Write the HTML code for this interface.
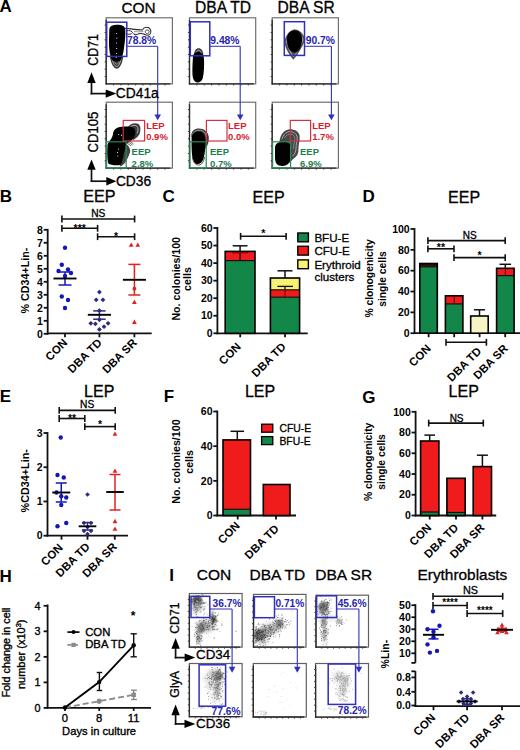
<!DOCTYPE html>
<html><head><meta charset="utf-8"><style>
html,body{margin:0;padding:0;background:#fff;width:520px;height:750px;overflow:hidden}
svg{display:block}
</style></head><body>
<svg width="520" height="750" viewBox="0 0 520 750" font-family='"Liberation Sans", sans-serif'>
<defs><filter id="b1" x="-50%" y="-50%" width="200%" height="200%"><feGaussianBlur stdDeviation="2.2"/></filter><filter id="b2" x="-50%" y="-50%" width="200%" height="200%"><feGaussianBlur stdDeviation="1.2"/></filter><clipPath id="c0"><rect x="189.4" y="593.5" width="52.69999999999999" height="53.60000000000002"/></clipPath><clipPath id="c1"><rect x="253.5" y="594.4" width="52.5" height="52.700000000000045"/></clipPath><clipPath id="c2"><rect x="316.0" y="595.2" width="52.5" height="51.89999999999998"/></clipPath><clipPath id="c3"><rect x="189.4" y="663.5" width="52.69999999999999" height="53.200000000000045"/></clipPath><clipPath id="c4"><rect x="253.3" y="663.5" width="53.0" height="53.5"/></clipPath><clipPath id="c5"><rect x="315.6" y="663.5" width="52.89999999999998" height="53.60000000000002"/></clipPath></defs>
<rect width="520" height="750" fill="#fff"/>
<text x="-0.6" y="12.4" font-size="17" font-weight="bold">A</text>
<text x="138.6" y="12.6" font-size="15.4" text-anchor="middle" stroke="#000" stroke-width="0.3">CON</text>
<text x="223.0" y="12.6" font-size="15.6" text-anchor="middle" stroke="#000" stroke-width="0.3">DBA TD</text>
<text x="306.1" y="12.6" font-size="15.6" text-anchor="middle" stroke="#000" stroke-width="0.3">DBA SR</text>
<path d="M125,28.2 C130,28.6 136,29.9 142.3,29.9 C143.6,27.6 146,26.8 148.2,27.6 C150.9,28.8 151.6,32 150.1,34 C148.6,35.6 146,35.3 144.5,34.3 C141.5,33 139,33.3 136.8,34.6 C135.5,35.2 134.2,34.3 133.6,33.4" fill="none" stroke="#2a2a2a" stroke-width="1.05"/>
<path d="M126,30.7 C129.5,30.1 132.4,31.2 132.6,32.7 C131.6,34.3 128.8,34.6 126,34" fill="none" stroke="#333" stroke-width="1.0"/>
<path d="M145.3,31 C145.9,29.7 148,29.5 149,30.8 C149.6,32.3 148.5,33.7 146.8,33.7 C145.6,33.4 145.1,32.1 145.3,31 Z" fill="none" stroke="#444" stroke-width="0.9"/>
<path d="M134,31.6 C137,31.9 140,31.9 143.3,31.6" fill="none" stroke="#666" stroke-width="0.7"/>
<path d="M109.8,56 C110.8,64 114,68.8 116.8,68.8 C119.8,68.8 122.4,63 123.4,56 Z" fill="#3a3a3a"/>
<path d="M112.2,59 C113.2,64 115.2,66.6 116.8,66.6 C118.6,66.6 120.3,62.5 121.2,58" fill="none" stroke="#ddd" stroke-width="0.7"/>
<path d="M114.2,60 C114.8,62.8 115.8,64.3 116.8,64.3 C117.8,64.3 118.8,62 119.3,59.5" fill="none" stroke="#bbb" stroke-width="0.6"/>
<path d="M109.3,29.5 C109.5,25.8 113.5,24.8 117.5,24.8 C121.5,24.8 124.8,25.6 125.3,29.5 C125.6,35 125,42 124,48 C123.2,54 122,58.5 120.2,60.8 C117.5,62.2 114.2,62 112,60 C109.8,56 108.8,48 109,40 Z" fill="#000"/>
<circle cx="116.6" cy="33.5" r="0.55" fill="#fff"/>
<circle cx="116.8" cy="38" r="0.55" fill="#fff"/>
<circle cx="116.5" cy="43" r="0.55" fill="#fff"/>
<circle cx="116.7" cy="48.5" r="0.55" fill="#fff"/>
<circle cx="116.6" cy="53.5" r="0.55" fill="#fff"/>
<circle cx="116.2" cy="57.5" r="0.55" fill="#fff"/>
<path d="M194,56 C194,50.5 196.2,48.3 198.6,48.3 C201.2,48.3 203.3,50.5 203.4,56 Z" fill="#3a3a3a"/>
<path d="M195.8,55 C196,51.5 197.3,50.3 198.6,50.3 C200.1,50.3 201.4,51.6 201.5,55" fill="none" stroke="#ddd" stroke-width="0.7"/>
<path d="M193,57 C193,53.5 195.5,52 198.3,52 C201.5,52 203.8,54.5 204,59 C204.3,66 204,73 202.8,78 C201.5,82 199,82.6 197,82.4 C194.5,82 192.8,79.5 192.5,75 C192.2,69 192.6,62 193,57 Z" fill="#000"/>
<path d="M294.5,29.3 C289,30.5 285.5,36 284.2,42 C285.5,49 289.5,55 293.3,59.8 C297,56 302,48 305.4,39.6 C303.5,34 300,30 294.5,29.3 Z" fill="#505050"/>
<path d="M294.5,31 C290.5,32 287.5,37 286.6,42 C288,48 291,53 293.5,56.8 C296.5,53 300.5,47 303,40 C301.5,35 298.5,31.5 294.5,31 Z" fill="none" stroke="#ccc" stroke-width="0.7"/>
<path d="M287,39 C287,33.5 290.5,30.3 294.5,30.3 C298.8,30.3 302,33.5 302,39.5 C302,45.5 299.5,50.5 296.5,52.3 C293.5,53.3 290,51.5 288.3,47.5 C287.3,45 287,42 287,39 Z" fill="#000"/>
<path d="M127.5,127.5 C130,123.5 135,122.2 138.5,124 C141,126 140.8,131 139.2,134.5 C137.5,137.5 135,139 133,140 Z" fill="#3a3a3a"/>
<path d="M129.5,128 C131.5,125.3 134.5,124.8 136.8,126 C138.5,127.5 138.3,131 137,133.5" fill="none" stroke="#ccc" stroke-width="0.8"/>
<path d="M113,134 C113.3,129.5 117,126.8 122,126.7 C126,126.6 130,126.2 133,127.6 C135.8,129.3 136,133.5 134.3,137 C132.5,140.3 129.2,142 126.3,143.5 C125.8,147 126.3,153 126,157 C125.6,161.5 123.5,164.5 120,165 C116,165.6 110.5,165.2 108.3,163.5 C107,159 107,149.5 107.6,144.5 C108.8,141 112.5,138.5 113,134 Z" fill="#000"/>
<path d="M126.3,144 C129,146 131,149.5 130,152.5 C128.8,156 127,160 124.5,163.5 C122.5,165.5 121,166.2 119.5,166.5 L122,162 Z" fill="#444"/>
<path d="M127,143 L131,146 M128,142 L132.5,145 M129.5,141 L133.5,144" fill="none" stroke="#444" stroke-width="0.8"/>
<circle cx="118.7" cy="134.5" r="0.55" fill="#fff"/>
<circle cx="121.5" cy="135.2" r="0.55" fill="#fff"/>
<circle cx="118.5" cy="149" r="0.55" fill="#fff"/>
<circle cx="117.5" cy="152.5" r="0.55" fill="#fff"/>
<circle cx="117.8" cy="156" r="0.55" fill="#fff"/>
<path d="M191.3,137 C191,131 194.5,128.6 199,128.6 C204,128.6 208,131.5 208.8,137 C209.2,142 207.5,146 205.5,149 L204,141 Z" fill="#3a3a3a"/>
<path d="M192.8,136 C192.8,132 195.5,130.3 199,130.3 C203,130.3 205.8,132.5 206.2,137" fill="none" stroke="#ccc" stroke-width="0.7"/>
<path d="M191.6,139 C191.6,133.5 195,131.6 198.6,131.6 C202.4,131.6 205.2,134 205.4,140 C205.6,147 205,154 203.4,159 C201.8,163.5 198.5,164.6 196,163.8 C193.5,162.6 192.1,158 191.8,152 C191.5,146 191.5,143 191.6,139 Z" fill="#000"/>
<path d="M192.5,157 C193,162 195.5,165 198.5,165 C201.5,165 203.8,162 204.5,157" fill="none" stroke="#333" stroke-width="0.9"/>
<path d="M279.5,142 C280,135 283.5,130 288.5,129.4 C294,129 298.5,131 299.6,135.5 C300.3,140 298.5,144 298.5,148 C298.5,152 298.2,155 295.5,157 C293,159 291,161 289.5,163 L285,145 Z" fill="#484848"/>
<path d="M282,139 C283,135 286,131.8 289.5,131.6 C293.5,131.5 296.5,133.5 297.2,137 C297.5,141 296,144 296,148 C296,151.5 294.8,154 292.8,156" fill="none" stroke="#ccc" stroke-width="0.7"/>
<path d="M284.5,138 C286,135 288.5,134 291,134.2 C293.5,134.5 295,136.5 294.8,139.5 C294.5,142.5 293.5,145 293.2,149" fill="none" stroke="#aaa" stroke-width="0.6"/>
<path d="M275,148 C275,143.5 278.5,141.8 283,141.8 C287.5,141.8 290.8,143.5 291,148 C291.3,154 291,159.5 289,163 C287,166 282.5,166.6 279,165.6 C276,164.5 275,161 275,157 Z" fill="#000"/>
<rect x="106.2" y="17.8" width="66.2" height="66.10000000000001" fill="none" stroke="#707070" stroke-width="1.2"/>
<line x1="106.2" y1="19.8" x2="106.2" y2="84.5" stroke="#2a2a2a" stroke-width="1.3"/>
<line x1="105.60000000000001" y1="83.9" x2="170.4" y2="83.9" stroke="#2a2a2a" stroke-width="1.3"/>
<path d="M104.6,25.1h1.6M113.6,83.9v1.6M104.6,32.5h1.6M120.9,83.9v1.6M104.6,39.8h1.6M128.3,83.9v1.6M104.6,47.2h1.6M135.6,83.9v1.6M104.6,54.5h1.6M143.0,83.9v1.6M104.6,61.9h1.6M150.3,83.9v1.6M104.6,69.2h1.6M157.7,83.9v1.6M104.6,76.6h1.6M165.0,83.9v1.6" stroke="#333" stroke-width="0.9" fill="none"/>
<rect x="189.5" y="17.8" width="66.19999999999999" height="66.10000000000001" fill="none" stroke="#707070" stroke-width="1.2"/>
<line x1="189.5" y1="19.8" x2="189.5" y2="84.5" stroke="#2a2a2a" stroke-width="1.3"/>
<line x1="188.9" y1="83.9" x2="253.7" y2="83.9" stroke="#2a2a2a" stroke-width="1.3"/>
<path d="M187.9,25.1h1.6M196.9,83.9v1.6M187.9,32.5h1.6M204.2,83.9v1.6M187.9,39.8h1.6M211.6,83.9v1.6M187.9,47.2h1.6M218.9,83.9v1.6M187.9,54.5h1.6M226.3,83.9v1.6M187.9,61.9h1.6M233.6,83.9v1.6M187.9,69.2h1.6M241.0,83.9v1.6M187.9,76.6h1.6M248.3,83.9v1.6" stroke="#333" stroke-width="0.9" fill="none"/>
<rect x="272.2" y="17.8" width="66.19999999999999" height="66.10000000000001" fill="none" stroke="#707070" stroke-width="1.2"/>
<line x1="272.2" y1="19.8" x2="272.2" y2="84.5" stroke="#2a2a2a" stroke-width="1.3"/>
<line x1="271.59999999999997" y1="83.9" x2="336.4" y2="83.9" stroke="#2a2a2a" stroke-width="1.3"/>
<path d="M270.6,25.1h1.6M279.6,83.9v1.6M270.6,32.5h1.6M286.9,83.9v1.6M270.6,39.8h1.6M294.3,83.9v1.6M270.6,47.2h1.6M301.6,83.9v1.6M270.6,54.5h1.6M309.0,83.9v1.6M270.6,61.9h1.6M316.3,83.9v1.6M270.6,69.2h1.6M323.7,83.9v1.6M270.6,76.6h1.6M331.0,83.9v1.6" stroke="#333" stroke-width="0.9" fill="none"/>
<rect x="106.2" y="102.2" width="66.2" height="65.89999999999999" fill="none" stroke="#707070" stroke-width="1.2"/>
<line x1="106.2" y1="104.2" x2="106.2" y2="168.7" stroke="#2a2a2a" stroke-width="1.3"/>
<line x1="105.60000000000001" y1="168.1" x2="170.4" y2="168.1" stroke="#2a2a2a" stroke-width="1.3"/>
<path d="M104.6,109.5h1.6M113.6,168.1v1.6M104.6,116.8h1.6M120.9,168.1v1.6M104.6,124.2h1.6M128.3,168.1v1.6M104.6,131.5h1.6M135.6,168.1v1.6M104.6,138.8h1.6M143.0,168.1v1.6M104.6,146.1h1.6M150.3,168.1v1.6M104.6,153.5h1.6M157.7,168.1v1.6M104.6,160.8h1.6M165.0,168.1v1.6" stroke="#333" stroke-width="0.9" fill="none"/>
<rect x="189.5" y="102.2" width="66.19999999999999" height="65.89999999999999" fill="none" stroke="#707070" stroke-width="1.2"/>
<line x1="189.5" y1="104.2" x2="189.5" y2="168.7" stroke="#2a2a2a" stroke-width="1.3"/>
<line x1="188.9" y1="168.1" x2="253.7" y2="168.1" stroke="#2a2a2a" stroke-width="1.3"/>
<path d="M187.9,109.5h1.6M196.9,168.1v1.6M187.9,116.8h1.6M204.2,168.1v1.6M187.9,124.2h1.6M211.6,168.1v1.6M187.9,131.5h1.6M218.9,168.1v1.6M187.9,138.8h1.6M226.3,168.1v1.6M187.9,146.1h1.6M233.6,168.1v1.6M187.9,153.5h1.6M241.0,168.1v1.6M187.9,160.8h1.6M248.3,168.1v1.6" stroke="#333" stroke-width="0.9" fill="none"/>
<rect x="272.2" y="102.2" width="66.19999999999999" height="65.89999999999999" fill="none" stroke="#707070" stroke-width="1.2"/>
<line x1="272.2" y1="104.2" x2="272.2" y2="168.7" stroke="#2a2a2a" stroke-width="1.3"/>
<line x1="271.59999999999997" y1="168.1" x2="336.4" y2="168.1" stroke="#2a2a2a" stroke-width="1.3"/>
<path d="M270.6,109.5h1.6M279.6,168.1v1.6M270.6,116.8h1.6M286.9,168.1v1.6M270.6,124.2h1.6M294.3,168.1v1.6M270.6,131.5h1.6M301.6,168.1v1.6M270.6,138.8h1.6M309.0,168.1v1.6M270.6,146.1h1.6M316.3,168.1v1.6M270.6,153.5h1.6M323.7,168.1v1.6M270.6,160.8h1.6M331.0,168.1v1.6" stroke="#333" stroke-width="0.9" fill="none"/>
<rect x="106.7" y="22.2" width="20.099999999999994" height="34.2" fill="none" stroke="#3030bc" stroke-width="1.5"/>
<text x="127.0" y="44.3" font-size="10.3" font-weight="bold" fill="#2626aa">78.8%</text>
<line x1="126.8" y1="46.3" x2="157.7" y2="46.3" stroke="#3030bc" stroke-width="1.0"/>
<line x1="157.7" y1="46.3" x2="157.7" y2="115" stroke="#3030bc" stroke-width="1.1"/>
<polygon points="154.40,114.60 161.00,114.60 157.70,120.30" fill="#3030bc"/>
<rect x="190.3" y="21.8" width="19.5" height="34.0" fill="none" stroke="#3030bc" stroke-width="1.5"/>
<text x="210.3" y="44.3" font-size="10.3" font-weight="bold" fill="#2626aa">9.48%</text>
<line x1="209.8" y1="46.3" x2="240.2" y2="46.3" stroke="#3030bc" stroke-width="1.0"/>
<line x1="240.2" y1="46.3" x2="240.2" y2="115" stroke="#3030bc" stroke-width="1.1"/>
<polygon points="236.90,114.60 243.50,114.60 240.20,120.30" fill="#3030bc"/>
<rect x="284.3" y="21.7" width="20.19999999999999" height="33.7" fill="none" stroke="#3030bc" stroke-width="1.5"/>
<text x="305.8" y="44.3" font-size="10.3" font-weight="bold" fill="#2626aa">90.7%</text>
<line x1="304.5" y1="46.3" x2="331.4" y2="46.3" stroke="#3030bc" stroke-width="1.0"/>
<line x1="331.4" y1="46.3" x2="331.4" y2="115" stroke="#3030bc" stroke-width="1.1"/>
<polygon points="328.10,114.60 334.70,114.60 331.40,120.30" fill="#3030bc"/>
<rect x="123.2" y="120.4" width="21.39999999999999" height="20.599999999999994" fill="none" stroke="#d83040" stroke-width="1.2"/>
<rect x="106.60000000000001" y="141.8" width="19.6" height="26.299999999999983" fill="none" stroke="#238a58" stroke-width="1.2"/>
<text x="146.2" y="128.7" font-size="9.5" font-weight="bold" fill="#d6202e">LEP</text>
<text x="146.2" y="139.8" font-size="9.5" font-weight="bold" fill="#d6202e">0.9%</text>
<text x="131.6" y="155.4" font-size="9.5" font-weight="bold" fill="#1c7e4e">EEP</text>
<text x="131.6" y="166.5" font-size="9.5" font-weight="bold" fill="#1c7e4e">2.8%</text>
<rect x="206.4" y="120.4" width="20.599999999999994" height="20.599999999999994" fill="none" stroke="#d83040" stroke-width="1.2"/>
<rect x="189.9" y="141.8" width="16.29999999999999" height="26.299999999999983" fill="none" stroke="#238a58" stroke-width="1.2"/>
<text x="228.0" y="128.7" font-size="9.5" font-weight="bold" fill="#d6202e">LEP</text>
<text x="228.0" y="139.8" font-size="9.5" font-weight="bold" fill="#d6202e">0.0%</text>
<text x="210.0" y="155.4" font-size="9.5" font-weight="bold" fill="#1c7e4e">EEP</text>
<text x="210.0" y="166.5" font-size="9.5" font-weight="bold" fill="#1c7e4e">0.7%</text>
<rect x="290.3" y="120.4" width="20.30000000000001" height="20.599999999999994" fill="none" stroke="#d83040" stroke-width="1.2"/>
<rect x="272.59999999999997" y="141.8" width="18.000000000000036" height="26.299999999999983" fill="none" stroke="#238a58" stroke-width="1.2"/>
<text x="312.2" y="128.7" font-size="9.5" font-weight="bold" fill="#d6202e">LEP</text>
<text x="312.2" y="139.8" font-size="9.5" font-weight="bold" fill="#d6202e">1.7%</text>
<text x="300.0" y="155.4" font-size="9.5" font-weight="bold" fill="#1c7e4e">EEP</text>
<text x="300.0" y="166.5" font-size="9.5" font-weight="bold" fill="#1c7e4e">6.9%</text>
<text x="97.7" y="49.9" font-size="13.8" text-anchor="middle" transform="rotate(-90 97.7 49.9)" textLength="31.6" lengthAdjust="spacingAndGlyphs" stroke="#000" stroke-width="0.3">CD71</text>
<text x="98.0" y="132.1" font-size="14.0" text-anchor="middle" transform="rotate(-90 98.0 132.1)" textLength="40.8" lengthAdjust="spacingAndGlyphs" stroke="#000" stroke-width="0.3">CD105</text>
<polygon points="87.30,82.90 95.70,82.90 91.50,72.20" fill="#000"/>
<line x1="91.5" y1="81.9" x2="91.5" y2="94.44999999999999" stroke="#111" stroke-width="1.7"/>
<line x1="90.65" y1="93.6" x2="107.4" y2="93.6" stroke="#111" stroke-width="1.7"/>
<polygon points="105.70,89.40 105.70,97.80 116.40,93.60" fill="#000"/>
<polygon points="87.30,169.70 95.70,169.70 91.50,159.60" fill="#000"/>
<line x1="91.5" y1="168.7" x2="91.5" y2="182.04999999999998" stroke="#111" stroke-width="1.7"/>
<line x1="90.65" y1="181.2" x2="107.4" y2="181.2" stroke="#111" stroke-width="1.7"/>
<polygon points="106.30,177.00 106.30,185.40 116.40,181.20" fill="#000"/>
<text x="115.8" y="98.3" font-size="13.8" stroke="#000" stroke-width="0.3">CD41a</text>
<text x="115.9" y="185.7" font-size="13.8" stroke="#000" stroke-width="0.3">CD36</text>
<text x="-0.2" y="201.5" font-size="17" font-weight="bold">B</text>
<text x="99.4" y="202.3" font-size="16.2" text-anchor="middle" stroke="#000" stroke-width="0.3">EEP</text>
<line x1="47.7" y1="228.9" x2="47.7" y2="334.7" stroke="#111" stroke-width="1.8"/>
<line x1="43.7" y1="333.8" x2="47.7" y2="333.8" stroke="#111" stroke-width="1.8"/>
<text x="42.900000000000006" y="337.5" font-size="10.5" text-anchor="end" font-weight="bold">0</text>
<line x1="43.7" y1="320.8" x2="47.7" y2="320.8" stroke="#111" stroke-width="1.8"/>
<text x="42.900000000000006" y="324.5" font-size="10.5" text-anchor="end" font-weight="bold">1</text>
<line x1="43.7" y1="307.8" x2="47.7" y2="307.8" stroke="#111" stroke-width="1.8"/>
<text x="42.900000000000006" y="311.5" font-size="10.5" text-anchor="end" font-weight="bold">2</text>
<line x1="43.7" y1="294.8" x2="47.7" y2="294.8" stroke="#111" stroke-width="1.8"/>
<text x="42.900000000000006" y="298.5" font-size="10.5" text-anchor="end" font-weight="bold">3</text>
<line x1="43.7" y1="281.8" x2="47.7" y2="281.8" stroke="#111" stroke-width="1.8"/>
<text x="42.900000000000006" y="285.5" font-size="10.5" text-anchor="end" font-weight="bold">4</text>
<line x1="43.7" y1="268.8" x2="47.7" y2="268.8" stroke="#111" stroke-width="1.8"/>
<text x="42.900000000000006" y="272.5" font-size="10.5" text-anchor="end" font-weight="bold">5</text>
<line x1="43.7" y1="255.8" x2="47.7" y2="255.8" stroke="#111" stroke-width="1.8"/>
<text x="42.900000000000006" y="259.5" font-size="10.5" text-anchor="end" font-weight="bold">6</text>
<line x1="43.7" y1="242.8" x2="47.7" y2="242.8" stroke="#111" stroke-width="1.8"/>
<text x="42.900000000000006" y="246.5" font-size="10.5" text-anchor="end" font-weight="bold">7</text>
<line x1="43.7" y1="229.8" x2="47.7" y2="229.8" stroke="#111" stroke-width="1.8"/>
<text x="42.900000000000006" y="233.5" font-size="10.5" text-anchor="end" font-weight="bold">8</text>
<line x1="46.8" y1="333.3" x2="151.7" y2="333.3" stroke="#111" stroke-width="1.8"/>
<line x1="65" y1="333.3" x2="65" y2="337.3" stroke="#111" stroke-width="1.8"/>
<line x1="99.4" y1="333.3" x2="99.4" y2="337.3" stroke="#111" stroke-width="1.8"/>
<line x1="134.4" y1="333.3" x2="134.4" y2="337.3" stroke="#111" stroke-width="1.8"/>
<circle cx="65" cy="247.8" r="2.2" fill="#1616b8"/>
<circle cx="61.8" cy="264.8" r="2.2" fill="#1616b8"/>
<circle cx="58.5" cy="271" r="2.2" fill="#1616b8"/>
<circle cx="68" cy="269.5" r="2.2" fill="#1616b8"/>
<circle cx="71" cy="273" r="2.2" fill="#1616b8"/>
<circle cx="65" cy="276" r="2.2" fill="#1616b8"/>
<circle cx="61.8" cy="296.5" r="2.2" fill="#1616b8"/>
<circle cx="68" cy="300" r="2.2" fill="#1616b8"/>
<circle cx="65" cy="308" r="2.2" fill="#1616b8"/>
<line x1="65" y1="272" x2="65" y2="285" stroke="#1616b8" stroke-width="1.5"/>
<line x1="58.5" y1="272" x2="71.5" y2="272" stroke="#1616b8" stroke-width="1.5"/>
<line x1="58.5" y1="285" x2="71.5" y2="285" stroke="#1616b8" stroke-width="1.5"/>
<line x1="53.5" y1="278.5" x2="76.5" y2="278.5" stroke="#000" stroke-width="1.9"/>
<polygon points="99.40,289.70 101.80,292.10 99.40,294.50 97.00,292.10" fill="#2c2a7c"/>
<polygon points="96.20,297.40 98.60,299.80 96.20,302.20 93.80,299.80" fill="#2c2a7c"/>
<polygon points="102.90,297.40 105.30,299.80 102.90,302.20 100.50,299.80" fill="#2c2a7c"/>
<polygon points="99.40,308.20 101.80,310.60 99.40,313.00 97.00,310.60" fill="#2c2a7c"/>
<polygon points="99.40,317.40 101.80,319.80 99.40,322.20 97.00,319.80" fill="#2c2a7c"/>
<polygon points="90.80,320.90 93.20,323.30 90.80,325.70 88.40,323.30" fill="#2c2a7c"/>
<polygon points="95.40,321.40 97.80,323.80 95.40,326.20 93.00,323.80" fill="#2c2a7c"/>
<polygon points="108.10,320.90 110.50,323.30 108.10,325.70 105.70,323.30" fill="#2c2a7c"/>
<polygon points="104.00,324.30 106.40,326.70 104.00,329.10 101.60,326.70" fill="#2c2a7c"/>
<polygon points="99.40,327.00 101.80,329.40 99.40,331.80 97.00,329.40" fill="#2c2a7c"/>
<line x1="99.4" y1="310.9" x2="99.4" y2="319.2" stroke="#2c2a7c" stroke-width="1.5"/>
<line x1="93.2" y1="310.9" x2="105.60000000000001" y2="310.9" stroke="#2c2a7c" stroke-width="1.5"/>
<line x1="93.2" y1="319.2" x2="105.60000000000001" y2="319.2" stroke="#2c2a7c" stroke-width="1.5"/>
<line x1="87.80000000000001" y1="314.8" x2="111.0" y2="314.8" stroke="#000" stroke-width="1.9"/>
<polygon points="128.80,246.84 133.60,246.84 131.20,242.40" fill="#e42020"/>
<polygon points="135.40,246.84 140.20,246.84 137.80,242.40" fill="#e42020"/>
<polygon points="132.00,304.04 136.80,304.04 134.40,299.60" fill="#e42020"/>
<polygon points="132.00,324.04 136.80,324.04 134.40,319.60" fill="#e42020"/>
<circle cx="134.4" cy="288.7" r="1.9" fill="#e42020"/>
<line x1="134.4" y1="264.4" x2="134.4" y2="295" stroke="#e42020" stroke-width="1.5"/>
<line x1="128.4" y1="264.4" x2="140.4" y2="264.4" stroke="#e42020" stroke-width="1.5"/>
<line x1="128.4" y1="295" x2="140.4" y2="295" stroke="#e42020" stroke-width="1.5"/>
<line x1="122.9" y1="279.8" x2="145.9" y2="279.8" stroke="#000" stroke-width="1.9"/>
<line x1="61.9" y1="219.0" x2="134.6" y2="219.0" stroke="#111" stroke-width="1.6"/>
<line x1="61.9" y1="215.6" x2="61.9" y2="222.4" stroke="#111" stroke-width="1.6"/>
<line x1="134.6" y1="215.6" x2="134.6" y2="222.4" stroke="#111" stroke-width="1.6"/>
<text x="98.25" y="216.6" font-size="10.2" text-anchor="middle" stroke="#000" stroke-width="0.3">NS</text>
<line x1="61.9" y1="228.3" x2="97.6" y2="228.3" stroke="#111" stroke-width="1.6"/>
<line x1="61.9" y1="224.9" x2="61.9" y2="231.70000000000002" stroke="#111" stroke-width="1.6"/>
<line x1="97.6" y1="224.9" x2="97.6" y2="231.70000000000002" stroke="#111" stroke-width="1.6"/>
<text x="79.75" y="231.6" font-size="10.5" text-anchor="middle" font-weight="bold">***</text>
<line x1="97.6" y1="236.7" x2="134.6" y2="236.7" stroke="#111" stroke-width="1.6"/>
<line x1="97.6" y1="233.29999999999998" x2="97.6" y2="240.1" stroke="#111" stroke-width="1.6"/>
<line x1="134.6" y1="233.29999999999998" x2="134.6" y2="240.1" stroke="#111" stroke-width="1.6"/>
<text x="116.1" y="240.0" font-size="10.5" text-anchor="middle" font-weight="bold">*</text>
<text x="29.2" y="280.6" font-size="10.7" text-anchor="middle" font-weight="bold" transform="rotate(-90 29.2 280.6)">% CD34+Lin-</text>
<text x="68" y="343.5" font-size="11.4" text-anchor="end" font-weight="bold" transform="rotate(-45 68 343.5)">CON</text>
<text x="102.5" y="343.5" font-size="11.4" text-anchor="end" font-weight="bold" transform="rotate(-45 102.5 343.5)">DBA TD</text>
<text x="137.5" y="343.5" font-size="11.4" text-anchor="end" font-weight="bold" transform="rotate(-45 137.5 343.5)">DBA SR</text>
<text x="162.6" y="201.7" font-size="17" font-weight="bold">C</text>
<text x="268.6" y="202.8" font-size="16" text-anchor="middle" stroke="#000" stroke-width="0.3">EEP</text>
<line x1="217.4" y1="227.1" x2="217.4" y2="334.2" stroke="#111" stroke-width="1.8"/>
<line x1="213.4" y1="333.3" x2="217.4" y2="333.3" stroke="#111" stroke-width="1.8"/>
<text x="212.6" y="337.0" font-size="10.5" text-anchor="end" font-weight="bold">0</text>
<line x1="213.4" y1="315.75" x2="217.4" y2="315.75" stroke="#111" stroke-width="1.8"/>
<text x="212.6" y="319.45" font-size="10.5" text-anchor="end" font-weight="bold">10</text>
<line x1="213.4" y1="298.2" x2="217.4" y2="298.2" stroke="#111" stroke-width="1.8"/>
<text x="212.6" y="301.9" font-size="10.5" text-anchor="end" font-weight="bold">20</text>
<line x1="213.4" y1="280.65" x2="217.4" y2="280.65" stroke="#111" stroke-width="1.8"/>
<text x="212.6" y="284.34999999999997" font-size="10.5" text-anchor="end" font-weight="bold">30</text>
<line x1="213.4" y1="263.1" x2="217.4" y2="263.1" stroke="#111" stroke-width="1.8"/>
<text x="212.6" y="266.8" font-size="10.5" text-anchor="end" font-weight="bold">40</text>
<line x1="213.4" y1="245.55" x2="217.4" y2="245.55" stroke="#111" stroke-width="1.8"/>
<text x="212.6" y="249.25" font-size="10.5" text-anchor="end" font-weight="bold">50</text>
<line x1="213.4" y1="228.0" x2="217.4" y2="228.0" stroke="#111" stroke-width="1.8"/>
<text x="212.6" y="231.7" font-size="10.5" text-anchor="end" font-weight="bold">60</text>
<line x1="216.5" y1="333.3" x2="307.7" y2="333.3" stroke="#111" stroke-width="1.8"/>
<line x1="240.2" y1="333.3" x2="240.2" y2="337.3" stroke="#111" stroke-width="1.8"/>
<line x1="285.0" y1="333.3" x2="285.0" y2="337.3" stroke="#111" stroke-width="1.8"/>
<rect x="225.2" y="260.6" width="29.80000000000001" height="72.69999999999999" fill="#138649" stroke="none" stroke-width="1"/>
<rect x="225.2" y="251.4" width="29.80000000000001" height="9.200000000000017" fill="#f01c1c" stroke="none" stroke-width="1"/>
<line x1="225.2" y1="260.6" x2="255.0" y2="260.6" stroke="#111" stroke-width="1.2"/>
<rect x="225.2" y="251.4" width="29.80000000000001" height="81.9" fill="none" stroke="#000" stroke-width="1.6"/>
<line x1="240.1" y1="251.4" x2="240.1" y2="245.8" stroke="#111" stroke-width="1.5"/>
<line x1="232.7" y1="245.8" x2="247.5" y2="245.8" stroke="#111" stroke-width="1.5"/>
<line x1="240.1" y1="252.0" x2="240.1" y2="260.3" stroke="#300" stroke-width="1.3"/>
<line x1="232" y1="252.8" x2="248.2" y2="252.8" stroke="#700" stroke-width="1.0"/>
<rect x="270.4" y="297.2" width="29.200000000000045" height="36.10000000000002" fill="#138649" stroke="none" stroke-width="1"/>
<rect x="270.4" y="289.8" width="29.200000000000045" height="7.399999999999977" fill="#f01c1c" stroke="none" stroke-width="1"/>
<rect x="270.4" y="278.0" width="29.200000000000045" height="11.800000000000011" fill="#f8f274" stroke="none" stroke-width="1"/>
<line x1="270.4" y1="297.2" x2="299.6" y2="297.2" stroke="#111" stroke-width="1.2"/>
<line x1="270.4" y1="289.8" x2="299.6" y2="289.8" stroke="#111" stroke-width="1.2"/>
<rect x="270.4" y="278.0" width="29.200000000000045" height="55.30000000000001" fill="none" stroke="#000" stroke-width="1.6"/>
<line x1="285.0" y1="278.3" x2="285.0" y2="270.8" stroke="#111" stroke-width="1.5"/>
<line x1="277.5" y1="270.8" x2="292.5" y2="270.8" stroke="#111" stroke-width="1.5"/>
<line x1="285.0" y1="286.4" x2="285.0" y2="290.2" stroke="#111" stroke-width="1.3"/>
<line x1="277.4" y1="286.4" x2="293.0" y2="286.4" stroke="#111" stroke-width="1.3"/>
<line x1="285.0" y1="291" x2="285.0" y2="297" stroke="#600" stroke-width="1.0"/>
<line x1="240.6" y1="236.3" x2="286.1" y2="236.3" stroke="#111" stroke-width="1.6"/>
<line x1="240.6" y1="232.9" x2="240.6" y2="239.70000000000002" stroke="#111" stroke-width="1.6"/>
<line x1="286.1" y1="232.9" x2="286.1" y2="239.70000000000002" stroke="#111" stroke-width="1.6"/>
<text x="263.35" y="237.0" font-size="10.5" text-anchor="middle" font-weight="bold">*</text>
<rect x="297.8" y="233.0" width="10.6" height="8.8" fill="#138649" stroke="#000" stroke-width="1.4"/>
<text x="314.4" y="241.8" font-size="11.6" stroke="#000" stroke-width="0.3">BFU-E</text>
<rect x="297.8" y="246.3" width="10.6" height="8.8" fill="#f01c1c" stroke="#000" stroke-width="1.4"/>
<text x="314.4" y="255.10000000000002" font-size="11.6" stroke="#000" stroke-width="0.3">CFU-E</text>
<rect x="297.8" y="259.9" width="10.6" height="8.8" fill="#f8f274" stroke="#000" stroke-width="1.4"/>
<text x="314.4" y="268.7" font-size="11.6" stroke="#000" stroke-width="0.3">Erythroid</text>
<text x="314.4" y="280.6" font-size="11.6" stroke="#000" stroke-width="0.3">clusters</text>
<text x="180.4" y="278.8" font-size="10.6" text-anchor="middle" font-weight="bold" transform="rotate(-90 180.4 278.8)">No. colonies/100</text>
<text x="191.2" y="279.0" font-size="10.7" text-anchor="middle" font-weight="bold" transform="rotate(-90 191.2 279.0)">cells</text>
<text x="241.5" y="347.5" font-size="11.4" text-anchor="end" font-weight="bold" transform="rotate(-45 241.5 347.5)">CON</text>
<text x="286.5" y="347.5" font-size="11.4" text-anchor="end" font-weight="bold" transform="rotate(-45 286.5 347.5)">DBA TD</text>
<text x="362.4" y="201.5" font-size="17" font-weight="bold">D</text>
<text x="464.1" y="202.8" font-size="16" text-anchor="middle" stroke="#000" stroke-width="0.3">EEP</text>
<line x1="414.5" y1="228.1" x2="414.5" y2="334.09999999999997" stroke="#111" stroke-width="1.8"/>
<line x1="410.5" y1="333.2" x2="414.5" y2="333.2" stroke="#111" stroke-width="1.8"/>
<text x="409.7" y="336.9" font-size="10.5" text-anchor="end" font-weight="bold">0</text>
<line x1="410.5" y1="312.36" x2="414.5" y2="312.36" stroke="#111" stroke-width="1.8"/>
<text x="409.7" y="316.06" font-size="10.5" text-anchor="end" font-weight="bold">20</text>
<line x1="410.5" y1="291.52" x2="414.5" y2="291.52" stroke="#111" stroke-width="1.8"/>
<text x="409.7" y="295.21999999999997" font-size="10.5" text-anchor="end" font-weight="bold">40</text>
<line x1="410.5" y1="270.68" x2="414.5" y2="270.68" stroke="#111" stroke-width="1.8"/>
<text x="409.7" y="274.38" font-size="10.5" text-anchor="end" font-weight="bold">60</text>
<line x1="410.5" y1="249.84" x2="414.5" y2="249.84" stroke="#111" stroke-width="1.8"/>
<text x="409.7" y="253.54" font-size="10.5" text-anchor="end" font-weight="bold">80</text>
<line x1="410.5" y1="229.0" x2="414.5" y2="229.0" stroke="#111" stroke-width="1.8"/>
<text x="409.7" y="232.7" font-size="10.5" text-anchor="end" font-weight="bold">100</text>
<line x1="414" y1="333.2" x2="520" y2="333.2" stroke="#111" stroke-width="1.8"/>
<line x1="428.6" y1="333.2" x2="428.6" y2="337.2" stroke="#111" stroke-width="1.8"/>
<line x1="454.2" y1="333.2" x2="454.2" y2="337.2" stroke="#111" stroke-width="1.8"/>
<line x1="479.6" y1="333.2" x2="479.6" y2="337.2" stroke="#111" stroke-width="1.8"/>
<line x1="505.2" y1="333.2" x2="505.2" y2="337.2" stroke="#111" stroke-width="1.8"/>
<rect x="419.8" y="266.8" width="17.5" height="66.39999999999998" fill="#138649" stroke="none" stroke-width="1"/>
<rect x="419.8" y="263.5" width="17.5" height="3.3000000000000114" fill="#3a0c0c" stroke="none" stroke-width="1"/>
<line x1="419.8" y1="266.8" x2="437.3" y2="266.8" stroke="#111" stroke-width="1.2"/>
<rect x="419.8" y="263.5" width="17.5" height="69.69999999999999" fill="none" stroke="#000" stroke-width="1.6"/>
<rect x="445.4" y="303.9" width="17.5" height="29.30000000000001" fill="#138649" stroke="none" stroke-width="1"/>
<rect x="445.4" y="295.8" width="17.5" height="8.099999999999966" fill="#f01c1c" stroke="none" stroke-width="1"/>
<line x1="445.4" y1="303.9" x2="462.9" y2="303.9" stroke="#111" stroke-width="1.2"/>
<rect x="445.4" y="295.8" width="17.5" height="37.39999999999998" fill="none" stroke="#000" stroke-width="1.6"/>
<line x1="454.2" y1="297" x2="454.2" y2="303.5" stroke="#600" stroke-width="1.0"/>
<rect x="470.7" y="316" width="17.5" height="17.19999999999999" fill="#f6f4c4" stroke="none" stroke-width="1"/>
<rect x="470.7" y="316" width="17.5" height="17.19999999999999" fill="none" stroke="#000" stroke-width="1.6"/>
<line x1="479.5" y1="316" x2="479.5" y2="309.8" stroke="#111" stroke-width="1.5"/>
<line x1="473.9" y1="309.8" x2="485.1" y2="309.8" stroke="#111" stroke-width="1.5"/>
<rect x="496.6" y="275.6" width="17.5" height="57.599999999999966" fill="#138649" stroke="none" stroke-width="1"/>
<rect x="496.6" y="268.3" width="17.5" height="7.300000000000011" fill="#f01c1c" stroke="none" stroke-width="1"/>
<line x1="496.6" y1="275.6" x2="514.1" y2="275.6" stroke="#111" stroke-width="1.2"/>
<rect x="496.6" y="268.3" width="17.5" height="64.89999999999998" fill="none" stroke="#000" stroke-width="1.6"/>
<line x1="505.3" y1="268.3" x2="505.3" y2="264.3" stroke="#111" stroke-width="1.5"/>
<line x1="499.5" y1="264.3" x2="511.1" y2="264.3" stroke="#111" stroke-width="1.5"/>
<line x1="505.3" y1="269" x2="505.3" y2="275.5" stroke="#600" stroke-width="1.0"/>
<line x1="427.9" y1="240.6" x2="505.2" y2="240.6" stroke="#111" stroke-width="1.6"/>
<line x1="427.9" y1="237.2" x2="427.9" y2="244.0" stroke="#111" stroke-width="1.6"/>
<line x1="505.2" y1="237.2" x2="505.2" y2="244.0" stroke="#111" stroke-width="1.6"/>
<text x="469.8" y="238.5" font-size="10" text-anchor="middle" stroke="#000" stroke-width="0.3">NS</text>
<line x1="427.9" y1="248.8" x2="454.0" y2="248.8" stroke="#111" stroke-width="1.6"/>
<line x1="427.9" y1="245.4" x2="427.9" y2="252.20000000000002" stroke="#111" stroke-width="1.6"/>
<line x1="454.0" y1="245.4" x2="454.0" y2="252.20000000000002" stroke="#111" stroke-width="1.6"/>
<text x="440.95" y="251.2" font-size="10.5" text-anchor="middle" font-weight="bold">**</text>
<line x1="454.0" y1="257.6" x2="505.2" y2="257.6" stroke="#111" stroke-width="1.6"/>
<line x1="454.0" y1="254.20000000000002" x2="454.0" y2="261.0" stroke="#111" stroke-width="1.6"/>
<line x1="505.2" y1="254.20000000000002" x2="505.2" y2="261.0" stroke="#111" stroke-width="1.6"/>
<text x="479.6" y="258.8" font-size="10.5" text-anchor="middle" font-weight="bold">*</text>
<line x1="446" y1="342.3" x2="486.4" y2="342.3" stroke="#111" stroke-width="1.6"/>
<line x1="446" y1="338.90000000000003" x2="446" y2="345.7" stroke="#111" stroke-width="1.6"/>
<line x1="486.4" y1="338.90000000000003" x2="486.4" y2="345.7" stroke="#111" stroke-width="1.6"/>
<text x="373.5" y="278.4" font-size="10.3" text-anchor="middle" font-weight="bold" transform="rotate(-90 373.5 278.4)">% clonogenicity</text>
<text x="386.2" y="279.0" font-size="10.3" text-anchor="middle" font-weight="bold" transform="rotate(-90 386.2 279.0)">single cells</text>
<text x="431.5" y="349.3" font-size="11.4" text-anchor="end" font-weight="bold" transform="rotate(-45 431.5 349.3)">CON</text>
<text x="482" y="352" font-size="11.4" text-anchor="end" font-weight="bold" transform="rotate(-45 482 352)">DBA TD</text>
<text x="508.5" y="349.3" font-size="11.4" text-anchor="end" font-weight="bold" transform="rotate(-45 508.5 349.3)">DBA SR</text>
<text x="-0.2" y="402.4" font-size="17" font-weight="bold">E</text>
<text x="99.2" y="397.2" font-size="16" text-anchor="middle" stroke="#000" stroke-width="0.3">LEP</text>
<line x1="47.5" y1="432.1" x2="47.5" y2="536.6" stroke="#111" stroke-width="1.8"/>
<line x1="43.5" y1="535.7" x2="47.5" y2="535.7" stroke="#111" stroke-width="1.8"/>
<text x="42.7" y="539.4000000000001" font-size="10.5" text-anchor="end" font-weight="bold">0</text>
<line x1="43.5" y1="501.4666666666667" x2="47.5" y2="501.4666666666667" stroke="#111" stroke-width="1.8"/>
<text x="42.7" y="505.1666666666667" font-size="10.5" text-anchor="end" font-weight="bold">1</text>
<line x1="43.5" y1="467.23333333333335" x2="47.5" y2="467.23333333333335" stroke="#111" stroke-width="1.8"/>
<text x="42.7" y="470.93333333333334" font-size="10.5" text-anchor="end" font-weight="bold">2</text>
<line x1="43.5" y1="433.0" x2="47.5" y2="433.0" stroke="#111" stroke-width="1.8"/>
<text x="42.7" y="436.7" font-size="10.5" text-anchor="end" font-weight="bold">3</text>
<line x1="46.5" y1="535.7" x2="128" y2="535.7" stroke="#111" stroke-width="1.8"/>
<line x1="61.5" y1="535.7" x2="61.5" y2="539.7" stroke="#111" stroke-width="1.8"/>
<line x1="87.5" y1="535.7" x2="87.5" y2="539.7" stroke="#111" stroke-width="1.8"/>
<line x1="114.8" y1="535.7" x2="114.8" y2="539.7" stroke="#111" stroke-width="1.8"/>
<circle cx="60.75" cy="437.5" r="2.2" fill="#1616b8"/>
<circle cx="57.5" cy="475" r="2.2" fill="#1616b8"/>
<circle cx="63.75" cy="477.5" r="2.2" fill="#1616b8"/>
<circle cx="56.5" cy="492.5" r="2.2" fill="#1616b8"/>
<circle cx="61.25" cy="496.25" r="2.2" fill="#1616b8"/>
<circle cx="66.25" cy="497.5" r="2.2" fill="#1616b8"/>
<circle cx="61.25" cy="505" r="2.2" fill="#1616b8"/>
<circle cx="66.25" cy="523" r="2.2" fill="#1616b8"/>
<circle cx="57.5" cy="526.25" r="2.2" fill="#1616b8"/>
<line x1="61.25" y1="483" x2="61.25" y2="502" stroke="#1616b8" stroke-width="1.5"/>
<line x1="55.75" y1="483" x2="66.75" y2="483" stroke="#1616b8" stroke-width="1.5"/>
<line x1="55.75" y1="502" x2="66.75" y2="502" stroke="#1616b8" stroke-width="1.5"/>
<line x1="52.25" y1="492.5" x2="70.25" y2="492.5" stroke="#000" stroke-width="1.9"/>
<polygon points="87.50,492.20 89.80,494.50 87.50,496.80 85.20,494.50" fill="#2c2a7c"/>
<polygon points="84.00,520.70 86.30,523.00 84.00,525.30 81.70,523.00" fill="#2c2a7c"/>
<polygon points="91.00,520.70 93.30,523.00 91.00,525.30 88.70,523.00" fill="#2c2a7c"/>
<polygon points="87.50,524.70 89.80,527.00 87.50,529.30 85.20,527.00" fill="#2c2a7c"/>
<polygon points="84.00,528.70 86.30,531.00 84.00,533.30 81.70,531.00" fill="#2c2a7c"/>
<polygon points="91.00,528.70 93.30,531.00 91.00,533.30 88.70,531.00" fill="#2c2a7c"/>
<polygon points="87.50,531.70 89.80,534.00 87.50,536.30 85.20,534.00" fill="#2c2a7c"/>
<line x1="87.5" y1="522.5" x2="87.5" y2="530" stroke="#2c2a7c" stroke-width="1.5"/>
<line x1="82.0" y1="522.5" x2="93.0" y2="522.5" stroke="#2c2a7c" stroke-width="1.5"/>
<line x1="82.0" y1="530" x2="93.0" y2="530" stroke="#2c2a7c" stroke-width="1.5"/>
<line x1="78.7" y1="526.3" x2="96.3" y2="526.3" stroke="#000" stroke-width="1.9"/>
<polygon points="112.60,435.84 117.40,435.84 115.00,431.40" fill="#e42020"/>
<polygon points="112.60,472.84 117.40,472.84 115.00,468.40" fill="#e42020"/>
<polygon points="112.60,523.24 117.40,523.24 115.00,518.80" fill="#e42020"/>
<polygon points="112.60,530.84 117.40,530.84 115.00,526.40" fill="#e42020"/>
<line x1="115" y1="474.5" x2="115" y2="510" stroke="#e42020" stroke-width="1.5"/>
<line x1="109.5" y1="474.5" x2="120.5" y2="474.5" stroke="#e42020" stroke-width="1.5"/>
<line x1="109.5" y1="510" x2="120.5" y2="510" stroke="#e42020" stroke-width="1.5"/>
<line x1="106.2" y1="492" x2="123.8" y2="492" stroke="#000" stroke-width="1.9"/>
<line x1="59.2" y1="410.4" x2="115.2" y2="410.4" stroke="#111" stroke-width="1.6"/>
<line x1="59.2" y1="407.0" x2="59.2" y2="413.79999999999995" stroke="#111" stroke-width="1.6"/>
<line x1="115.2" y1="407.0" x2="115.2" y2="413.79999999999995" stroke="#111" stroke-width="1.6"/>
<text x="87.2" y="407.8" font-size="10.2" text-anchor="middle" stroke="#000" stroke-width="0.3">NS</text>
<line x1="59.2" y1="418.5" x2="84.8" y2="418.5" stroke="#111" stroke-width="1.6"/>
<line x1="59.2" y1="415.1" x2="59.2" y2="421.9" stroke="#111" stroke-width="1.6"/>
<line x1="84.8" y1="415.1" x2="84.8" y2="421.9" stroke="#111" stroke-width="1.6"/>
<text x="72.0" y="421.6" font-size="10.5" text-anchor="middle" font-weight="bold">**</text>
<line x1="84.8" y1="426.6" x2="115.2" y2="426.6" stroke="#111" stroke-width="1.6"/>
<line x1="84.8" y1="423.20000000000005" x2="84.8" y2="430.0" stroke="#111" stroke-width="1.6"/>
<line x1="115.2" y1="423.20000000000005" x2="115.2" y2="430.0" stroke="#111" stroke-width="1.6"/>
<text x="100.0" y="428.2" font-size="10.5" text-anchor="middle" font-weight="bold">*</text>
<text x="28.6" y="480.8" font-size="10.8" text-anchor="middle" font-weight="bold" transform="rotate(-90 28.6 480.8)">%CD34+Lin-</text>
<text x="63.5" y="548.5" font-size="11.4" text-anchor="end" font-weight="bold" transform="rotate(-45 63.5 548.5)">CON</text>
<text x="90.5" y="547.5" font-size="11.4" text-anchor="end" font-weight="bold" transform="rotate(-45 90.5 547.5)">DBA TD</text>
<text x="117.5" y="547.5" font-size="11.4" text-anchor="end" font-weight="bold" transform="rotate(-45 117.5 547.5)">DBA SR</text>
<text x="163.8" y="402.4" font-size="17" font-weight="bold">F</text>
<text x="260.0" y="397.4" font-size="16" text-anchor="middle" stroke="#000" stroke-width="0.3">LEP</text>
<line x1="217.3" y1="410.6" x2="217.3" y2="516.4" stroke="#111" stroke-width="1.8"/>
<line x1="213.3" y1="515.5" x2="217.3" y2="515.5" stroke="#111" stroke-width="1.8"/>
<text x="212.5" y="519.2" font-size="10.5" text-anchor="end" font-weight="bold">0</text>
<line x1="213.3" y1="480.8333333333333" x2="217.3" y2="480.8333333333333" stroke="#111" stroke-width="1.8"/>
<text x="212.5" y="484.5333333333333" font-size="10.5" text-anchor="end" font-weight="bold">20</text>
<line x1="213.3" y1="446.16666666666663" x2="217.3" y2="446.16666666666663" stroke="#111" stroke-width="1.8"/>
<text x="212.5" y="449.8666666666666" font-size="10.5" text-anchor="end" font-weight="bold">40</text>
<line x1="213.3" y1="411.5" x2="217.3" y2="411.5" stroke="#111" stroke-width="1.8"/>
<text x="212.5" y="415.2" font-size="10.5" text-anchor="end" font-weight="bold">60</text>
<line x1="216.5" y1="515.5" x2="296" y2="515.5" stroke="#111" stroke-width="1.8"/>
<line x1="237.7" y1="515.5" x2="237.7" y2="519.5" stroke="#111" stroke-width="1.8"/>
<line x1="276" y1="515.5" x2="276" y2="519.5" stroke="#111" stroke-width="1.8"/>
<rect x="223" y="509.3" width="27.5" height="6.199999999999989" fill="#138649" stroke="none" stroke-width="1"/>
<rect x="223" y="439.9" width="27.5" height="69.40000000000003" fill="#f01c1c" stroke="none" stroke-width="1"/>
<line x1="223" y1="509.3" x2="250.5" y2="509.3" stroke="#111" stroke-width="1.2"/>
<rect x="223" y="439.9" width="27.5" height="75.60000000000002" fill="none" stroke="#000" stroke-width="1.6"/>
<line x1="237.3" y1="439.9" x2="237.3" y2="431.3" stroke="#111" stroke-width="1.5"/>
<line x1="230.5" y1="431.3" x2="244.10000000000002" y2="431.3" stroke="#111" stroke-width="1.5"/>
<rect x="263.3" y="484.5" width="26.69999999999999" height="31.0" fill="#f01c1c" stroke="none" stroke-width="1"/>
<rect x="263.3" y="484.5" width="26.69999999999999" height="31.0" fill="none" stroke="#000" stroke-width="1.6"/>
<rect x="261.6" y="424.2" width="11.2" height="8" fill="#f01c1c" stroke="#000" stroke-width="1.3"/>
<rect x="261.6" y="436.6" width="11.2" height="8" fill="#138649" stroke="#000" stroke-width="1.3"/>
<text x="279.4" y="432.2" font-size="10.4" stroke="#000" stroke-width="0.3">CFU-E</text>
<text x="279.4" y="444.6" font-size="10.4" stroke="#000" stroke-width="0.3">BFU-E</text>
<text x="180.2" y="461.5" font-size="10.7" text-anchor="middle" font-weight="bold" transform="rotate(-90 180.2 461.5)">No. colonies/100</text>
<text x="192.8" y="461.9" font-size="10.7" text-anchor="middle" font-weight="bold" transform="rotate(-90 192.8 461.9)">cells</text>
<text x="240.5" y="526.5" font-size="11.4" text-anchor="end" font-weight="bold" transform="rotate(-45 240.5 526.5)">CON</text>
<text x="279.5" y="529.5" font-size="11.4" text-anchor="end" font-weight="bold" transform="rotate(-45 279.5 529.5)">DBA TD</text>
<text x="362.3" y="402.6" font-size="17" font-weight="bold">G</text>
<text x="463.7" y="397.4" font-size="16" text-anchor="middle" stroke="#000" stroke-width="0.3">LEP</text>
<line x1="415.6" y1="410.90000000000003" x2="415.6" y2="516.4" stroke="#111" stroke-width="1.8"/>
<line x1="411.6" y1="515.5" x2="415.6" y2="515.5" stroke="#111" stroke-width="1.8"/>
<text x="410.8" y="519.2" font-size="10.5" text-anchor="end" font-weight="bold">0</text>
<line x1="411.6" y1="494.76" x2="415.6" y2="494.76" stroke="#111" stroke-width="1.8"/>
<text x="410.8" y="498.46" font-size="10.5" text-anchor="end" font-weight="bold">20</text>
<line x1="411.6" y1="474.02" x2="415.6" y2="474.02" stroke="#111" stroke-width="1.8"/>
<text x="410.8" y="477.71999999999997" font-size="10.5" text-anchor="end" font-weight="bold">40</text>
<line x1="411.6" y1="453.28" x2="415.6" y2="453.28" stroke="#111" stroke-width="1.8"/>
<text x="410.8" y="456.97999999999996" font-size="10.5" text-anchor="end" font-weight="bold">60</text>
<line x1="411.6" y1="432.54" x2="415.6" y2="432.54" stroke="#111" stroke-width="1.8"/>
<text x="410.8" y="436.24" font-size="10.5" text-anchor="end" font-weight="bold">80</text>
<line x1="411.6" y1="411.8" x2="415.6" y2="411.8" stroke="#111" stroke-width="1.8"/>
<text x="410.8" y="415.5" font-size="10.5" text-anchor="end" font-weight="bold">100</text>
<line x1="415" y1="515.5" x2="496.2" y2="515.5" stroke="#111" stroke-width="1.8"/>
<line x1="429.7" y1="515.5" x2="429.7" y2="519.5" stroke="#111" stroke-width="1.8"/>
<line x1="456" y1="515.5" x2="456" y2="519.5" stroke="#111" stroke-width="1.8"/>
<line x1="482.4" y1="515.5" x2="482.4" y2="519.5" stroke="#111" stroke-width="1.8"/>
<rect x="420.6" y="512" width="18.299999999999955" height="3.5" fill="#138649" stroke="none" stroke-width="1"/>
<rect x="420.6" y="441" width="18.299999999999955" height="71" fill="#f01c1c" stroke="none" stroke-width="1"/>
<line x1="420.6" y1="512" x2="438.9" y2="512" stroke="#111" stroke-width="1.2"/>
<rect x="420.6" y="441" width="18.299999999999955" height="74.5" fill="none" stroke="#000" stroke-width="1.6"/>
<line x1="429.7" y1="441" x2="429.7" y2="435.1" stroke="#111" stroke-width="1.5"/>
<line x1="424.4" y1="435.1" x2="435.0" y2="435.1" stroke="#111" stroke-width="1.5"/>
<rect x="446.9" y="512.5" width="18.30000000000001" height="3.0" fill="#138649" stroke="none" stroke-width="1"/>
<rect x="446.9" y="478.3" width="18.30000000000001" height="34.19999999999999" fill="#f01c1c" stroke="none" stroke-width="1"/>
<line x1="446.9" y1="512.5" x2="465.2" y2="512.5" stroke="#111" stroke-width="1.2"/>
<rect x="446.9" y="478.3" width="18.30000000000001" height="37.19999999999999" fill="none" stroke="#000" stroke-width="1.6"/>
<rect x="473.2" y="466.6" width="18.30000000000001" height="48.89999999999998" fill="#f01c1c" stroke="none" stroke-width="1"/>
<rect x="473.2" y="466.6" width="18.30000000000001" height="48.89999999999998" fill="none" stroke="#000" stroke-width="1.6"/>
<line x1="482.4" y1="466.6" x2="482.4" y2="455.2" stroke="#111" stroke-width="1.5"/>
<line x1="476.9" y1="455.2" x2="487.9" y2="455.2" stroke="#111" stroke-width="1.5"/>
<line x1="428.7" y1="423.1" x2="483.3" y2="423.1" stroke="#111" stroke-width="1.6"/>
<line x1="428.7" y1="419.70000000000005" x2="428.7" y2="426.5" stroke="#111" stroke-width="1.6"/>
<line x1="483.3" y1="419.70000000000005" x2="483.3" y2="426.5" stroke="#111" stroke-width="1.6"/>
<text x="456.6" y="422.0" font-size="10" text-anchor="middle" stroke="#000" stroke-width="0.3">NS</text>
<text x="372.2" y="461.9" font-size="10.3" text-anchor="middle" font-weight="bold" transform="rotate(-90 372.2 461.9)">% clonogenicity</text>
<text x="384.8" y="461.9" font-size="10.3" text-anchor="middle" font-weight="bold" transform="rotate(-90 384.8 461.9)">single cells</text>
<text x="432" y="528.5" font-size="11.4" text-anchor="end" font-weight="bold" transform="rotate(-45 432 528.5)">CON</text>
<text x="459" y="528.5" font-size="11.4" text-anchor="end" font-weight="bold" transform="rotate(-45 459 528.5)">DBA TD</text>
<text x="485" y="528.5" font-size="11.4" text-anchor="end" font-weight="bold" transform="rotate(-45 485 528.5)">DBA SR</text>
<text x="-0.4" y="581.5" font-size="17" font-weight="bold">H</text>
<line x1="47.6" y1="604.5" x2="47.6" y2="708.8" stroke="#111" stroke-width="1.8"/>
<line x1="43.6" y1="707.9" x2="47.6" y2="707.9" stroke="#111" stroke-width="1.8"/>
<text x="40.6" y="711.6" font-size="10.8" text-anchor="end" stroke="#000" stroke-width="0.35">0</text>
<line x1="43.6" y1="682.375" x2="47.6" y2="682.375" stroke="#111" stroke-width="1.8"/>
<text x="40.6" y="686.075" font-size="10.8" text-anchor="end" stroke="#000" stroke-width="0.35">1</text>
<line x1="43.6" y1="656.8499999999999" x2="47.6" y2="656.8499999999999" stroke="#111" stroke-width="1.8"/>
<text x="40.6" y="660.55" font-size="10.8" text-anchor="end" stroke="#000" stroke-width="0.35">2</text>
<line x1="43.6" y1="631.3249999999999" x2="47.6" y2="631.3249999999999" stroke="#111" stroke-width="1.8"/>
<text x="40.6" y="635.025" font-size="10.8" text-anchor="end" stroke="#000" stroke-width="0.35">3</text>
<line x1="43.6" y1="605.8" x2="47.6" y2="605.8" stroke="#111" stroke-width="1.8"/>
<text x="40.6" y="609.5" font-size="10.8" text-anchor="end" stroke="#000" stroke-width="0.35">4</text>
<line x1="47" y1="707.9" x2="151" y2="707.9" stroke="#111" stroke-width="1.8"/>
<line x1="65" y1="707.9" x2="65" y2="710.9" stroke="#111" stroke-width="1.8"/>
<line x1="99.2" y1="707.9" x2="99.2" y2="710.9" stroke="#111" stroke-width="1.8"/>
<line x1="133.7" y1="707.9" x2="133.7" y2="710.9" stroke="#111" stroke-width="1.8"/>
<text x="64.9" y="722.3" font-size="11.2" text-anchor="middle" stroke="#000" stroke-width="0.35">0</text>
<text x="99.2" y="722.3" font-size="11.2" text-anchor="middle" stroke="#000" stroke-width="0.35">8</text>
<text x="133.6" y="722.3" font-size="11.2" text-anchor="middle" stroke="#000" stroke-width="0.35">11</text>
<text x="99.1" y="734.6" font-size="11.2" text-anchor="middle" stroke="#000" stroke-width="0.35">Days in culture</text>
<polyline points="65,707.5 99.2,701.2 133.7,694.8" fill="none" stroke="#8a8a8a" stroke-width="1.8" stroke-dasharray="6,3"/>
<rect x="97.0" y="699.0" width="4.4" height="4.4" fill="#8a8a8a" stroke="none" stroke-width="1"/>
<rect x="131.5" y="692.5999999999999" width="4.4" height="4.4" fill="#8a8a8a" stroke="none" stroke-width="1"/>
<line x1="133.7" y1="690.2" x2="133.7" y2="699.5" stroke="#8a8a8a" stroke-width="1.4"/>
<line x1="131" y1="690.2" x2="136.9" y2="690.2" stroke="#8a8a8a" stroke-width="1.4"/>
<line x1="131" y1="699.5" x2="136.9" y2="699.5" stroke="#8a8a8a" stroke-width="1.4"/>
<line x1="99.2" y1="698.5" x2="99.2" y2="704" stroke="#8a8a8a" stroke-width="1.4"/>
<polyline points="65,707.5 99.2,682.1 133.7,645.3" fill="none" stroke="#000" stroke-width="1.9"/>
<circle cx="65" cy="707.5" r="2.2" fill="#000"/>
<circle cx="99.2" cy="682.1" r="2.2" fill="#000"/>
<circle cx="133.7" cy="645.3" r="2.2" fill="#000"/>
<line x1="99.4" y1="672.5" x2="99.4" y2="690.5" stroke="#111" stroke-width="1.4"/>
<line x1="96.7" y1="672.5" x2="102.2" y2="672.5" stroke="#111" stroke-width="1.4"/>
<line x1="96.7" y1="690.5" x2="102.2" y2="690.5" stroke="#111" stroke-width="1.4"/>
<line x1="133.7" y1="633.8" x2="133.7" y2="656.8" stroke="#111" stroke-width="1.4"/>
<line x1="130.6" y1="633.8" x2="136.8" y2="633.8" stroke="#111" stroke-width="1.4"/>
<line x1="130.6" y1="656.8" x2="136.8" y2="656.8" stroke="#111" stroke-width="1.4"/>
<text x="133" y="620.2" font-size="12" text-anchor="middle" font-weight="bold">*</text>
<line x1="67.4" y1="632.1" x2="79.5" y2="632.1" stroke="#111" stroke-width="1.8"/>
<circle cx="73.5" cy="632.1" r="2.0" fill="#000"/>
<text x="85.2" y="635.6" font-size="11.3" stroke="#000" stroke-width="0.35">CON</text>
<line x1="67.4" y1="644.9" x2="79.5" y2="644.9" stroke="#8a8a8a" stroke-width="1.8" stroke-dasharray="4,2.5"/>
<rect x="71.4" y="642.8" width="4.2" height="4.2" fill="#8a8a8a" stroke="none" stroke-width="1"/>
<text x="85.2" y="648.3" font-size="11.3" stroke="#000" stroke-width="0.35">DBA TD</text>
<text x="10.2" y="652.5" font-size="10.8" text-anchor="middle" transform="rotate(-90 10.2 652.5)" stroke="#000" stroke-width="0.35">Fold change in cell</text>
<text x="25.4" y="654.3" font-size="11.0" text-anchor="middle" transform="rotate(-90 25.4 654.3)" stroke="#000" stroke-width="0.35">number (x10<tspan font-size="7.5" dy="-4">3</tspan><tspan dy="4">)</tspan></text>
<text x="169.3" y="580.9" font-size="17" font-weight="bold">I</text>
<text x="214" y="579.6" font-size="15.5" text-anchor="middle" stroke="#000" stroke-width="0.3">CON</text>
<text x="277.3" y="579.6" font-size="15.5" text-anchor="middle" stroke="#000" stroke-width="0.3">DBA TD</text>
<text x="343.7" y="579.6" font-size="15.5" text-anchor="middle" stroke="#000" stroke-width="0.3">DBA SR</text>
<g clip-path="url(#c0)">
<ellipse cx="197" cy="600" rx="5" ry="4" fill="#333" opacity="0.9" transform="rotate(0 197 600)" filter="url(#b2)"/>
<ellipse cx="197" cy="606" rx="5" ry="6" fill="#888" opacity="0.7" transform="rotate(0 197 606)" filter="url(#b1)"/>
<ellipse cx="213.3" cy="619.5" rx="2.8" ry="3.2" fill="#222" opacity="0.9" transform="rotate(0 213.3 619.5)" filter="url(#b2)"/>
<ellipse cx="212.5" cy="614" rx="1.5" ry="3.5" fill="#777" opacity="0.7" transform="rotate(0 212.5 614)" filter="url(#b2)"/>
<ellipse cx="206" cy="626" rx="9" ry="5.5" fill="#999" opacity="0.75" transform="rotate(0 206 626)" filter="url(#b1)"/>
<ellipse cx="201.5" cy="628" rx="3.5" ry="5" fill="#555" opacity="0.8" transform="rotate(0 201.5 628)" filter="url(#b2)"/>
<ellipse cx="198.5" cy="637" rx="2.2" ry="6.5" fill="#888" opacity="0.8" transform="rotate(0 198.5 637)" filter="url(#b2)"/>
<rect x="196.1" y="602.8" width="0.8" height="0.8" fill="rgb(113,113,113)"/>
<rect x="203.2" y="602.9" width="0.8" height="0.8" fill="rgb(42,42,42)"/>
<rect x="196.2" y="601.9" width="0.8" height="0.8" fill="rgb(94,94,94)"/>
<rect x="197.3" y="602.4" width="0.8" height="0.8" fill="rgb(83,83,83)"/>
<rect x="198.4" y="601.6" width="0.8" height="0.8" fill="rgb(84,84,84)"/>
<rect x="201.2" y="602.6" width="0.8" height="0.8" fill="rgb(58,58,58)"/>
<rect x="193.8" y="597.6" width="0.8" height="0.8" fill="rgb(37,37,37)"/>
<rect x="193.9" y="599.4" width="0.8" height="0.8" fill="rgb(58,58,58)"/>
<rect x="203.6" y="603.0" width="0.8" height="0.8" fill="rgb(67,67,67)"/>
<rect x="193.2" y="603.1" width="0.8" height="0.8" fill="rgb(103,103,103)"/>
<rect x="194.7" y="607.0" width="0.8" height="0.8" fill="rgb(53,53,53)"/>
<rect x="200.6" y="603.7" width="0.8" height="0.8" fill="rgb(54,54,54)"/>
<rect x="193.9" y="604.2" width="0.8" height="0.8" fill="rgb(38,38,38)"/>
<rect x="192.5" y="599.1" width="0.8" height="0.8" fill="rgb(93,93,93)"/>
<rect x="195.4" y="597.7" width="0.8" height="0.8" fill="rgb(70,70,70)"/>
<rect x="189.3" y="602.7" width="0.8" height="0.8" fill="rgb(76,76,76)"/>
<rect x="195.1" y="606.9" width="0.8" height="0.8" fill="rgb(119,119,119)"/>
<rect x="197.3" y="599.6" width="0.8" height="0.8" fill="rgb(68,68,68)"/>
<rect x="189.9" y="599.9" width="0.8" height="0.8" fill="rgb(123,123,123)"/>
<rect x="192.4" y="602.5" width="0.8" height="0.8" fill="rgb(39,39,39)"/>
<rect x="199.7" y="603.5" width="0.8" height="0.8" fill="rgb(126,126,126)"/>
<rect x="192.5" y="607.8" width="0.8" height="0.8" fill="rgb(83,83,83)"/>
<rect x="202.0" y="602.3" width="0.8" height="0.8" fill="rgb(127,127,127)"/>
<rect x="191.2" y="598.8" width="0.8" height="0.8" fill="rgb(134,134,134)"/>
<rect x="194.9" y="606.0" width="0.8" height="0.8" fill="rgb(106,106,106)"/>
<rect x="190.8" y="601.1" width="0.8" height="0.8" fill="rgb(38,38,38)"/>
<rect x="201.5" y="593.9" width="0.8" height="0.8" fill="rgb(90,90,90)"/>
<rect x="196.6" y="599.8" width="0.8" height="0.8" fill="rgb(123,123,123)"/>
<rect x="195.5" y="596.2" width="0.8" height="0.8" fill="rgb(117,117,117)"/>
<rect x="198.3" y="598.4" width="0.8" height="0.8" fill="rgb(79,79,79)"/>
<rect x="199.5" y="598.9" width="0.8" height="0.8" fill="rgb(150,150,150)"/>
<rect x="194.9" y="601.5" width="0.8" height="0.8" fill="rgb(44,44,44)"/>
<rect x="194.5" y="601.1" width="0.8" height="0.8" fill="rgb(66,66,66)"/>
<rect x="198.8" y="602.9" width="0.8" height="0.8" fill="rgb(80,80,80)"/>
<rect x="200.6" y="599.0" width="0.8" height="0.8" fill="rgb(51,51,51)"/>
<rect x="192.8" y="602.4" width="0.8" height="0.8" fill="rgb(143,143,143)"/>
<rect x="199.4" y="603.8" width="0.8" height="0.8" fill="rgb(100,100,100)"/>
<rect x="196.4" y="604.6" width="0.8" height="0.8" fill="rgb(75,75,75)"/>
<rect x="195.6" y="597.9" width="0.8" height="0.8" fill="rgb(59,59,59)"/>
<rect x="198.3" y="602.8" width="0.8" height="0.8" fill="rgb(59,59,59)"/>
<rect x="196.7" y="600.5" width="0.8" height="0.8" fill="rgb(136,136,136)"/>
<rect x="194.7" y="599.5" width="0.8" height="0.8" fill="rgb(30,30,30)"/>
<rect x="199.6" y="604.4" width="0.8" height="0.8" fill="rgb(108,108,108)"/>
<rect x="189.1" y="597.5" width="0.8" height="0.8" fill="rgb(118,118,118)"/>
<rect x="202.4" y="594.4" width="0.8" height="0.8" fill="rgb(113,113,113)"/>
<rect x="196.5" y="600.0" width="0.8" height="0.8" fill="rgb(145,145,145)"/>
<rect x="202.9" y="594.8" width="0.8" height="0.8" fill="rgb(117,117,117)"/>
<rect x="198.0" y="597.7" width="0.8" height="0.8" fill="rgb(81,81,81)"/>
<rect x="193.8" y="603.5" width="0.8" height="0.8" fill="rgb(81,81,81)"/>
<rect x="198.2" y="601.5" width="0.8" height="0.8" fill="rgb(56,56,56)"/>
<rect x="195.4" y="601.6" width="0.8" height="0.8" fill="rgb(106,106,106)"/>
<rect x="197.1" y="601.0" width="0.8" height="0.8" fill="rgb(49,49,49)"/>
<rect x="188.7" y="599.1" width="0.8" height="0.8" fill="rgb(108,108,108)"/>
<rect x="204.0" y="602.1" width="0.8" height="0.8" fill="rgb(108,108,108)"/>
<rect x="193.5" y="604.5" width="0.8" height="0.8" fill="rgb(74,74,74)"/>
<rect x="193.8" y="598.6" width="0.8" height="0.8" fill="rgb(44,44,44)"/>
<rect x="203.4" y="592.0" width="0.8" height="0.8" fill="rgb(89,89,89)"/>
<rect x="194.0" y="601.4" width="0.8" height="0.8" fill="rgb(48,48,48)"/>
<rect x="199.6" y="602.9" width="0.8" height="0.8" fill="rgb(63,63,63)"/>
<rect x="191.7" y="601.7" width="0.8" height="0.8" fill="rgb(96,96,96)"/>
<rect x="205.5" y="602.2" width="0.8" height="0.8" fill="rgb(97,97,97)"/>
<rect x="193.5" y="605.1" width="0.8" height="0.8" fill="rgb(147,147,147)"/>
<rect x="201.2" y="601.7" width="0.8" height="0.8" fill="rgb(112,112,112)"/>
<rect x="200.5" y="596.9" width="0.8" height="0.8" fill="rgb(63,63,63)"/>
<rect x="189.4" y="600.1" width="0.8" height="0.8" fill="rgb(75,75,75)"/>
<rect x="197.6" y="596.7" width="0.8" height="0.8" fill="rgb(129,129,129)"/>
<rect x="192.0" y="600.9" width="0.8" height="0.8" fill="rgb(108,108,108)"/>
<rect x="200.8" y="591.6" width="0.8" height="0.8" fill="rgb(139,139,139)"/>
<rect x="197.9" y="603.4" width="0.8" height="0.8" fill="rgb(81,81,81)"/>
<rect x="196.8" y="598.5" width="0.8" height="0.8" fill="rgb(96,96,96)"/>
<rect x="191.3" y="601.3" width="0.8" height="0.8" fill="rgb(33,33,33)"/>
<rect x="198.0" y="597.2" width="0.8" height="0.8" fill="rgb(54,54,54)"/>
<rect x="193.9" y="592.8" width="0.8" height="0.8" fill="rgb(87,87,87)"/>
<rect x="199.0" y="595.8" width="0.8" height="0.8" fill="rgb(74,74,74)"/>
<rect x="200.2" y="600.1" width="0.8" height="0.8" fill="rgb(58,58,58)"/>
<rect x="200.2" y="603.4" width="0.8" height="0.8" fill="rgb(73,73,73)"/>
<rect x="198.4" y="605.7" width="0.8" height="0.8" fill="rgb(145,145,145)"/>
<rect x="196.8" y="600.9" width="0.8" height="0.8" fill="rgb(146,146,146)"/>
<rect x="193.4" y="595.9" width="0.8" height="0.8" fill="rgb(40,40,40)"/>
<rect x="197.9" y="599.5" width="0.8" height="0.8" fill="rgb(79,79,79)"/>
<rect x="198.2" y="595.3" width="0.8" height="0.8" fill="rgb(91,91,91)"/>
<rect x="199.9" y="598.6" width="0.8" height="0.8" fill="rgb(111,111,111)"/>
<rect x="193.9" y="606.5" width="0.8" height="0.8" fill="rgb(122,122,122)"/>
<rect x="194.2" y="603.2" width="0.8" height="0.8" fill="rgb(40,40,40)"/>
<rect x="196.7" y="598.9" width="0.8" height="0.8" fill="rgb(46,46,46)"/>
<rect x="201.6" y="601.8" width="0.8" height="0.8" fill="rgb(89,89,89)"/>
<rect x="197.7" y="599.2" width="0.8" height="0.8" fill="rgb(135,135,135)"/>
<rect x="193.7" y="598.8" width="0.8" height="0.8" fill="rgb(149,149,149)"/>
<rect x="194.4" y="604.6" width="0.8" height="0.8" fill="rgb(46,46,46)"/>
<rect x="203.2" y="601.8" width="0.8" height="0.8" fill="rgb(122,122,122)"/>
<rect x="194.5" y="597.5" width="0.8" height="0.8" fill="rgb(149,149,149)"/>
<rect x="203.6" y="608.9" width="0.8" height="0.8" fill="rgb(54,54,54)"/>
<rect x="198.1" y="598.9" width="0.8" height="0.8" fill="rgb(62,62,62)"/>
<rect x="198.0" y="605.0" width="0.8" height="0.8" fill="rgb(127,127,127)"/>
<rect x="194.7" y="599.6" width="0.8" height="0.8" fill="rgb(83,83,83)"/>
<rect x="197.6" y="599.9" width="0.8" height="0.8" fill="rgb(124,124,124)"/>
<rect x="194.6" y="604.1" width="0.8" height="0.8" fill="rgb(104,104,104)"/>
<rect x="198.7" y="597.1" width="0.8" height="0.8" fill="rgb(135,135,135)"/>
<rect x="200.6" y="599.0" width="0.8" height="0.8" fill="rgb(98,98,98)"/>
<rect x="199.4" y="604.4" width="0.8" height="0.8" fill="rgb(141,141,141)"/>
<rect x="194.9" y="601.8" width="0.8" height="0.8" fill="rgb(30,30,30)"/>
<rect x="197.3" y="599.0" width="0.8" height="0.8" fill="rgb(48,48,48)"/>
<rect x="191.5" y="601.9" width="0.8" height="0.8" fill="rgb(101,101,101)"/>
<rect x="201.9" y="603.0" width="0.8" height="0.8" fill="rgb(97,97,97)"/>
<rect x="191.2" y="598.9" width="0.8" height="0.8" fill="rgb(43,43,43)"/>
<rect x="197.9" y="600.2" width="0.8" height="0.8" fill="rgb(54,54,54)"/>
<rect x="196.0" y="606.9" width="0.8" height="0.8" fill="rgb(94,94,94)"/>
<rect x="196.2" y="601.2" width="0.8" height="0.8" fill="rgb(144,144,144)"/>
<rect x="200.2" y="599.0" width="0.8" height="0.8" fill="rgb(108,108,108)"/>
<rect x="201.7" y="600.2" width="0.8" height="0.8" fill="rgb(55,55,55)"/>
<rect x="195.5" y="602.9" width="0.8" height="0.8" fill="rgb(158,158,158)"/>
<rect x="198.7" y="602.5" width="0.8" height="0.8" fill="rgb(121,121,121)"/>
<rect x="194.4" y="599.2" width="0.8" height="0.8" fill="rgb(123,123,123)"/>
<rect x="204.5" y="603.1" width="0.8" height="0.8" fill="rgb(115,115,115)"/>
<rect x="198.2" y="605.2" width="0.8" height="0.8" fill="rgb(105,105,105)"/>
<rect x="194.3" y="609.2" width="0.8" height="0.8" fill="rgb(175,175,175)"/>
<rect x="197.1" y="608.6" width="0.8" height="0.8" fill="rgb(175,175,175)"/>
<rect x="196.3" y="608.9" width="0.8" height="0.8" fill="rgb(189,189,189)"/>
<rect x="200.6" y="612.2" width="0.8" height="0.8" fill="rgb(174,174,174)"/>
<rect x="195.0" y="609.3" width="0.8" height="0.8" fill="rgb(107,107,107)"/>
<rect x="199.8" y="606.4" width="0.8" height="0.8" fill="rgb(102,102,102)"/>
<rect x="193.3" y="609.8" width="0.8" height="0.8" fill="rgb(175,175,175)"/>
<rect x="198.2" y="604.9" width="0.8" height="0.8" fill="rgb(145,145,145)"/>
<rect x="201.1" y="606.8" width="0.8" height="0.8" fill="rgb(143,143,143)"/>
<rect x="198.2" y="610.3" width="0.8" height="0.8" fill="rgb(182,182,182)"/>
<rect x="194.6" y="609.7" width="0.8" height="0.8" fill="rgb(148,148,148)"/>
<rect x="196.3" y="607.3" width="0.8" height="0.8" fill="rgb(132,132,132)"/>
<rect x="193.7" y="606.6" width="0.8" height="0.8" fill="rgb(98,98,98)"/>
<rect x="203.8" y="612.8" width="0.8" height="0.8" fill="rgb(119,119,119)"/>
<rect x="198.9" y="606.7" width="0.8" height="0.8" fill="rgb(123,123,123)"/>
<rect x="195.8" y="615.6" width="0.8" height="0.8" fill="rgb(113,113,113)"/>
<rect x="196.7" y="609.1" width="0.8" height="0.8" fill="rgb(144,144,144)"/>
<rect x="200.5" y="602.1" width="0.8" height="0.8" fill="rgb(123,123,123)"/>
<rect x="192.9" y="609.8" width="0.8" height="0.8" fill="rgb(155,155,155)"/>
<rect x="191.4" y="604.3" width="0.8" height="0.8" fill="rgb(101,101,101)"/>
<rect x="195.7" y="614.1" width="0.8" height="0.8" fill="rgb(113,113,113)"/>
<rect x="195.6" y="607.7" width="0.8" height="0.8" fill="rgb(92,92,92)"/>
<rect x="192.2" y="601.6" width="0.8" height="0.8" fill="rgb(100,100,100)"/>
<rect x="194.8" y="605.2" width="0.8" height="0.8" fill="rgb(123,123,123)"/>
<rect x="199.9" y="603.7" width="0.8" height="0.8" fill="rgb(133,133,133)"/>
<rect x="201.2" y="606.9" width="0.8" height="0.8" fill="rgb(124,124,124)"/>
<rect x="196.1" y="606.2" width="0.8" height="0.8" fill="rgb(180,180,180)"/>
<rect x="197.1" y="608.9" width="0.8" height="0.8" fill="rgb(110,110,110)"/>
<rect x="196.8" y="609.5" width="0.8" height="0.8" fill="rgb(129,129,129)"/>
<rect x="193.6" y="603.4" width="0.8" height="0.8" fill="rgb(116,116,116)"/>
<rect x="195.8" y="611.6" width="0.8" height="0.8" fill="rgb(112,112,112)"/>
<rect x="196.1" y="614.2" width="0.8" height="0.8" fill="rgb(122,122,122)"/>
<rect x="197.8" y="607.2" width="0.8" height="0.8" fill="rgb(154,154,154)"/>
<rect x="194.5" y="606.2" width="0.8" height="0.8" fill="rgb(150,150,150)"/>
<rect x="197.1" y="611.4" width="0.8" height="0.8" fill="rgb(174,174,174)"/>
<rect x="198.8" y="603.1" width="0.8" height="0.8" fill="rgb(153,153,153)"/>
<rect x="189.0" y="604.6" width="0.8" height="0.8" fill="rgb(154,154,154)"/>
<rect x="196.0" y="609.6" width="0.8" height="0.8" fill="rgb(119,119,119)"/>
<rect x="192.8" y="613.3" width="0.8" height="0.8" fill="rgb(180,180,180)"/>
<rect x="196.7" y="604.8" width="0.8" height="0.8" fill="rgb(134,134,134)"/>
<rect x="204.6" y="606.1" width="0.8" height="0.8" fill="rgb(91,91,91)"/>
<rect x="202.9" y="609.8" width="0.8" height="0.8" fill="rgb(122,122,122)"/>
<rect x="195.8" y="607.6" width="0.8" height="0.8" fill="rgb(175,175,175)"/>
<rect x="201.4" y="600.2" width="0.8" height="0.8" fill="rgb(175,175,175)"/>
<rect x="202.3" y="606.0" width="0.8" height="0.8" fill="rgb(178,178,178)"/>
<rect x="195.8" y="611.3" width="0.8" height="0.8" fill="rgb(110,110,110)"/>
<rect x="197.0" y="607.3" width="0.8" height="0.8" fill="rgb(136,136,136)"/>
<rect x="207.4" y="604.4" width="0.8" height="0.8" fill="rgb(160,160,160)"/>
<rect x="196.5" y="607.9" width="0.8" height="0.8" fill="rgb(129,129,129)"/>
<rect x="197.5" y="609.5" width="0.8" height="0.8" fill="rgb(132,132,132)"/>
<rect x="193.7" y="610.1" width="0.8" height="0.8" fill="rgb(154,154,154)"/>
<rect x="195.3" y="604.5" width="0.8" height="0.8" fill="rgb(189,189,189)"/>
<rect x="200.1" y="607.1" width="0.8" height="0.8" fill="rgb(101,101,101)"/>
<rect x="200.3" y="611.2" width="0.8" height="0.8" fill="rgb(140,140,140)"/>
<rect x="200.4" y="607.5" width="0.8" height="0.8" fill="rgb(119,119,119)"/>
<rect x="205.7" y="612.1" width="0.8" height="0.8" fill="rgb(199,199,199)"/>
<rect x="197.0" y="601.1" width="0.8" height="0.8" fill="rgb(181,181,181)"/>
<rect x="198.1" y="601.7" width="0.8" height="0.8" fill="rgb(187,187,187)"/>
<rect x="191.7" y="617.3" width="0.8" height="0.8" fill="rgb(109,109,109)"/>
<rect x="195.8" y="612.4" width="0.8" height="0.8" fill="rgb(108,108,108)"/>
<rect x="204.3" y="609.1" width="0.8" height="0.8" fill="rgb(155,155,155)"/>
<rect x="192.5" y="602.3" width="0.8" height="0.8" fill="rgb(193,193,193)"/>
<rect x="188.2" y="606.7" width="0.8" height="0.8" fill="rgb(186,186,186)"/>
<rect x="189.4" y="606.8" width="0.8" height="0.8" fill="rgb(192,192,192)"/>
<rect x="203.1" y="607.6" width="0.8" height="0.8" fill="rgb(192,192,192)"/>
<rect x="215.3" y="620.3" width="0.8" height="0.8" fill="rgb(108,108,108)"/>
<rect x="208.8" y="625.7" width="0.8" height="0.8" fill="rgb(142,142,142)"/>
<rect x="213.6" y="623.8" width="0.8" height="0.8" fill="rgb(165,165,165)"/>
<rect x="197.8" y="622.5" width="0.8" height="0.8" fill="rgb(186,186,186)"/>
<rect x="203.6" y="619.7" width="0.8" height="0.8" fill="rgb(50,50,50)"/>
<rect x="204.4" y="625.5" width="0.8" height="0.8" fill="rgb(178,178,178)"/>
<rect x="209.5" y="623.7" width="0.8" height="0.8" fill="rgb(184,184,184)"/>
<rect x="217.5" y="628.3" width="0.8" height="0.8" fill="rgb(114,114,114)"/>
<rect x="211.9" y="616.0" width="0.8" height="0.8" fill="rgb(110,110,110)"/>
<rect x="206.4" y="621.6" width="0.8" height="0.8" fill="rgb(167,167,167)"/>
<rect x="200.1" y="625.2" width="0.8" height="0.8" fill="rgb(172,172,172)"/>
<rect x="211.9" y="622.8" width="0.8" height="0.8" fill="rgb(61,61,61)"/>
<rect x="199.5" y="620.2" width="0.8" height="0.8" fill="rgb(69,69,69)"/>
<rect x="201.9" y="622.4" width="0.8" height="0.8" fill="rgb(127,127,127)"/>
<rect x="204.3" y="623.2" width="0.8" height="0.8" fill="rgb(173,173,173)"/>
<rect x="212.1" y="626.5" width="0.8" height="0.8" fill="rgb(75,75,75)"/>
<rect x="203.3" y="618.0" width="0.8" height="0.8" fill="rgb(124,124,124)"/>
<rect x="205.5" y="621.0" width="0.8" height="0.8" fill="rgb(169,169,169)"/>
<rect x="203.6" y="625.5" width="0.8" height="0.8" fill="rgb(190,190,190)"/>
<rect x="213.1" y="638.1" width="0.8" height="0.8" fill="rgb(171,171,171)"/>
<rect x="214.7" y="625.6" width="0.8" height="0.8" fill="rgb(179,179,179)"/>
<rect x="214.5" y="623.9" width="0.8" height="0.8" fill="rgb(118,118,118)"/>
<rect x="195.2" y="632.3" width="0.8" height="0.8" fill="rgb(103,103,103)"/>
<rect x="209.7" y="626.0" width="0.8" height="0.8" fill="rgb(184,184,184)"/>
<rect x="206.5" y="629.7" width="0.8" height="0.8" fill="rgb(180,180,180)"/>
<rect x="206.4" y="627.4" width="0.8" height="0.8" fill="rgb(143,143,143)"/>
<rect x="208.7" y="635.6" width="0.8" height="0.8" fill="rgb(174,174,174)"/>
<rect x="203.8" y="626.8" width="0.8" height="0.8" fill="rgb(175,175,175)"/>
<rect x="204.0" y="620.4" width="0.8" height="0.8" fill="rgb(86,86,86)"/>
<rect x="201.1" y="627.4" width="0.8" height="0.8" fill="rgb(80,80,80)"/>
<rect x="207.2" y="624.8" width="0.8" height="0.8" fill="rgb(136,136,136)"/>
<rect x="208.9" y="622.9" width="0.8" height="0.8" fill="rgb(100,100,100)"/>
<rect x="203.5" y="614.5" width="0.8" height="0.8" fill="rgb(124,124,124)"/>
<rect x="206.9" y="626.8" width="0.8" height="0.8" fill="rgb(149,149,149)"/>
<rect x="216.3" y="624.9" width="0.8" height="0.8" fill="rgb(142,142,142)"/>
<rect x="217.5" y="621.2" width="0.8" height="0.8" fill="rgb(62,62,62)"/>
<rect x="206.6" y="626.6" width="0.8" height="0.8" fill="rgb(123,123,123)"/>
<rect x="204.4" y="622.9" width="0.8" height="0.8" fill="rgb(118,118,118)"/>
<rect x="201.4" y="626.7" width="0.8" height="0.8" fill="rgb(145,145,145)"/>
<rect x="208.6" y="619.8" width="0.8" height="0.8" fill="rgb(57,57,57)"/>
<rect x="210.8" y="618.5" width="0.8" height="0.8" fill="rgb(190,190,190)"/>
<rect x="207.8" y="627.0" width="0.8" height="0.8" fill="rgb(155,155,155)"/>
<rect x="195.9" y="627.5" width="0.8" height="0.8" fill="rgb(123,123,123)"/>
<rect x="191.6" y="626.0" width="0.8" height="0.8" fill="rgb(190,190,190)"/>
<rect x="212.5" y="629.1" width="0.8" height="0.8" fill="rgb(137,137,137)"/>
<rect x="205.9" y="628.8" width="0.8" height="0.8" fill="rgb(116,116,116)"/>
<rect x="202.7" y="627.1" width="0.8" height="0.8" fill="rgb(173,173,173)"/>
<rect x="200.4" y="623.2" width="0.8" height="0.8" fill="rgb(92,92,92)"/>
<rect x="205.3" y="623.5" width="0.8" height="0.8" fill="rgb(178,178,178)"/>
<rect x="213.8" y="621.7" width="0.8" height="0.8" fill="rgb(106,106,106)"/>
<rect x="201.0" y="626.3" width="0.8" height="0.8" fill="rgb(165,165,165)"/>
<rect x="199.1" y="627.8" width="0.8" height="0.8" fill="rgb(112,112,112)"/>
<rect x="212.4" y="627.5" width="0.8" height="0.8" fill="rgb(73,73,73)"/>
<rect x="204.2" y="629.3" width="0.8" height="0.8" fill="rgb(101,101,101)"/>
<rect x="215.8" y="619.6" width="0.8" height="0.8" fill="rgb(155,155,155)"/>
<rect x="198.4" y="630.6" width="0.8" height="0.8" fill="rgb(103,103,103)"/>
<rect x="202.5" y="628.2" width="0.8" height="0.8" fill="rgb(65,65,65)"/>
<rect x="197.9" y="625.1" width="0.8" height="0.8" fill="rgb(142,142,142)"/>
<rect x="212.8" y="629.2" width="0.8" height="0.8" fill="rgb(105,105,105)"/>
<rect x="219.5" y="630.9" width="0.8" height="0.8" fill="rgb(148,148,148)"/>
<rect x="200.9" y="628.2" width="0.8" height="0.8" fill="rgb(129,129,129)"/>
<rect x="215.3" y="616.7" width="0.8" height="0.8" fill="rgb(55,55,55)"/>
<rect x="212.1" y="628.8" width="0.8" height="0.8" fill="rgb(171,171,171)"/>
<rect x="215.0" y="623.9" width="0.8" height="0.8" fill="rgb(68,68,68)"/>
<rect x="194.6" y="632.2" width="0.8" height="0.8" fill="rgb(185,185,185)"/>
<rect x="218.5" y="614.4" width="0.8" height="0.8" fill="rgb(113,113,113)"/>
<rect x="208.0" y="621.5" width="0.8" height="0.8" fill="rgb(88,88,88)"/>
<rect x="196.5" y="623.9" width="0.8" height="0.8" fill="rgb(167,167,167)"/>
<rect x="217.4" y="629.4" width="0.8" height="0.8" fill="rgb(50,50,50)"/>
<rect x="208.0" y="621.4" width="0.8" height="0.8" fill="rgb(59,59,59)"/>
<rect x="203.4" y="621.6" width="0.8" height="0.8" fill="rgb(82,82,82)"/>
<rect x="201.0" y="620.6" width="0.8" height="0.8" fill="rgb(161,161,161)"/>
<rect x="205.9" y="622.7" width="0.8" height="0.8" fill="rgb(68,68,68)"/>
<rect x="201.8" y="636.4" width="0.8" height="0.8" fill="rgb(99,99,99)"/>
<rect x="203.2" y="627.3" width="0.8" height="0.8" fill="rgb(50,50,50)"/>
<rect x="212.9" y="625.3" width="0.8" height="0.8" fill="rgb(167,167,167)"/>
<rect x="205.9" y="629.3" width="0.8" height="0.8" fill="rgb(112,112,112)"/>
<rect x="201.9" y="625.6" width="0.8" height="0.8" fill="rgb(113,113,113)"/>
<rect x="214.1" y="625.9" width="0.8" height="0.8" fill="rgb(128,128,128)"/>
<rect x="211.3" y="626.1" width="0.8" height="0.8" fill="rgb(157,157,157)"/>
<rect x="211.4" y="626.8" width="0.8" height="0.8" fill="rgb(158,158,158)"/>
<rect x="211.5" y="623.4" width="0.8" height="0.8" fill="rgb(58,58,58)"/>
<rect x="203.3" y="617.5" width="0.8" height="0.8" fill="rgb(142,142,142)"/>
<rect x="205.1" y="622.0" width="0.8" height="0.8" fill="rgb(124,124,124)"/>
<rect x="206.4" y="619.1" width="0.8" height="0.8" fill="rgb(102,102,102)"/>
<rect x="202.3" y="625.1" width="0.8" height="0.8" fill="rgb(99,99,99)"/>
<rect x="207.6" y="628.5" width="0.8" height="0.8" fill="rgb(125,125,125)"/>
<rect x="214.6" y="629.4" width="0.8" height="0.8" fill="rgb(97,97,97)"/>
<rect x="213.4" y="621.5" width="0.8" height="0.8" fill="rgb(64,64,64)"/>
<rect x="210.7" y="624.1" width="0.8" height="0.8" fill="rgb(150,150,150)"/>
<rect x="208.4" y="625.4" width="0.8" height="0.8" fill="rgb(86,86,86)"/>
<rect x="197.5" y="629.0" width="0.8" height="0.8" fill="rgb(97,97,97)"/>
<rect x="195.3" y="631.6" width="0.8" height="0.8" fill="rgb(130,130,130)"/>
<rect x="204.4" y="607.8" width="0.8" height="0.8" fill="rgb(92,92,92)"/>
<rect x="204.9" y="627.8" width="0.8" height="0.8" fill="rgb(184,184,184)"/>
<rect x="207.0" y="623.7" width="0.8" height="0.8" fill="rgb(146,146,146)"/>
<rect x="217.8" y="612.7" width="0.8" height="0.8" fill="rgb(163,163,163)"/>
<rect x="207.3" y="625.3" width="0.8" height="0.8" fill="rgb(121,121,121)"/>
<rect x="213.4" y="627.5" width="0.8" height="0.8" fill="rgb(81,81,81)"/>
<rect x="196.1" y="621.8" width="0.8" height="0.8" fill="rgb(147,147,147)"/>
<rect x="198.9" y="632.3" width="0.8" height="0.8" fill="rgb(160,160,160)"/>
<rect x="216.3" y="629.1" width="0.8" height="0.8" fill="rgb(100,100,100)"/>
<rect x="196.0" y="633.0" width="0.8" height="0.8" fill="rgb(99,99,99)"/>
<rect x="201.9" y="632.3" width="0.8" height="0.8" fill="rgb(171,171,171)"/>
<rect x="214.1" y="626.0" width="0.8" height="0.8" fill="rgb(153,153,153)"/>
<rect x="208.8" y="625.3" width="0.8" height="0.8" fill="rgb(66,66,66)"/>
<rect x="207.8" y="623.3" width="0.8" height="0.8" fill="rgb(99,99,99)"/>
<rect x="206.7" y="614.3" width="0.8" height="0.8" fill="rgb(136,136,136)"/>
<rect x="202.9" y="628.4" width="0.8" height="0.8" fill="rgb(61,61,61)"/>
<rect x="206.2" y="632.9" width="0.8" height="0.8" fill="rgb(131,131,131)"/>
<rect x="212.2" y="623.1" width="0.8" height="0.8" fill="rgb(66,66,66)"/>
<rect x="212.1" y="625.6" width="0.8" height="0.8" fill="rgb(171,171,171)"/>
<rect x="205.3" y="619.5" width="0.8" height="0.8" fill="rgb(148,148,148)"/>
<rect x="210.8" y="614.3" width="0.8" height="0.8" fill="rgb(176,176,176)"/>
<rect x="212.5" y="629.3" width="0.8" height="0.8" fill="rgb(52,52,52)"/>
<rect x="210.7" y="617.3" width="0.8" height="0.8" fill="rgb(88,88,88)"/>
<rect x="202.1" y="622.2" width="0.8" height="0.8" fill="rgb(131,131,131)"/>
<rect x="195.1" y="627.1" width="0.8" height="0.8" fill="rgb(70,70,70)"/>
<rect x="200.0" y="624.6" width="0.8" height="0.8" fill="rgb(90,90,90)"/>
<rect x="207.0" y="626.8" width="0.8" height="0.8" fill="rgb(58,58,58)"/>
<rect x="198.3" y="625.7" width="0.8" height="0.8" fill="rgb(91,91,91)"/>
<rect x="221.4" y="623.7" width="0.8" height="0.8" fill="rgb(68,68,68)"/>
<rect x="206.7" y="627.1" width="0.8" height="0.8" fill="rgb(74,74,74)"/>
<rect x="188.6" y="632.1" width="0.8" height="0.8" fill="rgb(164,164,164)"/>
<rect x="208.7" y="627.4" width="0.8" height="0.8" fill="rgb(167,167,167)"/>
<rect x="199.4" y="619.9" width="0.8" height="0.8" fill="rgb(187,187,187)"/>
<rect x="212.9" y="618.9" width="0.8" height="0.8" fill="rgb(81,81,81)"/>
<rect x="208.1" y="620.9" width="0.8" height="0.8" fill="rgb(121,121,121)"/>
<rect x="200.8" y="623.0" width="0.8" height="0.8" fill="rgb(116,116,116)"/>
<rect x="208.7" y="628.6" width="0.8" height="0.8" fill="rgb(112,112,112)"/>
<rect x="207.5" y="629.0" width="0.8" height="0.8" fill="rgb(98,98,98)"/>
<rect x="203.8" y="629.5" width="0.8" height="0.8" fill="rgb(112,112,112)"/>
<rect x="201.9" y="624.8" width="0.8" height="0.8" fill="rgb(75,75,75)"/>
<rect x="194.7" y="612.4" width="0.8" height="0.8" fill="rgb(76,76,76)"/>
<rect x="221.5" y="625.3" width="0.8" height="0.8" fill="rgb(109,109,109)"/>
<rect x="215.4" y="615.7" width="0.8" height="0.8" fill="rgb(60,60,60)"/>
<rect x="210.6" y="622.5" width="0.8" height="0.8" fill="rgb(62,62,62)"/>
<rect x="214.0" y="637.5" width="0.8" height="0.8" fill="rgb(99,99,99)"/>
<rect x="213.1" y="623.0" width="0.8" height="0.8" fill="rgb(95,95,95)"/>
<rect x="201.8" y="626.2" width="0.8" height="0.8" fill="rgb(51,51,51)"/>
<rect x="214.4" y="629.2" width="0.8" height="0.8" fill="rgb(139,139,139)"/>
<rect x="208.4" y="629.7" width="0.8" height="0.8" fill="rgb(86,86,86)"/>
<rect x="235.5" y="630.8" width="0.8" height="0.8" fill="rgb(59,59,59)"/>
<rect x="198.8" y="620.8" width="0.8" height="0.8" fill="rgb(102,102,102)"/>
<rect x="212.1" y="616.5" width="0.8" height="0.8" fill="rgb(154,154,154)"/>
<rect x="205.1" y="622.1" width="0.8" height="0.8" fill="rgb(129,129,129)"/>
<rect x="208.6" y="625.6" width="0.8" height="0.8" fill="rgb(176,176,176)"/>
<rect x="204.6" y="624.5" width="0.8" height="0.8" fill="rgb(75,75,75)"/>
<rect x="209.9" y="617.9" width="0.8" height="0.8" fill="rgb(89,89,89)"/>
<rect x="205.0" y="623.3" width="0.8" height="0.8" fill="rgb(91,91,91)"/>
<rect x="202.5" y="627.4" width="0.8" height="0.8" fill="rgb(122,122,122)"/>
<rect x="203.4" y="620.5" width="0.8" height="0.8" fill="rgb(63,63,63)"/>
<rect x="203.5" y="631.0" width="0.8" height="0.8" fill="rgb(141,141,141)"/>
<rect x="205.8" y="625.5" width="0.8" height="0.8" fill="rgb(143,143,143)"/>
<rect x="202.7" y="621.1" width="0.8" height="0.8" fill="rgb(153,153,153)"/>
<rect x="207.2" y="625.5" width="0.8" height="0.8" fill="rgb(90,90,90)"/>
<rect x="195.5" y="629.3" width="0.8" height="0.8" fill="rgb(153,153,153)"/>
<rect x="201.1" y="622.8" width="0.8" height="0.8" fill="rgb(91,91,91)"/>
<rect x="208.6" y="626.2" width="0.8" height="0.8" fill="rgb(86,86,86)"/>
<rect x="197.3" y="616.5" width="0.8" height="0.8" fill="rgb(72,72,72)"/>
<rect x="194.4" y="629.9" width="0.8" height="0.8" fill="rgb(189,189,189)"/>
<rect x="199.4" y="640.9" width="0.8" height="0.8" fill="rgb(101,101,101)"/>
<rect x="194.0" y="634.2" width="0.8" height="0.8" fill="rgb(87,87,87)"/>
<rect x="196.0" y="642.7" width="0.8" height="0.8" fill="rgb(110,110,110)"/>
<rect x="197.3" y="646.8" width="0.8" height="0.8" fill="rgb(71,71,71)"/>
<rect x="200.8" y="634.9" width="0.8" height="0.8" fill="rgb(73,73,73)"/>
<rect x="196.3" y="630.7" width="0.8" height="0.8" fill="rgb(82,82,82)"/>
<rect x="200.8" y="631.3" width="0.8" height="0.8" fill="rgb(101,101,101)"/>
<rect x="196.0" y="626.9" width="0.8" height="0.8" fill="rgb(163,163,163)"/>
<rect x="197.5" y="633.4" width="0.8" height="0.8" fill="rgb(181,181,181)"/>
<rect x="199.1" y="639.8" width="0.8" height="0.8" fill="rgb(162,162,162)"/>
<rect x="199.6" y="634.7" width="0.8" height="0.8" fill="rgb(151,151,151)"/>
<rect x="199.6" y="639.2" width="0.8" height="0.8" fill="rgb(109,109,109)"/>
<rect x="201.0" y="638.0" width="0.8" height="0.8" fill="rgb(69,69,69)"/>
<rect x="197.6" y="631.4" width="0.8" height="0.8" fill="rgb(159,159,159)"/>
<rect x="196.5" y="631.6" width="0.8" height="0.8" fill="rgb(138,138,138)"/>
<rect x="197.5" y="631.9" width="0.8" height="0.8" fill="rgb(123,123,123)"/>
<rect x="195.9" y="640.0" width="0.8" height="0.8" fill="rgb(174,174,174)"/>
<rect x="197.2" y="635.9" width="0.8" height="0.8" fill="rgb(60,60,60)"/>
<rect x="196.8" y="631.3" width="0.8" height="0.8" fill="rgb(120,120,120)"/>
<rect x="195.9" y="638.7" width="0.8" height="0.8" fill="rgb(177,177,177)"/>
<rect x="200.4" y="626.6" width="0.8" height="0.8" fill="rgb(162,162,162)"/>
<rect x="199.3" y="638.0" width="0.8" height="0.8" fill="rgb(170,170,170)"/>
<rect x="196.1" y="644.1" width="0.8" height="0.8" fill="rgb(189,189,189)"/>
<rect x="197.9" y="635.9" width="0.8" height="0.8" fill="rgb(93,93,93)"/>
<rect x="201.3" y="640.8" width="0.8" height="0.8" fill="rgb(190,190,190)"/>
<rect x="201.4" y="640.8" width="0.8" height="0.8" fill="rgb(156,156,156)"/>
<rect x="196.5" y="627.4" width="0.8" height="0.8" fill="rgb(66,66,66)"/>
<rect x="202.7" y="620.4" width="0.8" height="0.8" fill="rgb(88,88,88)"/>
<rect x="200.5" y="651.9" width="0.8" height="0.8" fill="rgb(185,185,185)"/>
<rect x="197.6" y="646.6" width="0.8" height="0.8" fill="rgb(102,102,102)"/>
<rect x="197.3" y="627.2" width="0.8" height="0.8" fill="rgb(116,116,116)"/>
<rect x="200.2" y="638.2" width="0.8" height="0.8" fill="rgb(124,124,124)"/>
<rect x="200.8" y="646.7" width="0.8" height="0.8" fill="rgb(130,130,130)"/>
<rect x="200.3" y="632.3" width="0.8" height="0.8" fill="rgb(125,125,125)"/>
<rect x="194.0" y="635.8" width="0.8" height="0.8" fill="rgb(113,113,113)"/>
<rect x="196.2" y="631.5" width="0.8" height="0.8" fill="rgb(120,120,120)"/>
<rect x="198.3" y="637.5" width="0.8" height="0.8" fill="rgb(106,106,106)"/>
<rect x="196.2" y="640.9" width="0.8" height="0.8" fill="rgb(131,131,131)"/>
<rect x="196.7" y="624.5" width="0.8" height="0.8" fill="rgb(103,103,103)"/>
<rect x="198.9" y="631.5" width="0.8" height="0.8" fill="rgb(72,72,72)"/>
<rect x="197.3" y="631.7" width="0.8" height="0.8" fill="rgb(175,175,175)"/>
<rect x="196.0" y="633.3" width="0.8" height="0.8" fill="rgb(86,86,86)"/>
<rect x="198.5" y="643.4" width="0.8" height="0.8" fill="rgb(160,160,160)"/>
<rect x="198.4" y="630.2" width="0.8" height="0.8" fill="rgb(156,156,156)"/>
<rect x="201.1" y="635.5" width="0.8" height="0.8" fill="rgb(152,152,152)"/>
<rect x="198.1" y="638.2" width="0.8" height="0.8" fill="rgb(118,118,118)"/>
<rect x="200.0" y="644.9" width="0.8" height="0.8" fill="rgb(72,72,72)"/>
<rect x="197.8" y="642.9" width="0.8" height="0.8" fill="rgb(139,139,139)"/>
<rect x="194.8" y="622.8" width="0.8" height="0.8" fill="rgb(140,140,140)"/>
<rect x="198.1" y="626.1" width="0.8" height="0.8" fill="rgb(116,116,116)"/>
<rect x="200.1" y="642.7" width="0.8" height="0.8" fill="rgb(170,170,170)"/>
<rect x="196.8" y="638.8" width="0.8" height="0.8" fill="rgb(72,72,72)"/>
<rect x="199.5" y="639.2" width="0.8" height="0.8" fill="rgb(71,71,71)"/>
<rect x="198.6" y="636.1" width="0.8" height="0.8" fill="rgb(150,150,150)"/>
<rect x="197.7" y="642.9" width="0.8" height="0.8" fill="rgb(117,117,117)"/>
<rect x="197.1" y="638.6" width="0.8" height="0.8" fill="rgb(94,94,94)"/>
<rect x="199.3" y="644.0" width="0.8" height="0.8" fill="rgb(181,181,181)"/>
<rect x="198.7" y="636.8" width="0.8" height="0.8" fill="rgb(122,122,122)"/>
<rect x="197.9" y="629.7" width="0.8" height="0.8" fill="rgb(76,76,76)"/>
<rect x="195.9" y="626.7" width="0.8" height="0.8" fill="rgb(129,129,129)"/>
<rect x="197.2" y="638.7" width="0.8" height="0.8" fill="rgb(62,62,62)"/>
<rect x="202.0" y="639.8" width="0.8" height="0.8" fill="rgb(149,149,149)"/>
<rect x="196.3" y="631.6" width="0.8" height="0.8" fill="rgb(186,186,186)"/>
<rect x="198.5" y="649.0" width="0.8" height="0.8" fill="rgb(71,71,71)"/>
<rect x="198.9" y="636.5" width="0.8" height="0.8" fill="rgb(107,107,107)"/>
<rect x="198.6" y="638.1" width="0.8" height="0.8" fill="rgb(86,86,86)"/>
<rect x="201.0" y="636.6" width="0.8" height="0.8" fill="rgb(110,110,110)"/>
<rect x="199.3" y="639.1" width="0.8" height="0.8" fill="rgb(189,189,189)"/>
<rect x="197.3" y="631.0" width="0.8" height="0.8" fill="rgb(104,104,104)"/>
<rect x="197.8" y="635.9" width="0.8" height="0.8" fill="rgb(72,72,72)"/>
<rect x="201.7" y="635.6" width="0.8" height="0.8" fill="rgb(182,182,182)"/>
<rect x="198.5" y="635.3" width="0.8" height="0.8" fill="rgb(171,171,171)"/>
<rect x="198.4" y="629.3" width="0.8" height="0.8" fill="rgb(175,175,175)"/>
<rect x="201.5" y="654.1" width="0.8" height="0.8" fill="rgb(126,126,126)"/>
<rect x="198.6" y="637.7" width="0.8" height="0.8" fill="rgb(145,145,145)"/>
<rect x="202.0" y="627.4" width="0.8" height="0.8" fill="rgb(127,127,127)"/>
<rect x="198.1" y="631.4" width="0.8" height="0.8" fill="rgb(171,171,171)"/>
<rect x="196.7" y="623.7" width="0.8" height="0.8" fill="rgb(127,127,127)"/>
<rect x="197.2" y="649.2" width="0.8" height="0.8" fill="rgb(115,115,115)"/>
<rect x="200.5" y="639.7" width="0.8" height="0.8" fill="rgb(103,103,103)"/>
<rect x="198.4" y="640.4" width="0.8" height="0.8" fill="rgb(111,111,111)"/>
<rect x="201.6" y="632.6" width="0.8" height="0.8" fill="rgb(143,143,143)"/>
<rect x="199.2" y="641.6" width="0.8" height="0.8" fill="rgb(121,121,121)"/>
<rect x="195.7" y="644.1" width="0.8" height="0.8" fill="rgb(180,180,180)"/>
<rect x="196.1" y="637.3" width="0.8" height="0.8" fill="rgb(61,61,61)"/>
<rect x="199.8" y="631.0" width="0.8" height="0.8" fill="rgb(119,119,119)"/>
<rect x="196.9" y="633.8" width="0.8" height="0.8" fill="rgb(114,114,114)"/>
<rect x="196.4" y="641.0" width="0.8" height="0.8" fill="rgb(103,103,103)"/>
<rect x="198.8" y="637.1" width="0.8" height="0.8" fill="rgb(87,87,87)"/>
<rect x="212.1" y="617.8" width="0.8" height="0.8" fill="rgb(38,38,38)"/>
<rect x="212.8" y="618.3" width="0.8" height="0.8" fill="rgb(37,37,37)"/>
<rect x="212.0" y="615.0" width="0.8" height="0.8" fill="rgb(109,109,109)"/>
<rect x="213.6" y="619.4" width="0.8" height="0.8" fill="rgb(95,95,95)"/>
<rect x="213.1" y="617.0" width="0.8" height="0.8" fill="rgb(88,88,88)"/>
<rect x="213.6" y="618.3" width="0.8" height="0.8" fill="rgb(116,116,116)"/>
<rect x="217.1" y="615.3" width="0.8" height="0.8" fill="rgb(33,33,33)"/>
<rect x="213.0" y="621.0" width="0.8" height="0.8" fill="rgb(24,24,24)"/>
<rect x="216.8" y="620.2" width="0.8" height="0.8" fill="rgb(116,116,116)"/>
<rect x="210.5" y="614.8" width="0.8" height="0.8" fill="rgb(100,100,100)"/>
<rect x="211.5" y="616.5" width="0.8" height="0.8" fill="rgb(36,36,36)"/>
<rect x="215.7" y="621.9" width="0.8" height="0.8" fill="rgb(46,46,46)"/>
<rect x="212.5" y="621.6" width="0.8" height="0.8" fill="rgb(53,53,53)"/>
<rect x="214.5" y="619.3" width="0.8" height="0.8" fill="rgb(56,56,56)"/>
<rect x="216.2" y="620.5" width="0.8" height="0.8" fill="rgb(61,61,61)"/>
<rect x="213.3" y="615.0" width="0.8" height="0.8" fill="rgb(80,80,80)"/>
<rect x="214.7" y="615.7" width="0.8" height="0.8" fill="rgb(23,23,23)"/>
<rect x="213.1" y="618.3" width="0.8" height="0.8" fill="rgb(86,86,86)"/>
<rect x="213.3" y="616.3" width="0.8" height="0.8" fill="rgb(110,110,110)"/>
<rect x="215.5" y="620.2" width="0.8" height="0.8" fill="rgb(111,111,111)"/>
<rect x="213.6" y="618.0" width="0.8" height="0.8" fill="rgb(56,56,56)"/>
<rect x="213.0" y="619.1" width="0.8" height="0.8" fill="rgb(45,45,45)"/>
<rect x="212.2" y="623.9" width="0.8" height="0.8" fill="rgb(26,26,26)"/>
<rect x="215.3" y="619.1" width="0.8" height="0.8" fill="rgb(82,82,82)"/>
<rect x="211.7" y="613.7" width="0.8" height="0.8" fill="rgb(83,83,83)"/>
<rect x="208.8" y="614.9" width="0.8" height="0.8" fill="rgb(85,85,85)"/>
<rect x="212.7" y="626.2" width="0.8" height="0.8" fill="rgb(56,56,56)"/>
<rect x="214.9" y="612.5" width="0.8" height="0.8" fill="rgb(49,49,49)"/>
<rect x="212.0" y="619.0" width="0.8" height="0.8" fill="rgb(101,101,101)"/>
<rect x="213.2" y="615.5" width="0.8" height="0.8" fill="rgb(109,109,109)"/>
<rect x="212.1" y="618.5" width="0.8" height="0.8" fill="rgb(61,61,61)"/>
<rect x="211.8" y="621.4" width="0.8" height="0.8" fill="rgb(70,70,70)"/>
<rect x="215.6" y="615.9" width="0.8" height="0.8" fill="rgb(74,74,74)"/>
<rect x="213.3" y="618.6" width="0.8" height="0.8" fill="rgb(46,46,46)"/>
<rect x="212.3" y="622.0" width="0.8" height="0.8" fill="rgb(89,89,89)"/>
<rect x="211.0" y="619.0" width="0.8" height="0.8" fill="rgb(100,100,100)"/>
<rect x="213.2" y="622.3" width="0.8" height="0.8" fill="rgb(88,88,88)"/>
<rect x="210.5" y="616.4" width="0.8" height="0.8" fill="rgb(97,97,97)"/>
<rect x="211.9" y="616.8" width="0.8" height="0.8" fill="rgb(61,61,61)"/>
<rect x="209.0" y="618.2" width="0.8" height="0.8" fill="rgb(77,77,77)"/>
</g>
<g clip-path="url(#c1)">
<ellipse cx="260" cy="635" rx="5.5" ry="5.5" fill="#222" opacity="0.9" transform="rotate(0 260 635)" filter="url(#b2)"/>
<ellipse cx="265" cy="631" rx="8" ry="5" fill="#888" opacity="0.75" transform="rotate(-25 265 631)" filter="url(#b1)"/>
<ellipse cx="279.5" cy="623.5" rx="3.5" ry="4" fill="#555" opacity="0.85" transform="rotate(0 279.5 623.5)" filter="url(#b2)"/>
<ellipse cx="274" cy="628" rx="8" ry="4.5" fill="#999" opacity="0.7" transform="rotate(-30 274 628)" filter="url(#b1)"/>
<ellipse cx="262" cy="641" rx="6" ry="3" fill="#aaa" opacity="0.7" transform="rotate(0 262 641)" filter="url(#b1)"/>
<rect x="256.1" y="628.7" width="0.8" height="0.8" fill="rgb(63,63,63)"/>
<rect x="253.3" y="636.6" width="0.8" height="0.8" fill="rgb(85,85,85)"/>
<rect x="257.9" y="633.9" width="0.8" height="0.8" fill="rgb(138,138,138)"/>
<rect x="255.7" y="629.6" width="0.8" height="0.8" fill="rgb(149,149,149)"/>
<rect x="261.4" y="638.6" width="0.8" height="0.8" fill="rgb(59,59,59)"/>
<rect x="258.0" y="623.0" width="0.8" height="0.8" fill="rgb(103,103,103)"/>
<rect x="256.7" y="632.5" width="0.8" height="0.8" fill="rgb(80,80,80)"/>
<rect x="258.6" y="637.6" width="0.8" height="0.8" fill="rgb(46,46,46)"/>
<rect x="263.4" y="640.7" width="0.8" height="0.8" fill="rgb(70,70,70)"/>
<rect x="250.3" y="643.6" width="0.8" height="0.8" fill="rgb(97,97,97)"/>
<rect x="259.5" y="630.2" width="0.8" height="0.8" fill="rgb(70,70,70)"/>
<rect x="267.7" y="641.3" width="0.8" height="0.8" fill="rgb(91,91,91)"/>
<rect x="261.2" y="639.3" width="0.8" height="0.8" fill="rgb(28,28,28)"/>
<rect x="268.8" y="635.7" width="0.8" height="0.8" fill="rgb(131,131,131)"/>
<rect x="258.2" y="630.0" width="0.8" height="0.8" fill="rgb(95,95,95)"/>
<rect x="257.6" y="635.6" width="0.8" height="0.8" fill="rgb(123,123,123)"/>
<rect x="263.4" y="635.1" width="0.8" height="0.8" fill="rgb(130,130,130)"/>
<rect x="258.2" y="629.3" width="0.8" height="0.8" fill="rgb(127,127,127)"/>
<rect x="263.8" y="629.5" width="0.8" height="0.8" fill="rgb(78,78,78)"/>
<rect x="257.2" y="629.2" width="0.8" height="0.8" fill="rgb(136,136,136)"/>
<rect x="256.8" y="636.4" width="0.8" height="0.8" fill="rgb(45,45,45)"/>
<rect x="262.6" y="632.9" width="0.8" height="0.8" fill="rgb(122,122,122)"/>
<rect x="258.5" y="628.8" width="0.8" height="0.8" fill="rgb(84,84,84)"/>
<rect x="263.0" y="630.8" width="0.8" height="0.8" fill="rgb(25,25,25)"/>
<rect x="256.7" y="631.8" width="0.8" height="0.8" fill="rgb(66,66,66)"/>
<rect x="263.2" y="632.5" width="0.8" height="0.8" fill="rgb(22,22,22)"/>
<rect x="256.0" y="638.4" width="0.8" height="0.8" fill="rgb(47,47,47)"/>
<rect x="265.5" y="636.3" width="0.8" height="0.8" fill="rgb(61,61,61)"/>
<rect x="257.7" y="624.2" width="0.8" height="0.8" fill="rgb(71,71,71)"/>
<rect x="257.9" y="634.7" width="0.8" height="0.8" fill="rgb(136,136,136)"/>
<rect x="253.1" y="633.2" width="0.8" height="0.8" fill="rgb(151,151,151)"/>
<rect x="267.9" y="635.8" width="0.8" height="0.8" fill="rgb(114,114,114)"/>
<rect x="255.4" y="634.4" width="0.8" height="0.8" fill="rgb(136,136,136)"/>
<rect x="261.7" y="641.6" width="0.8" height="0.8" fill="rgb(120,120,120)"/>
<rect x="249.6" y="634.1" width="0.8" height="0.8" fill="rgb(111,111,111)"/>
<rect x="257.8" y="632.4" width="0.8" height="0.8" fill="rgb(117,117,117)"/>
<rect x="259.4" y="635.4" width="0.8" height="0.8" fill="rgb(127,127,127)"/>
<rect x="265.5" y="631.8" width="0.8" height="0.8" fill="rgb(110,110,110)"/>
<rect x="258.1" y="634.0" width="0.8" height="0.8" fill="rgb(97,97,97)"/>
<rect x="259.4" y="624.3" width="0.8" height="0.8" fill="rgb(154,154,154)"/>
<rect x="274.2" y="632.4" width="0.8" height="0.8" fill="rgb(120,120,120)"/>
<rect x="257.4" y="635.6" width="0.8" height="0.8" fill="rgb(37,37,37)"/>
<rect x="262.3" y="629.1" width="0.8" height="0.8" fill="rgb(140,140,140)"/>
<rect x="255.5" y="629.4" width="0.8" height="0.8" fill="rgb(57,57,57)"/>
<rect x="256.1" y="640.1" width="0.8" height="0.8" fill="rgb(125,125,125)"/>
<rect x="256.3" y="635.7" width="0.8" height="0.8" fill="rgb(160,160,160)"/>
<rect x="255.4" y="628.7" width="0.8" height="0.8" fill="rgb(140,140,140)"/>
<rect x="254.6" y="641.9" width="0.8" height="0.8" fill="rgb(88,88,88)"/>
<rect x="258.1" y="628.4" width="0.8" height="0.8" fill="rgb(129,129,129)"/>
<rect x="257.8" y="630.3" width="0.8" height="0.8" fill="rgb(91,91,91)"/>
<rect x="255.9" y="640.1" width="0.8" height="0.8" fill="rgb(102,102,102)"/>
<rect x="255.3" y="635.6" width="0.8" height="0.8" fill="rgb(41,41,41)"/>
<rect x="257.7" y="631.4" width="0.8" height="0.8" fill="rgb(97,97,97)"/>
<rect x="260.9" y="633.8" width="0.8" height="0.8" fill="rgb(103,103,103)"/>
<rect x="260.5" y="632.6" width="0.8" height="0.8" fill="rgb(108,108,108)"/>
<rect x="259.5" y="634.4" width="0.8" height="0.8" fill="rgb(22,22,22)"/>
<rect x="260.4" y="636.7" width="0.8" height="0.8" fill="rgb(95,95,95)"/>
<rect x="260.0" y="637.1" width="0.8" height="0.8" fill="rgb(56,56,56)"/>
<rect x="261.8" y="632.7" width="0.8" height="0.8" fill="rgb(135,135,135)"/>
<rect x="258.5" y="637.1" width="0.8" height="0.8" fill="rgb(123,123,123)"/>
<rect x="260.7" y="632.4" width="0.8" height="0.8" fill="rgb(43,43,43)"/>
<rect x="255.3" y="626.7" width="0.8" height="0.8" fill="rgb(96,96,96)"/>
<rect x="262.2" y="641.5" width="0.8" height="0.8" fill="rgb(155,155,155)"/>
<rect x="267.6" y="639.1" width="0.8" height="0.8" fill="rgb(49,49,49)"/>
<rect x="256.7" y="633.8" width="0.8" height="0.8" fill="rgb(79,79,79)"/>
<rect x="262.4" y="630.5" width="0.8" height="0.8" fill="rgb(34,34,34)"/>
<rect x="250.3" y="636.0" width="0.8" height="0.8" fill="rgb(145,145,145)"/>
<rect x="260.1" y="637.7" width="0.8" height="0.8" fill="rgb(21,21,21)"/>
<rect x="262.1" y="638.3" width="0.8" height="0.8" fill="rgb(147,147,147)"/>
<rect x="255.6" y="627.6" width="0.8" height="0.8" fill="rgb(115,115,115)"/>
<rect x="242.1" y="644.0" width="0.8" height="0.8" fill="rgb(39,39,39)"/>
<rect x="261.8" y="638.9" width="0.8" height="0.8" fill="rgb(27,27,27)"/>
<rect x="261.4" y="635.2" width="0.8" height="0.8" fill="rgb(104,104,104)"/>
<rect x="260.7" y="633.1" width="0.8" height="0.8" fill="rgb(143,143,143)"/>
<rect x="250.4" y="635.9" width="0.8" height="0.8" fill="rgb(28,28,28)"/>
<rect x="261.1" y="639.5" width="0.8" height="0.8" fill="rgb(52,52,52)"/>
<rect x="255.3" y="642.6" width="0.8" height="0.8" fill="rgb(113,113,113)"/>
<rect x="255.8" y="641.6" width="0.8" height="0.8" fill="rgb(73,73,73)"/>
<rect x="259.1" y="639.0" width="0.8" height="0.8" fill="rgb(84,84,84)"/>
<rect x="252.1" y="632.2" width="0.8" height="0.8" fill="rgb(94,94,94)"/>
<rect x="256.8" y="639.1" width="0.8" height="0.8" fill="rgb(105,105,105)"/>
<rect x="256.4" y="634.9" width="0.8" height="0.8" fill="rgb(149,149,149)"/>
<rect x="258.3" y="637.5" width="0.8" height="0.8" fill="rgb(146,146,146)"/>
<rect x="261.1" y="631.1" width="0.8" height="0.8" fill="rgb(101,101,101)"/>
<rect x="259.5" y="632.7" width="0.8" height="0.8" fill="rgb(42,42,42)"/>
<rect x="260.3" y="633.7" width="0.8" height="0.8" fill="rgb(123,123,123)"/>
<rect x="258.6" y="634.6" width="0.8" height="0.8" fill="rgb(96,96,96)"/>
<rect x="261.1" y="635.9" width="0.8" height="0.8" fill="rgb(141,141,141)"/>
<rect x="254.9" y="630.8" width="0.8" height="0.8" fill="rgb(148,148,148)"/>
<rect x="265.2" y="631.7" width="0.8" height="0.8" fill="rgb(57,57,57)"/>
<rect x="255.1" y="630.0" width="0.8" height="0.8" fill="rgb(41,41,41)"/>
<rect x="261.6" y="641.5" width="0.8" height="0.8" fill="rgb(137,137,137)"/>
<rect x="258.0" y="633.0" width="0.8" height="0.8" fill="rgb(66,66,66)"/>
<rect x="263.2" y="631.6" width="0.8" height="0.8" fill="rgb(45,45,45)"/>
<rect x="265.6" y="631.6" width="0.8" height="0.8" fill="rgb(114,114,114)"/>
<rect x="261.7" y="633.2" width="0.8" height="0.8" fill="rgb(99,99,99)"/>
<rect x="256.8" y="633.7" width="0.8" height="0.8" fill="rgb(97,97,97)"/>
<rect x="260.5" y="636.1" width="0.8" height="0.8" fill="rgb(25,25,25)"/>
<rect x="254.2" y="637.7" width="0.8" height="0.8" fill="rgb(33,33,33)"/>
<rect x="254.5" y="635.1" width="0.8" height="0.8" fill="rgb(50,50,50)"/>
<rect x="260.7" y="630.3" width="0.8" height="0.8" fill="rgb(123,123,123)"/>
<rect x="259.3" y="635.3" width="0.8" height="0.8" fill="rgb(119,119,119)"/>
<rect x="248.2" y="627.1" width="0.8" height="0.8" fill="rgb(59,59,59)"/>
<rect x="255.4" y="635.7" width="0.8" height="0.8" fill="rgb(46,46,46)"/>
<rect x="264.4" y="637.5" width="0.8" height="0.8" fill="rgb(58,58,58)"/>
<rect x="256.7" y="631.6" width="0.8" height="0.8" fill="rgb(22,22,22)"/>
<rect x="259.1" y="632.9" width="0.8" height="0.8" fill="rgb(42,42,42)"/>
<rect x="260.5" y="637.2" width="0.8" height="0.8" fill="rgb(140,140,140)"/>
<rect x="267.1" y="635.8" width="0.8" height="0.8" fill="rgb(82,82,82)"/>
<rect x="252.9" y="637.3" width="0.8" height="0.8" fill="rgb(32,32,32)"/>
<rect x="255.0" y="640.6" width="0.8" height="0.8" fill="rgb(57,57,57)"/>
<rect x="259.8" y="633.1" width="0.8" height="0.8" fill="rgb(147,147,147)"/>
<rect x="249.9" y="637.6" width="0.8" height="0.8" fill="rgb(85,85,85)"/>
<rect x="261.3" y="634.2" width="0.8" height="0.8" fill="rgb(28,28,28)"/>
<rect x="260.8" y="635.1" width="0.8" height="0.8" fill="rgb(40,40,40)"/>
<rect x="257.0" y="637.5" width="0.8" height="0.8" fill="rgb(62,62,62)"/>
<rect x="268.2" y="632.8" width="0.8" height="0.8" fill="rgb(35,35,35)"/>
<rect x="255.6" y="645.0" width="0.8" height="0.8" fill="rgb(132,132,132)"/>
<rect x="257.3" y="635.5" width="0.8" height="0.8" fill="rgb(49,49,49)"/>
<rect x="255.8" y="639.9" width="0.8" height="0.8" fill="rgb(126,126,126)"/>
<rect x="252.3" y="636.1" width="0.8" height="0.8" fill="rgb(135,135,135)"/>
<rect x="267.4" y="632.3" width="0.8" height="0.8" fill="rgb(105,105,105)"/>
<rect x="259.6" y="636.5" width="0.8" height="0.8" fill="rgb(105,105,105)"/>
<rect x="264.9" y="629.7" width="0.8" height="0.8" fill="rgb(23,23,23)"/>
<rect x="263.0" y="629.7" width="0.8" height="0.8" fill="rgb(99,99,99)"/>
<rect x="249.4" y="628.8" width="0.8" height="0.8" fill="rgb(83,83,83)"/>
<rect x="255.1" y="639.8" width="0.8" height="0.8" fill="rgb(79,79,79)"/>
<rect x="261.3" y="631.6" width="0.8" height="0.8" fill="rgb(20,20,20)"/>
<rect x="258.5" y="638.2" width="0.8" height="0.8" fill="rgb(60,60,60)"/>
<rect x="252.9" y="630.7" width="0.8" height="0.8" fill="rgb(30,30,30)"/>
<rect x="259.4" y="637.4" width="0.8" height="0.8" fill="rgb(57,57,57)"/>
<rect x="258.7" y="643.7" width="0.8" height="0.8" fill="rgb(160,160,160)"/>
<rect x="256.0" y="625.9" width="0.8" height="0.8" fill="rgb(108,108,108)"/>
<rect x="254.5" y="633.8" width="0.8" height="0.8" fill="rgb(144,144,144)"/>
<rect x="260.9" y="632.1" width="0.8" height="0.8" fill="rgb(79,79,79)"/>
<rect x="259.4" y="636.4" width="0.8" height="0.8" fill="rgb(121,121,121)"/>
<rect x="257.0" y="635.7" width="0.8" height="0.8" fill="rgb(85,85,85)"/>
<rect x="259.5" y="634.7" width="0.8" height="0.8" fill="rgb(118,118,118)"/>
<rect x="258.1" y="635.5" width="0.8" height="0.8" fill="rgb(110,110,110)"/>
<rect x="260.5" y="631.8" width="0.8" height="0.8" fill="rgb(153,153,153)"/>
<rect x="267.5" y="629.4" width="0.8" height="0.8" fill="rgb(153,153,153)"/>
<rect x="257.7" y="639.8" width="0.8" height="0.8" fill="rgb(71,71,71)"/>
<rect x="261.1" y="637.7" width="0.8" height="0.8" fill="rgb(66,66,66)"/>
<rect x="261.3" y="631.5" width="0.8" height="0.8" fill="rgb(111,111,111)"/>
<rect x="255.6" y="638.1" width="0.8" height="0.8" fill="rgb(58,58,58)"/>
<rect x="260.2" y="645.2" width="0.8" height="0.8" fill="rgb(146,146,146)"/>
<rect x="258.5" y="636.5" width="0.8" height="0.8" fill="rgb(138,138,138)"/>
<rect x="260.6" y="632.4" width="0.8" height="0.8" fill="rgb(27,27,27)"/>
<rect x="256.9" y="639.5" width="0.8" height="0.8" fill="rgb(25,25,25)"/>
<rect x="262.5" y="636.7" width="0.8" height="0.8" fill="rgb(144,144,144)"/>
<rect x="257.3" y="633.4" width="0.8" height="0.8" fill="rgb(91,91,91)"/>
<rect x="250.3" y="639.9" width="0.8" height="0.8" fill="rgb(53,53,53)"/>
<rect x="260.0" y="636.3" width="0.8" height="0.8" fill="rgb(71,71,71)"/>
<rect x="264.4" y="634.9" width="0.8" height="0.8" fill="rgb(27,27,27)"/>
<rect x="265.5" y="636.8" width="0.8" height="0.8" fill="rgb(137,137,137)"/>
<rect x="251.3" y="635.7" width="0.8" height="0.8" fill="rgb(36,36,36)"/>
<rect x="264.2" y="630.1" width="0.8" height="0.8" fill="rgb(50,50,50)"/>
<rect x="259.5" y="633.1" width="0.8" height="0.8" fill="rgb(101,101,101)"/>
<rect x="254.1" y="632.5" width="0.8" height="0.8" fill="rgb(149,149,149)"/>
<rect x="256.2" y="638.1" width="0.8" height="0.8" fill="rgb(60,60,60)"/>
<rect x="257.7" y="637.4" width="0.8" height="0.8" fill="rgb(76,76,76)"/>
<rect x="265.0" y="644.5" width="0.8" height="0.8" fill="rgb(110,110,110)"/>
<rect x="265.3" y="637.1" width="0.8" height="0.8" fill="rgb(27,27,27)"/>
<rect x="260.7" y="633.8" width="0.8" height="0.8" fill="rgb(151,151,151)"/>
<rect x="258.4" y="628.7" width="0.8" height="0.8" fill="rgb(143,143,143)"/>
<rect x="262.4" y="635.9" width="0.8" height="0.8" fill="rgb(21,21,21)"/>
<rect x="266.3" y="632.5" width="0.8" height="0.8" fill="rgb(96,96,96)"/>
<rect x="255.9" y="632.4" width="0.8" height="0.8" fill="rgb(46,46,46)"/>
<rect x="255.7" y="635.8" width="0.8" height="0.8" fill="rgb(119,119,119)"/>
<rect x="263.7" y="638.6" width="0.8" height="0.8" fill="rgb(63,63,63)"/>
<rect x="252.4" y="637.9" width="0.8" height="0.8" fill="rgb(23,23,23)"/>
<rect x="250.3" y="637.0" width="0.8" height="0.8" fill="rgb(29,29,29)"/>
<rect x="264.7" y="642.1" width="0.8" height="0.8" fill="rgb(39,39,39)"/>
<rect x="268.3" y="631.4" width="0.8" height="0.8" fill="rgb(55,55,55)"/>
<rect x="262.0" y="623.8" width="0.8" height="0.8" fill="rgb(118,118,118)"/>
<rect x="263.5" y="629.7" width="0.8" height="0.8" fill="rgb(135,135,135)"/>
<rect x="263.9" y="634.3" width="0.8" height="0.8" fill="rgb(79,79,79)"/>
<rect x="253.7" y="635.9" width="0.8" height="0.8" fill="rgb(56,56,56)"/>
<rect x="256.4" y="641.4" width="0.8" height="0.8" fill="rgb(66,66,66)"/>
<rect x="258.7" y="629.4" width="0.8" height="0.8" fill="rgb(57,57,57)"/>
<rect x="257.6" y="636.0" width="0.8" height="0.8" fill="rgb(127,127,127)"/>
<rect x="257.8" y="636.4" width="0.8" height="0.8" fill="rgb(89,89,89)"/>
<rect x="256.6" y="633.4" width="0.8" height="0.8" fill="rgb(62,62,62)"/>
<rect x="259.9" y="637.2" width="0.8" height="0.8" fill="rgb(136,136,136)"/>
<rect x="261.8" y="633.7" width="0.8" height="0.8" fill="rgb(151,151,151)"/>
<rect x="269.0" y="638.3" width="0.8" height="0.8" fill="rgb(74,74,74)"/>
<rect x="252.1" y="631.9" width="0.8" height="0.8" fill="rgb(50,50,50)"/>
<rect x="259.9" y="638.0" width="0.8" height="0.8" fill="rgb(113,113,113)"/>
<rect x="256.8" y="636.5" width="0.8" height="0.8" fill="rgb(81,81,81)"/>
<rect x="261.8" y="634.1" width="0.8" height="0.8" fill="rgb(94,94,94)"/>
<rect x="257.7" y="636.4" width="0.8" height="0.8" fill="rgb(95,95,95)"/>
<rect x="264.0" y="640.1" width="0.8" height="0.8" fill="rgb(133,133,133)"/>
<rect x="261.4" y="631.2" width="0.8" height="0.8" fill="rgb(55,55,55)"/>
<rect x="252.6" y="637.8" width="0.8" height="0.8" fill="rgb(154,154,154)"/>
<rect x="259.0" y="639.1" width="0.8" height="0.8" fill="rgb(30,30,30)"/>
<rect x="262.7" y="633.3" width="0.8" height="0.8" fill="rgb(66,66,66)"/>
<rect x="261.8" y="637.2" width="0.8" height="0.8" fill="rgb(78,78,78)"/>
<rect x="259.3" y="632.1" width="0.8" height="0.8" fill="rgb(40,40,40)"/>
<rect x="264.5" y="626.7" width="0.8" height="0.8" fill="rgb(146,146,146)"/>
<rect x="260.2" y="632.2" width="0.8" height="0.8" fill="rgb(55,55,55)"/>
<rect x="254.6" y="630.4" width="0.8" height="0.8" fill="rgb(69,69,69)"/>
<rect x="257.4" y="633.5" width="0.8" height="0.8" fill="rgb(36,36,36)"/>
<rect x="258.1" y="629.9" width="0.8" height="0.8" fill="rgb(34,34,34)"/>
<rect x="255.9" y="634.5" width="0.8" height="0.8" fill="rgb(92,92,92)"/>
<rect x="264.9" y="627.5" width="0.8" height="0.8" fill="rgb(146,146,146)"/>
<rect x="263.9" y="637.5" width="0.8" height="0.8" fill="rgb(142,142,142)"/>
<rect x="264.5" y="639.9" width="0.8" height="0.8" fill="rgb(83,83,83)"/>
<rect x="263.3" y="642.8" width="0.8" height="0.8" fill="rgb(113,113,113)"/>
<rect x="266.8" y="636.6" width="0.8" height="0.8" fill="rgb(21,21,21)"/>
<rect x="253.5" y="643.2" width="0.8" height="0.8" fill="rgb(152,152,152)"/>
<rect x="263.8" y="636.8" width="0.8" height="0.8" fill="rgb(82,82,82)"/>
<rect x="263.7" y="626.8" width="0.8" height="0.8" fill="rgb(102,102,102)"/>
<rect x="261.6" y="626.1" width="0.8" height="0.8" fill="rgb(35,35,35)"/>
<rect x="259.4" y="637.1" width="0.8" height="0.8" fill="rgb(146,146,146)"/>
<rect x="259.0" y="635.3" width="0.8" height="0.8" fill="rgb(157,157,157)"/>
<rect x="262.2" y="637.5" width="0.8" height="0.8" fill="rgb(42,42,42)"/>
<rect x="260.5" y="637.8" width="0.8" height="0.8" fill="rgb(46,46,46)"/>
<rect x="257.8" y="640.3" width="0.8" height="0.8" fill="rgb(27,27,27)"/>
<rect x="270.2" y="636.3" width="0.8" height="0.8" fill="rgb(69,69,69)"/>
<rect x="259.4" y="643.6" width="0.8" height="0.8" fill="rgb(138,138,138)"/>
<rect x="259.6" y="632.9" width="0.8" height="0.8" fill="rgb(76,76,76)"/>
<rect x="269.9" y="630.4" width="0.8" height="0.8" fill="rgb(95,95,95)"/>
<rect x="274.8" y="626.7" width="0.8" height="0.8" fill="rgb(176,176,176)"/>
<rect x="258.9" y="630.0" width="0.8" height="0.8" fill="rgb(78,78,78)"/>
<rect x="277.7" y="628.1" width="0.8" height="0.8" fill="rgb(85,85,85)"/>
<rect x="265.7" y="629.9" width="0.8" height="0.8" fill="rgb(108,108,108)"/>
<rect x="278.7" y="629.2" width="0.8" height="0.8" fill="rgb(151,151,151)"/>
<rect x="281.2" y="630.8" width="0.8" height="0.8" fill="rgb(149,149,149)"/>
<rect x="265.0" y="624.7" width="0.8" height="0.8" fill="rgb(184,184,184)"/>
<rect x="290.5" y="620.7" width="0.8" height="0.8" fill="rgb(63,63,63)"/>
<rect x="270.2" y="623.9" width="0.8" height="0.8" fill="rgb(111,111,111)"/>
<rect x="274.1" y="619.5" width="0.8" height="0.8" fill="rgb(194,194,194)"/>
<rect x="271.8" y="617.0" width="0.8" height="0.8" fill="rgb(152,152,152)"/>
<rect x="271.8" y="626.2" width="0.8" height="0.8" fill="rgb(182,182,182)"/>
<rect x="280.0" y="629.3" width="0.8" height="0.8" fill="rgb(140,140,140)"/>
<rect x="273.2" y="632.1" width="0.8" height="0.8" fill="rgb(52,52,52)"/>
<rect x="267.2" y="634.7" width="0.8" height="0.8" fill="rgb(67,67,67)"/>
<rect x="270.1" y="631.5" width="0.8" height="0.8" fill="rgb(55,55,55)"/>
<rect x="274.3" y="631.5" width="0.8" height="0.8" fill="rgb(151,151,151)"/>
<rect x="268.9" y="617.3" width="0.8" height="0.8" fill="rgb(61,61,61)"/>
<rect x="272.3" y="617.5" width="0.8" height="0.8" fill="rgb(60,60,60)"/>
<rect x="281.5" y="624.0" width="0.8" height="0.8" fill="rgb(118,118,118)"/>
<rect x="278.1" y="620.7" width="0.8" height="0.8" fill="rgb(188,188,188)"/>
<rect x="271.1" y="626.6" width="0.8" height="0.8" fill="rgb(75,75,75)"/>
<rect x="273.5" y="632.8" width="0.8" height="0.8" fill="rgb(161,161,161)"/>
<rect x="271.8" y="629.0" width="0.8" height="0.8" fill="rgb(78,78,78)"/>
<rect x="270.4" y="635.2" width="0.8" height="0.8" fill="rgb(80,80,80)"/>
<rect x="289.6" y="622.9" width="0.8" height="0.8" fill="rgb(181,181,181)"/>
<rect x="272.9" y="625.7" width="0.8" height="0.8" fill="rgb(186,186,186)"/>
<rect x="277.0" y="622.5" width="0.8" height="0.8" fill="rgb(180,180,180)"/>
<rect x="276.3" y="628.3" width="0.8" height="0.8" fill="rgb(154,154,154)"/>
<rect x="265.2" y="629.2" width="0.8" height="0.8" fill="rgb(72,72,72)"/>
<rect x="268.9" y="624.9" width="0.8" height="0.8" fill="rgb(166,166,166)"/>
<rect x="262.2" y="628.5" width="0.8" height="0.8" fill="rgb(148,148,148)"/>
<rect x="277.5" y="632.2" width="0.8" height="0.8" fill="rgb(167,167,167)"/>
<rect x="274.5" y="623.4" width="0.8" height="0.8" fill="rgb(172,172,172)"/>
<rect x="265.4" y="631.8" width="0.8" height="0.8" fill="rgb(112,112,112)"/>
<rect x="269.9" y="631.4" width="0.8" height="0.8" fill="rgb(189,189,189)"/>
<rect x="265.9" y="635.2" width="0.8" height="0.8" fill="rgb(53,53,53)"/>
<rect x="274.2" y="624.9" width="0.8" height="0.8" fill="rgb(111,111,111)"/>
<rect x="269.9" y="632.6" width="0.8" height="0.8" fill="rgb(119,119,119)"/>
<rect x="272.6" y="641.9" width="0.8" height="0.8" fill="rgb(125,125,125)"/>
<rect x="272.5" y="627.6" width="0.8" height="0.8" fill="rgb(191,191,191)"/>
<rect x="285.8" y="624.3" width="0.8" height="0.8" fill="rgb(162,162,162)"/>
<rect x="264.2" y="626.5" width="0.8" height="0.8" fill="rgb(162,162,162)"/>
<rect x="266.6" y="637.2" width="0.8" height="0.8" fill="rgb(183,183,183)"/>
<rect x="279.1" y="636.5" width="0.8" height="0.8" fill="rgb(89,89,89)"/>
<rect x="263.5" y="635.8" width="0.8" height="0.8" fill="rgb(85,85,85)"/>
<rect x="264.0" y="625.4" width="0.8" height="0.8" fill="rgb(120,120,120)"/>
<rect x="272.4" y="621.7" width="0.8" height="0.8" fill="rgb(171,171,171)"/>
<rect x="272.8" y="634.2" width="0.8" height="0.8" fill="rgb(82,82,82)"/>
<rect x="268.7" y="630.5" width="0.8" height="0.8" fill="rgb(155,155,155)"/>
<rect x="269.1" y="622.3" width="0.8" height="0.8" fill="rgb(177,177,177)"/>
<rect x="257.2" y="645.0" width="0.8" height="0.8" fill="rgb(88,88,88)"/>
<rect x="262.1" y="637.1" width="0.8" height="0.8" fill="rgb(78,78,78)"/>
<rect x="267.0" y="634.0" width="0.8" height="0.8" fill="rgb(167,167,167)"/>
<rect x="271.4" y="632.4" width="0.8" height="0.8" fill="rgb(140,140,140)"/>
<rect x="265.8" y="634.9" width="0.8" height="0.8" fill="rgb(148,148,148)"/>
<rect x="270.3" y="627.9" width="0.8" height="0.8" fill="rgb(177,177,177)"/>
<rect x="267.8" y="632.6" width="0.8" height="0.8" fill="rgb(187,187,187)"/>
<rect x="270.8" y="630.8" width="0.8" height="0.8" fill="rgb(197,197,197)"/>
<rect x="268.4" y="632.0" width="0.8" height="0.8" fill="rgb(134,134,134)"/>
<rect x="268.5" y="638.1" width="0.8" height="0.8" fill="rgb(112,112,112)"/>
<rect x="275.3" y="624.9" width="0.8" height="0.8" fill="rgb(159,159,159)"/>
<rect x="281.4" y="614.5" width="0.8" height="0.8" fill="rgb(56,56,56)"/>
<rect x="280.5" y="624.9" width="0.8" height="0.8" fill="rgb(177,177,177)"/>
<rect x="270.8" y="634.1" width="0.8" height="0.8" fill="rgb(129,129,129)"/>
<rect x="244.7" y="637.6" width="0.8" height="0.8" fill="rgb(182,182,182)"/>
<rect x="273.2" y="619.5" width="0.8" height="0.8" fill="rgb(160,160,160)"/>
<rect x="267.2" y="633.1" width="0.8" height="0.8" fill="rgb(139,139,139)"/>
<rect x="270.1" y="628.7" width="0.8" height="0.8" fill="rgb(67,67,67)"/>
<rect x="267.7" y="629.4" width="0.8" height="0.8" fill="rgb(145,145,145)"/>
<rect x="260.8" y="633.4" width="0.8" height="0.8" fill="rgb(196,196,196)"/>
<rect x="274.7" y="628.7" width="0.8" height="0.8" fill="rgb(157,157,157)"/>
<rect x="263.6" y="632.4" width="0.8" height="0.8" fill="rgb(200,200,200)"/>
<rect x="268.4" y="634.6" width="0.8" height="0.8" fill="rgb(73,73,73)"/>
<rect x="275.6" y="629.5" width="0.8" height="0.8" fill="rgb(69,69,69)"/>
<rect x="272.6" y="621.7" width="0.8" height="0.8" fill="rgb(78,78,78)"/>
<rect x="266.2" y="627.0" width="0.8" height="0.8" fill="rgb(137,137,137)"/>
<rect x="274.4" y="612.2" width="0.8" height="0.8" fill="rgb(157,157,157)"/>
<rect x="263.3" y="627.6" width="0.8" height="0.8" fill="rgb(180,180,180)"/>
<rect x="279.2" y="634.0" width="0.8" height="0.8" fill="rgb(155,155,155)"/>
<rect x="277.8" y="630.9" width="0.8" height="0.8" fill="rgb(77,77,77)"/>
<rect x="262.8" y="645.3" width="0.8" height="0.8" fill="rgb(60,60,60)"/>
<rect x="270.3" y="627.7" width="0.8" height="0.8" fill="rgb(50,50,50)"/>
<rect x="270.3" y="635.7" width="0.8" height="0.8" fill="rgb(51,51,51)"/>
<rect x="276.1" y="622.7" width="0.8" height="0.8" fill="rgb(75,75,75)"/>
<rect x="260.4" y="629.7" width="0.8" height="0.8" fill="rgb(100,100,100)"/>
<rect x="279.7" y="631.2" width="0.8" height="0.8" fill="rgb(195,195,195)"/>
<rect x="273.0" y="634.2" width="0.8" height="0.8" fill="rgb(186,186,186)"/>
<rect x="267.0" y="629.9" width="0.8" height="0.8" fill="rgb(100,100,100)"/>
<rect x="268.5" y="630.7" width="0.8" height="0.8" fill="rgb(90,90,90)"/>
<rect x="262.3" y="631.9" width="0.8" height="0.8" fill="rgb(57,57,57)"/>
<rect x="275.3" y="627.6" width="0.8" height="0.8" fill="rgb(183,183,183)"/>
<rect x="263.2" y="632.5" width="0.8" height="0.8" fill="rgb(160,160,160)"/>
<rect x="271.2" y="626.2" width="0.8" height="0.8" fill="rgb(53,53,53)"/>
<rect x="264.7" y="625.2" width="0.8" height="0.8" fill="rgb(86,86,86)"/>
<rect x="267.7" y="625.1" width="0.8" height="0.8" fill="rgb(93,93,93)"/>
<rect x="281.3" y="624.0" width="0.8" height="0.8" fill="rgb(199,199,199)"/>
<rect x="275.8" y="626.7" width="0.8" height="0.8" fill="rgb(148,148,148)"/>
<rect x="276.1" y="625.7" width="0.8" height="0.8" fill="rgb(151,151,151)"/>
<rect x="252.8" y="631.3" width="0.8" height="0.8" fill="rgb(162,162,162)"/>
<rect x="276.4" y="626.4" width="0.8" height="0.8" fill="rgb(107,107,107)"/>
<rect x="288.0" y="622.2" width="0.8" height="0.8" fill="rgb(94,94,94)"/>
<rect x="269.2" y="639.0" width="0.8" height="0.8" fill="rgb(166,166,166)"/>
<rect x="270.5" y="634.8" width="0.8" height="0.8" fill="rgb(176,176,176)"/>
<rect x="273.5" y="626.4" width="0.8" height="0.8" fill="rgb(149,149,149)"/>
<rect x="264.2" y="625.6" width="0.8" height="0.8" fill="rgb(155,155,155)"/>
<rect x="269.8" y="638.3" width="0.8" height="0.8" fill="rgb(174,174,174)"/>
<rect x="285.7" y="621.6" width="0.8" height="0.8" fill="rgb(72,72,72)"/>
<rect x="275.8" y="629.7" width="0.8" height="0.8" fill="rgb(97,97,97)"/>
<rect x="285.8" y="620.6" width="0.8" height="0.8" fill="rgb(151,151,151)"/>
<rect x="267.4" y="629.0" width="0.8" height="0.8" fill="rgb(186,186,186)"/>
<rect x="274.0" y="623.1" width="0.8" height="0.8" fill="rgb(66,66,66)"/>
<rect x="277.6" y="623.2" width="0.8" height="0.8" fill="rgb(139,139,139)"/>
<rect x="263.7" y="630.2" width="0.8" height="0.8" fill="rgb(169,169,169)"/>
<rect x="271.4" y="631.4" width="0.8" height="0.8" fill="rgb(58,58,58)"/>
<rect x="271.2" y="629.0" width="0.8" height="0.8" fill="rgb(89,89,89)"/>
<rect x="272.3" y="630.0" width="0.8" height="0.8" fill="rgb(100,100,100)"/>
<rect x="273.3" y="636.4" width="0.8" height="0.8" fill="rgb(82,82,82)"/>
<rect x="262.7" y="630.5" width="0.8" height="0.8" fill="rgb(111,111,111)"/>
<rect x="276.2" y="629.2" width="0.8" height="0.8" fill="rgb(153,153,153)"/>
<rect x="262.0" y="641.8" width="0.8" height="0.8" fill="rgb(103,103,103)"/>
<rect x="270.9" y="633.6" width="0.8" height="0.8" fill="rgb(102,102,102)"/>
<rect x="274.4" y="631.7" width="0.8" height="0.8" fill="rgb(83,83,83)"/>
<rect x="291.6" y="610.7" width="0.8" height="0.8" fill="rgb(162,162,162)"/>
<rect x="264.2" y="629.1" width="0.8" height="0.8" fill="rgb(113,113,113)"/>
<rect x="265.5" y="634.4" width="0.8" height="0.8" fill="rgb(82,82,82)"/>
<rect x="272.7" y="625.2" width="0.8" height="0.8" fill="rgb(181,181,181)"/>
<rect x="284.8" y="626.1" width="0.8" height="0.8" fill="rgb(148,148,148)"/>
<rect x="282.7" y="623.3" width="0.8" height="0.8" fill="rgb(87,87,87)"/>
<rect x="270.3" y="633.1" width="0.8" height="0.8" fill="rgb(72,72,72)"/>
<rect x="263.4" y="623.8" width="0.8" height="0.8" fill="rgb(109,109,109)"/>
<rect x="269.3" y="635.7" width="0.8" height="0.8" fill="rgb(77,77,77)"/>
<rect x="287.2" y="624.1" width="0.8" height="0.8" fill="rgb(178,178,178)"/>
<rect x="269.9" y="625.3" width="0.8" height="0.8" fill="rgb(129,129,129)"/>
<rect x="276.9" y="627.1" width="0.8" height="0.8" fill="rgb(152,152,152)"/>
<rect x="271.7" y="632.7" width="0.8" height="0.8" fill="rgb(168,168,168)"/>
<rect x="269.0" y="618.7" width="0.8" height="0.8" fill="rgb(83,83,83)"/>
<rect x="274.5" y="624.9" width="0.8" height="0.8" fill="rgb(143,143,143)"/>
<rect x="263.7" y="625.1" width="0.8" height="0.8" fill="rgb(139,139,139)"/>
<rect x="272.0" y="626.8" width="0.8" height="0.8" fill="rgb(168,168,168)"/>
<rect x="275.2" y="635.6" width="0.8" height="0.8" fill="rgb(140,140,140)"/>
<rect x="273.1" y="625.6" width="0.8" height="0.8" fill="rgb(124,124,124)"/>
<rect x="285.8" y="627.6" width="0.8" height="0.8" fill="rgb(106,106,106)"/>
<rect x="269.9" y="627.1" width="0.8" height="0.8" fill="rgb(60,60,60)"/>
<rect x="263.8" y="628.4" width="0.8" height="0.8" fill="rgb(127,127,127)"/>
<rect x="280.3" y="630.0" width="0.8" height="0.8" fill="rgb(191,191,191)"/>
<rect x="270.0" y="635.3" width="0.8" height="0.8" fill="rgb(95,95,95)"/>
<rect x="265.7" y="629.4" width="0.8" height="0.8" fill="rgb(177,177,177)"/>
<rect x="268.3" y="625.6" width="0.8" height="0.8" fill="rgb(161,161,161)"/>
<rect x="264.1" y="625.8" width="0.8" height="0.8" fill="rgb(50,50,50)"/>
<rect x="282.5" y="627.5" width="0.8" height="0.8" fill="rgb(123,123,123)"/>
<rect x="280.2" y="617.1" width="0.8" height="0.8" fill="rgb(199,199,199)"/>
<rect x="268.9" y="628.1" width="0.8" height="0.8" fill="rgb(112,112,112)"/>
<rect x="269.7" y="627.4" width="0.8" height="0.8" fill="rgb(131,131,131)"/>
<rect x="279.4" y="634.5" width="0.8" height="0.8" fill="rgb(72,72,72)"/>
<rect x="262.6" y="636.6" width="0.8" height="0.8" fill="rgb(106,106,106)"/>
<rect x="271.3" y="630.0" width="0.8" height="0.8" fill="rgb(158,158,158)"/>
<rect x="265.7" y="632.5" width="0.8" height="0.8" fill="rgb(178,178,178)"/>
<rect x="266.1" y="621.0" width="0.8" height="0.8" fill="rgb(165,165,165)"/>
<rect x="260.2" y="633.3" width="0.8" height="0.8" fill="rgb(102,102,102)"/>
<rect x="264.5" y="634.1" width="0.8" height="0.8" fill="rgb(82,82,82)"/>
<rect x="266.5" y="630.6" width="0.8" height="0.8" fill="rgb(193,193,193)"/>
<rect x="273.0" y="633.3" width="0.8" height="0.8" fill="rgb(110,110,110)"/>
<rect x="265.4" y="629.9" width="0.8" height="0.8" fill="rgb(65,65,65)"/>
<rect x="275.9" y="629.5" width="0.8" height="0.8" fill="rgb(73,73,73)"/>
<rect x="274.6" y="630.3" width="0.8" height="0.8" fill="rgb(84,84,84)"/>
<rect x="265.6" y="625.5" width="0.8" height="0.8" fill="rgb(173,173,173)"/>
<rect x="273.0" y="630.7" width="0.8" height="0.8" fill="rgb(181,181,181)"/>
<rect x="268.6" y="626.7" width="0.8" height="0.8" fill="rgb(139,139,139)"/>
<rect x="268.7" y="626.6" width="0.8" height="0.8" fill="rgb(86,86,86)"/>
<rect x="265.7" y="628.8" width="0.8" height="0.8" fill="rgb(80,80,80)"/>
<rect x="258.5" y="632.1" width="0.8" height="0.8" fill="rgb(93,93,93)"/>
<rect x="268.1" y="626.9" width="0.8" height="0.8" fill="rgb(168,168,168)"/>
<rect x="273.0" y="622.5" width="0.8" height="0.8" fill="rgb(102,102,102)"/>
<rect x="276.5" y="627.8" width="0.8" height="0.8" fill="rgb(142,142,142)"/>
<rect x="269.0" y="629.2" width="0.8" height="0.8" fill="rgb(121,121,121)"/>
<rect x="270.8" y="630.4" width="0.8" height="0.8" fill="rgb(129,129,129)"/>
<rect x="268.1" y="630.4" width="0.8" height="0.8" fill="rgb(133,133,133)"/>
<rect x="263.3" y="634.3" width="0.8" height="0.8" fill="rgb(124,124,124)"/>
<rect x="273.1" y="628.6" width="0.8" height="0.8" fill="rgb(52,52,52)"/>
<rect x="252.8" y="640.5" width="0.8" height="0.8" fill="rgb(174,174,174)"/>
<rect x="282.4" y="626.0" width="0.8" height="0.8" fill="rgb(194,194,194)"/>
<rect x="273.1" y="634.2" width="0.8" height="0.8" fill="rgb(161,161,161)"/>
<rect x="258.9" y="635.1" width="0.8" height="0.8" fill="rgb(132,132,132)"/>
<rect x="287.1" y="620.0" width="0.8" height="0.8" fill="rgb(123,123,123)"/>
<rect x="256.0" y="627.4" width="0.8" height="0.8" fill="rgb(114,114,114)"/>
<rect x="268.7" y="627.6" width="0.8" height="0.8" fill="rgb(57,57,57)"/>
<rect x="278.3" y="624.9" width="0.8" height="0.8" fill="rgb(87,87,87)"/>
<rect x="271.0" y="631.1" width="0.8" height="0.8" fill="rgb(184,184,184)"/>
<rect x="276.2" y="615.7" width="0.8" height="0.8" fill="rgb(93,93,93)"/>
<rect x="282.0" y="627.0" width="0.8" height="0.8" fill="rgb(129,129,129)"/>
<rect x="268.8" y="624.6" width="0.8" height="0.8" fill="rgb(97,97,97)"/>
<rect x="265.4" y="627.1" width="0.8" height="0.8" fill="rgb(108,108,108)"/>
<rect x="266.9" y="634.9" width="0.8" height="0.8" fill="rgb(144,144,144)"/>
<rect x="272.5" y="623.9" width="0.8" height="0.8" fill="rgb(64,64,64)"/>
<rect x="280.5" y="624.6" width="0.8" height="0.8" fill="rgb(153,153,153)"/>
<rect x="282.2" y="615.1" width="0.8" height="0.8" fill="rgb(176,176,176)"/>
<rect x="262.5" y="636.4" width="0.8" height="0.8" fill="rgb(126,126,126)"/>
<rect x="276.6" y="620.0" width="0.8" height="0.8" fill="rgb(58,58,58)"/>
<rect x="279.3" y="621.1" width="0.8" height="0.8" fill="rgb(96,96,96)"/>
<rect x="278.0" y="620.3" width="0.8" height="0.8" fill="rgb(45,45,45)"/>
<rect x="282.0" y="619.8" width="0.8" height="0.8" fill="rgb(67,67,67)"/>
<rect x="280.0" y="622.7" width="0.8" height="0.8" fill="rgb(147,147,147)"/>
<rect x="275.6" y="618.8" width="0.8" height="0.8" fill="rgb(105,105,105)"/>
<rect x="277.8" y="624.3" width="0.8" height="0.8" fill="rgb(124,124,124)"/>
<rect x="284.4" y="624.9" width="0.8" height="0.8" fill="rgb(153,153,153)"/>
<rect x="278.3" y="626.2" width="0.8" height="0.8" fill="rgb(125,125,125)"/>
<rect x="281.8" y="622.4" width="0.8" height="0.8" fill="rgb(132,132,132)"/>
<rect x="281.3" y="625.5" width="0.8" height="0.8" fill="rgb(96,96,96)"/>
<rect x="281.5" y="618.1" width="0.8" height="0.8" fill="rgb(112,112,112)"/>
<rect x="280.4" y="624.4" width="0.8" height="0.8" fill="rgb(81,81,81)"/>
<rect x="276.8" y="622.6" width="0.8" height="0.8" fill="rgb(108,108,108)"/>
<rect x="285.0" y="619.2" width="0.8" height="0.8" fill="rgb(91,91,91)"/>
<rect x="284.1" y="621.8" width="0.8" height="0.8" fill="rgb(143,143,143)"/>
<rect x="281.8" y="617.8" width="0.8" height="0.8" fill="rgb(82,82,82)"/>
<rect x="278.1" y="621.1" width="0.8" height="0.8" fill="rgb(113,113,113)"/>
<rect x="277.5" y="624.6" width="0.8" height="0.8" fill="rgb(124,124,124)"/>
<rect x="278.5" y="620.6" width="0.8" height="0.8" fill="rgb(83,83,83)"/>
<rect x="275.8" y="622.1" width="0.8" height="0.8" fill="rgb(148,148,148)"/>
<rect x="281.7" y="627.9" width="0.8" height="0.8" fill="rgb(97,97,97)"/>
<rect x="279.4" y="621.2" width="0.8" height="0.8" fill="rgb(114,114,114)"/>
<rect x="277.3" y="626.3" width="0.8" height="0.8" fill="rgb(93,93,93)"/>
<rect x="278.6" y="625.0" width="0.8" height="0.8" fill="rgb(96,96,96)"/>
<rect x="278.8" y="624.0" width="0.8" height="0.8" fill="rgb(63,63,63)"/>
<rect x="282.0" y="622.5" width="0.8" height="0.8" fill="rgb(135,135,135)"/>
<rect x="284.5" y="627.5" width="0.8" height="0.8" fill="rgb(72,72,72)"/>
<rect x="278.9" y="621.2" width="0.8" height="0.8" fill="rgb(125,125,125)"/>
<rect x="280.0" y="627.1" width="0.8" height="0.8" fill="rgb(110,110,110)"/>
<rect x="276.4" y="624.1" width="0.8" height="0.8" fill="rgb(129,129,129)"/>
<rect x="282.7" y="625.7" width="0.8" height="0.8" fill="rgb(115,115,115)"/>
<rect x="274.7" y="620.2" width="0.8" height="0.8" fill="rgb(126,126,126)"/>
<rect x="282.9" y="624.7" width="0.8" height="0.8" fill="rgb(150,150,150)"/>
<rect x="276.4" y="622.9" width="0.8" height="0.8" fill="rgb(147,147,147)"/>
<rect x="280.1" y="621.3" width="0.8" height="0.8" fill="rgb(132,132,132)"/>
<rect x="276.7" y="622.6" width="0.8" height="0.8" fill="rgb(127,127,127)"/>
<rect x="278.6" y="624.3" width="0.8" height="0.8" fill="rgb(64,64,64)"/>
<rect x="275.2" y="620.7" width="0.8" height="0.8" fill="rgb(57,57,57)"/>
<rect x="277.1" y="626.5" width="0.8" height="0.8" fill="rgb(91,91,91)"/>
<rect x="280.2" y="626.4" width="0.8" height="0.8" fill="rgb(41,41,41)"/>
<rect x="277.8" y="614.7" width="0.8" height="0.8" fill="rgb(98,98,98)"/>
<rect x="278.5" y="628.2" width="0.8" height="0.8" fill="rgb(94,94,94)"/>
<rect x="281.1" y="622.2" width="0.8" height="0.8" fill="rgb(151,151,151)"/>
<rect x="280.4" y="624.6" width="0.8" height="0.8" fill="rgb(133,133,133)"/>
<rect x="281.3" y="621.5" width="0.8" height="0.8" fill="rgb(135,135,135)"/>
<rect x="282.9" y="617.7" width="0.8" height="0.8" fill="rgb(134,134,134)"/>
<rect x="277.6" y="617.1" width="0.8" height="0.8" fill="rgb(55,55,55)"/>
<rect x="280.2" y="627.2" width="0.8" height="0.8" fill="rgb(107,107,107)"/>
<rect x="284.5" y="621.2" width="0.8" height="0.8" fill="rgb(45,45,45)"/>
<rect x="281.1" y="620.0" width="0.8" height="0.8" fill="rgb(85,85,85)"/>
<rect x="274.8" y="621.1" width="0.8" height="0.8" fill="rgb(54,54,54)"/>
<rect x="286.4" y="624.6" width="0.8" height="0.8" fill="rgb(71,71,71)"/>
<rect x="279.9" y="625.3" width="0.8" height="0.8" fill="rgb(97,97,97)"/>
<rect x="288.9" y="624.4" width="0.8" height="0.8" fill="rgb(96,96,96)"/>
<rect x="280.5" y="623.5" width="0.8" height="0.8" fill="rgb(54,54,54)"/>
<rect x="282.1" y="624.2" width="0.8" height="0.8" fill="rgb(59,59,59)"/>
<rect x="277.7" y="622.0" width="0.8" height="0.8" fill="rgb(127,127,127)"/>
<rect x="277.2" y="617.2" width="0.8" height="0.8" fill="rgb(115,115,115)"/>
<rect x="282.6" y="619.9" width="0.8" height="0.8" fill="rgb(128,128,128)"/>
</g>
<g clip-path="url(#c2)">
<ellipse cx="323.5" cy="607" rx="4.5" ry="5.5" fill="#444" opacity="0.85" transform="rotate(0 323.5 607)" filter="url(#b2)"/>
<ellipse cx="324" cy="613" rx="5" ry="4" fill="#999" opacity="0.7" transform="rotate(0 324 613)" filter="url(#b1)"/>
<ellipse cx="324" cy="622" rx="3" ry="5" fill="#888" opacity="0.8" transform="rotate(0 324 622)" filter="url(#b2)"/>
<ellipse cx="324.5" cy="634" rx="2.2" ry="8" fill="#999" opacity="0.8" transform="rotate(0 324.5 634)" filter="url(#b2)"/>
<ellipse cx="339.5" cy="621" rx="2.5" ry="2.5" fill="#999" opacity="0.8" transform="rotate(0 339.5 621)" filter="url(#b2)"/>
<ellipse cx="332" cy="618" rx="4" ry="2" fill="#bbb" opacity="0.6" transform="rotate(0 332 618)" filter="url(#b1)"/>
<rect x="323.7" y="604.4" width="0.8" height="0.8" fill="rgb(153,153,153)"/>
<rect x="326.7" y="608.4" width="0.8" height="0.8" fill="rgb(78,78,78)"/>
<rect x="319.5" y="608.4" width="0.8" height="0.8" fill="rgb(48,48,48)"/>
<rect x="323.8" y="606.9" width="0.8" height="0.8" fill="rgb(86,86,86)"/>
<rect x="319.8" y="603.6" width="0.8" height="0.8" fill="rgb(140,140,140)"/>
<rect x="328.6" y="598.2" width="0.8" height="0.8" fill="rgb(154,154,154)"/>
<rect x="317.9" y="613.7" width="0.8" height="0.8" fill="rgb(59,59,59)"/>
<rect x="320.7" y="612.2" width="0.8" height="0.8" fill="rgb(119,119,119)"/>
<rect x="327.2" y="604.3" width="0.8" height="0.8" fill="rgb(51,51,51)"/>
<rect x="325.1" y="616.1" width="0.8" height="0.8" fill="rgb(159,159,159)"/>
<rect x="321.6" y="612.4" width="0.8" height="0.8" fill="rgb(130,130,130)"/>
<rect x="322.3" y="611.7" width="0.8" height="0.8" fill="rgb(163,163,163)"/>
<rect x="323.1" y="608.8" width="0.8" height="0.8" fill="rgb(157,157,157)"/>
<rect x="326.9" y="603.7" width="0.8" height="0.8" fill="rgb(77,77,77)"/>
<rect x="323.2" y="605.5" width="0.8" height="0.8" fill="rgb(138,138,138)"/>
<rect x="322.9" y="613.2" width="0.8" height="0.8" fill="rgb(107,107,107)"/>
<rect x="320.7" y="612.6" width="0.8" height="0.8" fill="rgb(75,75,75)"/>
<rect x="324.4" y="607.9" width="0.8" height="0.8" fill="rgb(64,64,64)"/>
<rect x="327.7" y="602.4" width="0.8" height="0.8" fill="rgb(65,65,65)"/>
<rect x="321.6" y="610.8" width="0.8" height="0.8" fill="rgb(100,100,100)"/>
<rect x="329.3" y="600.4" width="0.8" height="0.8" fill="rgb(58,58,58)"/>
<rect x="321.5" y="615.2" width="0.8" height="0.8" fill="rgb(132,132,132)"/>
<rect x="318.5" y="607.6" width="0.8" height="0.8" fill="rgb(129,129,129)"/>
<rect x="327.4" y="602.9" width="0.8" height="0.8" fill="rgb(125,125,125)"/>
<rect x="326.4" y="609.5" width="0.8" height="0.8" fill="rgb(122,122,122)"/>
<rect x="328.1" y="602.8" width="0.8" height="0.8" fill="rgb(168,168,168)"/>
<rect x="321.7" y="610.5" width="0.8" height="0.8" fill="rgb(100,100,100)"/>
<rect x="325.5" y="607.9" width="0.8" height="0.8" fill="rgb(92,92,92)"/>
<rect x="330.6" y="608.4" width="0.8" height="0.8" fill="rgb(156,156,156)"/>
<rect x="320.6" y="610.5" width="0.8" height="0.8" fill="rgb(117,117,117)"/>
<rect x="327.7" y="605.4" width="0.8" height="0.8" fill="rgb(76,76,76)"/>
<rect x="322.5" y="611.7" width="0.8" height="0.8" fill="rgb(127,127,127)"/>
<rect x="325.5" y="609.3" width="0.8" height="0.8" fill="rgb(60,60,60)"/>
<rect x="320.9" y="606.1" width="0.8" height="0.8" fill="rgb(130,130,130)"/>
<rect x="326.8" y="607.7" width="0.8" height="0.8" fill="rgb(149,149,149)"/>
<rect x="322.1" y="598.0" width="0.8" height="0.8" fill="rgb(164,164,164)"/>
<rect x="322.6" y="610.5" width="0.8" height="0.8" fill="rgb(105,105,105)"/>
<rect x="317.8" y="605.8" width="0.8" height="0.8" fill="rgb(108,108,108)"/>
<rect x="323.6" y="608.9" width="0.8" height="0.8" fill="rgb(52,52,52)"/>
<rect x="321.6" y="609.8" width="0.8" height="0.8" fill="rgb(112,112,112)"/>
<rect x="326.8" y="603.1" width="0.8" height="0.8" fill="rgb(90,90,90)"/>
<rect x="323.6" y="609.5" width="0.8" height="0.8" fill="rgb(73,73,73)"/>
<rect x="322.4" y="606.9" width="0.8" height="0.8" fill="rgb(127,127,127)"/>
<rect x="323.4" y="607.6" width="0.8" height="0.8" fill="rgb(109,109,109)"/>
<rect x="316.5" y="605.9" width="0.8" height="0.8" fill="rgb(122,122,122)"/>
<rect x="325.6" y="606.6" width="0.8" height="0.8" fill="rgb(123,123,123)"/>
<rect x="324.1" y="607.2" width="0.8" height="0.8" fill="rgb(164,164,164)"/>
<rect x="319.1" y="611.8" width="0.8" height="0.8" fill="rgb(126,126,126)"/>
<rect x="326.7" y="616.0" width="0.8" height="0.8" fill="rgb(51,51,51)"/>
<rect x="327.6" y="611.2" width="0.8" height="0.8" fill="rgb(166,166,166)"/>
<rect x="327.0" y="607.7" width="0.8" height="0.8" fill="rgb(158,158,158)"/>
<rect x="324.1" y="607.3" width="0.8" height="0.8" fill="rgb(121,121,121)"/>
<rect x="314.0" y="602.8" width="0.8" height="0.8" fill="rgb(54,54,54)"/>
<rect x="318.8" y="611.6" width="0.8" height="0.8" fill="rgb(124,124,124)"/>
<rect x="323.9" y="608.7" width="0.8" height="0.8" fill="rgb(93,93,93)"/>
<rect x="327.2" y="614.0" width="0.8" height="0.8" fill="rgb(63,63,63)"/>
<rect x="321.4" y="611.3" width="0.8" height="0.8" fill="rgb(128,128,128)"/>
<rect x="319.0" y="606.6" width="0.8" height="0.8" fill="rgb(79,79,79)"/>
<rect x="320.9" y="602.9" width="0.8" height="0.8" fill="rgb(124,124,124)"/>
<rect x="324.1" y="614.2" width="0.8" height="0.8" fill="rgb(162,162,162)"/>
<rect x="324.0" y="600.2" width="0.8" height="0.8" fill="rgb(119,119,119)"/>
<rect x="320.9" y="603.4" width="0.8" height="0.8" fill="rgb(156,156,156)"/>
<rect x="320.4" y="606.4" width="0.8" height="0.8" fill="rgb(110,110,110)"/>
<rect x="323.8" y="608.4" width="0.8" height="0.8" fill="rgb(161,161,161)"/>
<rect x="328.7" y="612.8" width="0.8" height="0.8" fill="rgb(132,132,132)"/>
<rect x="326.4" y="613.1" width="0.8" height="0.8" fill="rgb(142,142,142)"/>
<rect x="323.6" y="606.0" width="0.8" height="0.8" fill="rgb(47,47,47)"/>
<rect x="322.2" y="606.4" width="0.8" height="0.8" fill="rgb(168,168,168)"/>
<rect x="325.2" y="615.5" width="0.8" height="0.8" fill="rgb(106,106,106)"/>
<rect x="326.6" y="606.4" width="0.8" height="0.8" fill="rgb(78,78,78)"/>
<rect x="329.3" y="602.8" width="0.8" height="0.8" fill="rgb(81,81,81)"/>
<rect x="320.3" y="607.3" width="0.8" height="0.8" fill="rgb(102,102,102)"/>
<rect x="317.0" y="611.2" width="0.8" height="0.8" fill="rgb(94,94,94)"/>
<rect x="321.4" y="604.9" width="0.8" height="0.8" fill="rgb(139,139,139)"/>
<rect x="320.5" y="609.0" width="0.8" height="0.8" fill="rgb(46,46,46)"/>
<rect x="327.9" y="612.6" width="0.8" height="0.8" fill="rgb(56,56,56)"/>
<rect x="326.2" y="598.7" width="0.8" height="0.8" fill="rgb(129,129,129)"/>
<rect x="327.7" y="610.1" width="0.8" height="0.8" fill="rgb(144,144,144)"/>
<rect x="326.3" y="605.6" width="0.8" height="0.8" fill="rgb(97,97,97)"/>
<rect x="324.2" y="608.2" width="0.8" height="0.8" fill="rgb(151,151,151)"/>
<rect x="323.7" y="612.2" width="0.8" height="0.8" fill="rgb(123,123,123)"/>
<rect x="323.8" y="601.6" width="0.8" height="0.8" fill="rgb(116,116,116)"/>
<rect x="326.5" y="604.4" width="0.8" height="0.8" fill="rgb(80,80,80)"/>
<rect x="315.4" y="609.5" width="0.8" height="0.8" fill="rgb(108,108,108)"/>
<rect x="325.3" y="607.3" width="0.8" height="0.8" fill="rgb(116,116,116)"/>
<rect x="322.9" y="612.0" width="0.8" height="0.8" fill="rgb(164,164,164)"/>
<rect x="325.3" y="605.5" width="0.8" height="0.8" fill="rgb(121,121,121)"/>
<rect x="321.6" y="602.5" width="0.8" height="0.8" fill="rgb(155,155,155)"/>
<rect x="323.8" y="609.4" width="0.8" height="0.8" fill="rgb(93,93,93)"/>
<rect x="326.9" y="602.1" width="0.8" height="0.8" fill="rgb(51,51,51)"/>
<rect x="324.8" y="599.2" width="0.8" height="0.8" fill="rgb(86,86,86)"/>
<rect x="321.7" y="609.0" width="0.8" height="0.8" fill="rgb(116,116,116)"/>
<rect x="321.0" y="600.5" width="0.8" height="0.8" fill="rgb(78,78,78)"/>
<rect x="324.0" y="607.9" width="0.8" height="0.8" fill="rgb(117,117,117)"/>
<rect x="326.8" y="614.0" width="0.8" height="0.8" fill="rgb(64,64,64)"/>
<rect x="323.5" y="603.0" width="0.8" height="0.8" fill="rgb(141,141,141)"/>
<rect x="326.2" y="610.2" width="0.8" height="0.8" fill="rgb(141,141,141)"/>
<rect x="330.7" y="599.5" width="0.8" height="0.8" fill="rgb(48,48,48)"/>
<rect x="321.5" y="606.5" width="0.8" height="0.8" fill="rgb(43,43,43)"/>
<rect x="327.5" y="609.3" width="0.8" height="0.8" fill="rgb(99,99,99)"/>
<rect x="318.7" y="604.8" width="0.8" height="0.8" fill="rgb(45,45,45)"/>
<rect x="330.6" y="610.9" width="0.8" height="0.8" fill="rgb(56,56,56)"/>
<rect x="324.8" y="606.4" width="0.8" height="0.8" fill="rgb(164,164,164)"/>
<rect x="327.7" y="607.0" width="0.8" height="0.8" fill="rgb(40,40,40)"/>
<rect x="325.8" y="614.2" width="0.8" height="0.8" fill="rgb(77,77,77)"/>
<rect x="320.6" y="603.8" width="0.8" height="0.8" fill="rgb(68,68,68)"/>
<rect x="316.9" y="606.4" width="0.8" height="0.8" fill="rgb(59,59,59)"/>
<rect x="322.1" y="610.5" width="0.8" height="0.8" fill="rgb(97,97,97)"/>
<rect x="323.2" y="604.4" width="0.8" height="0.8" fill="rgb(85,85,85)"/>
<rect x="326.3" y="608.3" width="0.8" height="0.8" fill="rgb(51,51,51)"/>
<rect x="323.9" y="609.3" width="0.8" height="0.8" fill="rgb(132,132,132)"/>
<rect x="323.2" y="612.0" width="0.8" height="0.8" fill="rgb(50,50,50)"/>
<rect x="321.0" y="603.4" width="0.8" height="0.8" fill="rgb(124,124,124)"/>
<rect x="319.9" y="596.1" width="0.8" height="0.8" fill="rgb(108,108,108)"/>
<rect x="321.0" y="610.3" width="0.8" height="0.8" fill="rgb(147,147,147)"/>
<rect x="322.0" y="609.7" width="0.8" height="0.8" fill="rgb(138,138,138)"/>
<rect x="328.1" y="602.5" width="0.8" height="0.8" fill="rgb(41,41,41)"/>
<rect x="323.8" y="613.3" width="0.8" height="0.8" fill="rgb(105,105,105)"/>
<rect x="321.5" y="601.2" width="0.8" height="0.8" fill="rgb(101,101,101)"/>
<rect x="325.9" y="602.1" width="0.8" height="0.8" fill="rgb(62,62,62)"/>
<rect x="326.9" y="601.4" width="0.8" height="0.8" fill="rgb(52,52,52)"/>
<rect x="319.8" y="611.2" width="0.8" height="0.8" fill="rgb(153,153,153)"/>
<rect x="320.6" y="606.8" width="0.8" height="0.8" fill="rgb(40,40,40)"/>
<rect x="318.5" y="609.1" width="0.8" height="0.8" fill="rgb(160,160,160)"/>
<rect x="318.8" y="607.6" width="0.8" height="0.8" fill="rgb(137,137,137)"/>
<rect x="324.0" y="614.3" width="0.8" height="0.8" fill="rgb(136,136,136)"/>
<rect x="322.7" y="609.3" width="0.8" height="0.8" fill="rgb(108,108,108)"/>
<rect x="319.5" y="603.6" width="0.8" height="0.8" fill="rgb(122,122,122)"/>
<rect x="329.1" y="611.5" width="0.8" height="0.8" fill="rgb(97,97,97)"/>
<rect x="328.8" y="604.5" width="0.8" height="0.8" fill="rgb(107,107,107)"/>
<rect x="326.8" y="605.2" width="0.8" height="0.8" fill="rgb(129,129,129)"/>
<rect x="319.6" y="607.3" width="0.8" height="0.8" fill="rgb(96,96,96)"/>
<rect x="324.8" y="608.0" width="0.8" height="0.8" fill="rgb(133,133,133)"/>
<rect x="319.3" y="607.2" width="0.8" height="0.8" fill="rgb(133,133,133)"/>
<rect x="323.7" y="610.8" width="0.8" height="0.8" fill="rgb(157,157,157)"/>
<rect x="327.2" y="617.8" width="0.8" height="0.8" fill="rgb(51,51,51)"/>
<rect x="322.1" y="611.8" width="0.8" height="0.8" fill="rgb(149,149,149)"/>
<rect x="324.9" y="609.8" width="0.8" height="0.8" fill="rgb(104,104,104)"/>
<rect x="321.1" y="611.0" width="0.8" height="0.8" fill="rgb(117,117,117)"/>
<rect x="322.1" y="608.6" width="0.8" height="0.8" fill="rgb(141,141,141)"/>
<rect x="322.5" y="612.7" width="0.8" height="0.8" fill="rgb(68,68,68)"/>
<rect x="319.7" y="609.6" width="0.8" height="0.8" fill="rgb(84,84,84)"/>
<rect x="323.6" y="605.4" width="0.8" height="0.8" fill="rgb(73,73,73)"/>
<rect x="320.7" y="612.0" width="0.8" height="0.8" fill="rgb(100,100,100)"/>
<rect x="320.4" y="604.2" width="0.8" height="0.8" fill="rgb(137,137,137)"/>
<rect x="323.4" y="613.7" width="0.8" height="0.8" fill="rgb(40,40,40)"/>
<rect x="322.4" y="607.3" width="0.8" height="0.8" fill="rgb(85,85,85)"/>
<rect x="322.0" y="613.3" width="0.8" height="0.8" fill="rgb(122,122,122)"/>
<rect x="323.4" y="611.5" width="0.8" height="0.8" fill="rgb(152,152,152)"/>
<rect x="327.7" y="611.5" width="0.8" height="0.8" fill="rgb(62,62,62)"/>
<rect x="324.8" y="635.0" width="0.8" height="0.8" fill="rgb(144,144,144)"/>
<rect x="322.2" y="620.1" width="0.8" height="0.8" fill="rgb(81,81,81)"/>
<rect x="323.5" y="617.4" width="0.8" height="0.8" fill="rgb(80,80,80)"/>
<rect x="323.5" y="618.7" width="0.8" height="0.8" fill="rgb(174,174,174)"/>
<rect x="320.9" y="631.2" width="0.8" height="0.8" fill="rgb(135,135,135)"/>
<rect x="322.5" y="633.1" width="0.8" height="0.8" fill="rgb(103,103,103)"/>
<rect x="325.5" y="623.3" width="0.8" height="0.8" fill="rgb(165,165,165)"/>
<rect x="325.6" y="628.4" width="0.8" height="0.8" fill="rgb(88,88,88)"/>
<rect x="326.4" y="630.7" width="0.8" height="0.8" fill="rgb(170,170,170)"/>
<rect x="321.1" y="624.3" width="0.8" height="0.8" fill="rgb(76,76,76)"/>
<rect x="326.5" y="633.3" width="0.8" height="0.8" fill="rgb(188,188,188)"/>
<rect x="323.2" y="616.8" width="0.8" height="0.8" fill="rgb(191,191,191)"/>
<rect x="324.4" y="629.0" width="0.8" height="0.8" fill="rgb(171,171,171)"/>
<rect x="321.0" y="626.6" width="0.8" height="0.8" fill="rgb(72,72,72)"/>
<rect x="322.0" y="613.0" width="0.8" height="0.8" fill="rgb(172,172,172)"/>
<rect x="318.5" y="620.7" width="0.8" height="0.8" fill="rgb(145,145,145)"/>
<rect x="320.0" y="620.9" width="0.8" height="0.8" fill="rgb(187,187,187)"/>
<rect x="325.3" y="630.3" width="0.8" height="0.8" fill="rgb(89,89,89)"/>
<rect x="323.6" y="625.3" width="0.8" height="0.8" fill="rgb(197,197,197)"/>
<rect x="327.6" y="633.9" width="0.8" height="0.8" fill="rgb(186,186,186)"/>
<rect x="327.6" y="630.6" width="0.8" height="0.8" fill="rgb(155,155,155)"/>
<rect x="323.2" y="626.3" width="0.8" height="0.8" fill="rgb(176,176,176)"/>
<rect x="324.8" y="621.9" width="0.8" height="0.8" fill="rgb(174,174,174)"/>
<rect x="326.1" y="609.3" width="0.8" height="0.8" fill="rgb(107,107,107)"/>
<rect x="323.3" y="631.3" width="0.8" height="0.8" fill="rgb(71,71,71)"/>
<rect x="325.2" y="636.3" width="0.8" height="0.8" fill="rgb(137,137,137)"/>
<rect x="326.1" y="630.6" width="0.8" height="0.8" fill="rgb(146,146,146)"/>
<rect x="321.2" y="622.3" width="0.8" height="0.8" fill="rgb(177,177,177)"/>
<rect x="323.1" y="619.0" width="0.8" height="0.8" fill="rgb(133,133,133)"/>
<rect x="327.0" y="614.0" width="0.8" height="0.8" fill="rgb(135,135,135)"/>
<rect x="323.6" y="630.5" width="0.8" height="0.8" fill="rgb(123,123,123)"/>
<rect x="321.6" y="624.0" width="0.8" height="0.8" fill="rgb(188,188,188)"/>
<rect x="321.8" y="614.2" width="0.8" height="0.8" fill="rgb(106,106,106)"/>
<rect x="321.0" y="638.1" width="0.8" height="0.8" fill="rgb(121,121,121)"/>
<rect x="320.2" y="629.8" width="0.8" height="0.8" fill="rgb(83,83,83)"/>
<rect x="324.0" y="624.8" width="0.8" height="0.8" fill="rgb(87,87,87)"/>
<rect x="321.3" y="632.3" width="0.8" height="0.8" fill="rgb(152,152,152)"/>
<rect x="325.7" y="627.4" width="0.8" height="0.8" fill="rgb(182,182,182)"/>
<rect x="323.0" y="639.7" width="0.8" height="0.8" fill="rgb(186,186,186)"/>
<rect x="320.7" y="634.1" width="0.8" height="0.8" fill="rgb(122,122,122)"/>
<rect x="324.6" y="623.8" width="0.8" height="0.8" fill="rgb(181,181,181)"/>
<rect x="324.8" y="622.4" width="0.8" height="0.8" fill="rgb(105,105,105)"/>
<rect x="324.6" y="623.4" width="0.8" height="0.8" fill="rgb(197,197,197)"/>
<rect x="326.4" y="644.4" width="0.8" height="0.8" fill="rgb(112,112,112)"/>
<rect x="320.3" y="626.2" width="0.8" height="0.8" fill="rgb(145,145,145)"/>
<rect x="325.0" y="615.5" width="0.8" height="0.8" fill="rgb(110,110,110)"/>
<rect x="327.4" y="642.0" width="0.8" height="0.8" fill="rgb(122,122,122)"/>
<rect x="321.2" y="625.0" width="0.8" height="0.8" fill="rgb(121,121,121)"/>
<rect x="325.3" y="604.4" width="0.8" height="0.8" fill="rgb(176,176,176)"/>
<rect x="324.8" y="642.8" width="0.8" height="0.8" fill="rgb(183,183,183)"/>
<rect x="323.4" y="621.2" width="0.8" height="0.8" fill="rgb(84,84,84)"/>
<rect x="325.2" y="623.8" width="0.8" height="0.8" fill="rgb(110,110,110)"/>
<rect x="325.1" y="619.6" width="0.8" height="0.8" fill="rgb(129,129,129)"/>
<rect x="327.2" y="614.6" width="0.8" height="0.8" fill="rgb(109,109,109)"/>
<rect x="323.3" y="632.5" width="0.8" height="0.8" fill="rgb(124,124,124)"/>
<rect x="326.6" y="639.2" width="0.8" height="0.8" fill="rgb(129,129,129)"/>
<rect x="323.5" y="627.5" width="0.8" height="0.8" fill="rgb(167,167,167)"/>
<rect x="325.2" y="632.2" width="0.8" height="0.8" fill="rgb(93,93,93)"/>
<rect x="324.5" y="630.8" width="0.8" height="0.8" fill="rgb(117,117,117)"/>
<rect x="320.6" y="631.8" width="0.8" height="0.8" fill="rgb(99,99,99)"/>
<rect x="326.3" y="628.0" width="0.8" height="0.8" fill="rgb(123,123,123)"/>
<rect x="329.9" y="625.5" width="0.8" height="0.8" fill="rgb(88,88,88)"/>
<rect x="323.4" y="634.1" width="0.8" height="0.8" fill="rgb(197,197,197)"/>
<rect x="328.2" y="613.3" width="0.8" height="0.8" fill="rgb(121,121,121)"/>
<rect x="319.0" y="627.7" width="0.8" height="0.8" fill="rgb(92,92,92)"/>
<rect x="324.8" y="635.7" width="0.8" height="0.8" fill="rgb(128,128,128)"/>
<rect x="322.1" y="622.4" width="0.8" height="0.8" fill="rgb(95,95,95)"/>
<rect x="326.2" y="624.3" width="0.8" height="0.8" fill="rgb(108,108,108)"/>
<rect x="323.6" y="623.6" width="0.8" height="0.8" fill="rgb(155,155,155)"/>
<rect x="322.3" y="634.3" width="0.8" height="0.8" fill="rgb(154,154,154)"/>
<rect x="323.9" y="620.4" width="0.8" height="0.8" fill="rgb(146,146,146)"/>
<rect x="325.5" y="612.5" width="0.8" height="0.8" fill="rgb(186,186,186)"/>
<rect x="326.6" y="632.4" width="0.8" height="0.8" fill="rgb(111,111,111)"/>
<rect x="321.7" y="620.3" width="0.8" height="0.8" fill="rgb(78,78,78)"/>
<rect x="327.2" y="628.9" width="0.8" height="0.8" fill="rgb(175,175,175)"/>
<rect x="323.2" y="622.2" width="0.8" height="0.8" fill="rgb(160,160,160)"/>
<rect x="327.6" y="632.7" width="0.8" height="0.8" fill="rgb(111,111,111)"/>
<rect x="321.7" y="636.3" width="0.8" height="0.8" fill="rgb(93,93,93)"/>
<rect x="321.6" y="641.1" width="0.8" height="0.8" fill="rgb(192,192,192)"/>
<rect x="323.4" y="632.6" width="0.8" height="0.8" fill="rgb(97,97,97)"/>
<rect x="324.9" y="622.9" width="0.8" height="0.8" fill="rgb(197,197,197)"/>
<rect x="323.6" y="637.1" width="0.8" height="0.8" fill="rgb(153,153,153)"/>
<rect x="322.5" y="627.1" width="0.8" height="0.8" fill="rgb(80,80,80)"/>
<rect x="321.6" y="625.6" width="0.8" height="0.8" fill="rgb(120,120,120)"/>
<rect x="323.3" y="637.2" width="0.8" height="0.8" fill="rgb(102,102,102)"/>
<rect x="327.4" y="618.1" width="0.8" height="0.8" fill="rgb(198,198,198)"/>
<rect x="324.1" y="630.0" width="0.8" height="0.8" fill="rgb(97,97,97)"/>
<rect x="326.7" y="622.4" width="0.8" height="0.8" fill="rgb(123,123,123)"/>
<rect x="323.3" y="620.0" width="0.8" height="0.8" fill="rgb(113,113,113)"/>
<rect x="325.1" y="631.8" width="0.8" height="0.8" fill="rgb(77,77,77)"/>
<rect x="320.9" y="631.8" width="0.8" height="0.8" fill="rgb(98,98,98)"/>
<rect x="322.6" y="644.3" width="0.8" height="0.8" fill="rgb(91,91,91)"/>
<rect x="323.1" y="620.6" width="0.8" height="0.8" fill="rgb(132,132,132)"/>
<rect x="320.4" y="617.1" width="0.8" height="0.8" fill="rgb(85,85,85)"/>
<rect x="324.4" y="622.8" width="0.8" height="0.8" fill="rgb(156,156,156)"/>
<rect x="324.7" y="625.7" width="0.8" height="0.8" fill="rgb(114,114,114)"/>
<rect x="324.9" y="618.4" width="0.8" height="0.8" fill="rgb(188,188,188)"/>
<rect x="322.7" y="622.9" width="0.8" height="0.8" fill="rgb(151,151,151)"/>
<rect x="326.4" y="622.6" width="0.8" height="0.8" fill="rgb(174,174,174)"/>
<rect x="328.3" y="629.2" width="0.8" height="0.8" fill="rgb(107,107,107)"/>
<rect x="323.6" y="612.5" width="0.8" height="0.8" fill="rgb(108,108,108)"/>
<rect x="325.3" y="611.3" width="0.8" height="0.8" fill="rgb(122,122,122)"/>
<rect x="324.6" y="632.0" width="0.8" height="0.8" fill="rgb(154,154,154)"/>
<rect x="323.8" y="622.8" width="0.8" height="0.8" fill="rgb(70,70,70)"/>
<rect x="324.7" y="616.1" width="0.8" height="0.8" fill="rgb(197,197,197)"/>
<rect x="321.8" y="624.7" width="0.8" height="0.8" fill="rgb(87,87,87)"/>
<rect x="324.0" y="613.2" width="0.8" height="0.8" fill="rgb(120,120,120)"/>
<rect x="324.5" y="623.9" width="0.8" height="0.8" fill="rgb(163,163,163)"/>
<rect x="324.3" y="622.1" width="0.8" height="0.8" fill="rgb(159,159,159)"/>
<rect x="320.1" y="617.9" width="0.8" height="0.8" fill="rgb(196,196,196)"/>
<rect x="322.1" y="612.8" width="0.8" height="0.8" fill="rgb(104,104,104)"/>
<rect x="323.8" y="639.8" width="0.8" height="0.8" fill="rgb(147,147,147)"/>
<rect x="327.4" y="617.6" width="0.8" height="0.8" fill="rgb(112,112,112)"/>
<rect x="319.7" y="632.6" width="0.8" height="0.8" fill="rgb(146,146,146)"/>
<rect x="324.0" y="613.9" width="0.8" height="0.8" fill="rgb(99,99,99)"/>
<rect x="328.0" y="632.5" width="0.8" height="0.8" fill="rgb(134,134,134)"/>
<rect x="324.0" y="608.5" width="0.8" height="0.8" fill="rgb(131,131,131)"/>
<rect x="324.9" y="635.4" width="0.8" height="0.8" fill="rgb(130,130,130)"/>
<rect x="326.3" y="617.8" width="0.8" height="0.8" fill="rgb(82,82,82)"/>
<rect x="320.6" y="635.9" width="0.8" height="0.8" fill="rgb(157,157,157)"/>
<rect x="325.2" y="617.8" width="0.8" height="0.8" fill="rgb(92,92,92)"/>
<rect x="324.5" y="639.3" width="0.8" height="0.8" fill="rgb(156,156,156)"/>
<rect x="321.2" y="609.3" width="0.8" height="0.8" fill="rgb(179,179,179)"/>
<rect x="324.1" y="625.2" width="0.8" height="0.8" fill="rgb(195,195,195)"/>
<rect x="319.1" y="612.6" width="0.8" height="0.8" fill="rgb(191,191,191)"/>
<rect x="321.0" y="632.0" width="0.8" height="0.8" fill="rgb(187,187,187)"/>
<rect x="325.9" y="635.0" width="0.8" height="0.8" fill="rgb(91,91,91)"/>
<rect x="321.1" y="639.8" width="0.8" height="0.8" fill="rgb(78,78,78)"/>
<rect x="323.7" y="629.7" width="0.8" height="0.8" fill="rgb(139,139,139)"/>
<rect x="326.0" y="643.4" width="0.8" height="0.8" fill="rgb(174,174,174)"/>
<rect x="321.6" y="612.2" width="0.8" height="0.8" fill="rgb(100,100,100)"/>
<rect x="324.7" y="638.4" width="0.8" height="0.8" fill="rgb(166,166,166)"/>
<rect x="324.7" y="620.9" width="0.8" height="0.8" fill="rgb(139,139,139)"/>
<rect x="323.3" y="630.5" width="0.8" height="0.8" fill="rgb(112,112,112)"/>
<rect x="324.8" y="644.7" width="0.8" height="0.8" fill="rgb(170,170,170)"/>
<rect x="323.2" y="633.4" width="0.8" height="0.8" fill="rgb(199,199,199)"/>
<rect x="324.9" y="614.1" width="0.8" height="0.8" fill="rgb(111,111,111)"/>
<rect x="323.7" y="626.8" width="0.8" height="0.8" fill="rgb(114,114,114)"/>
<rect x="325.5" y="630.1" width="0.8" height="0.8" fill="rgb(134,134,134)"/>
<rect x="323.7" y="612.5" width="0.8" height="0.8" fill="rgb(166,166,166)"/>
<rect x="342.3" y="624.1" width="0.8" height="0.8" fill="rgb(112,112,112)"/>
<rect x="339.0" y="620.1" width="0.8" height="0.8" fill="rgb(159,159,159)"/>
<rect x="338.5" y="622.7" width="0.8" height="0.8" fill="rgb(117,117,117)"/>
<rect x="337.1" y="623.8" width="0.8" height="0.8" fill="rgb(160,160,160)"/>
<rect x="337.2" y="615.6" width="0.8" height="0.8" fill="rgb(183,183,183)"/>
<rect x="337.1" y="616.1" width="0.8" height="0.8" fill="rgb(143,143,143)"/>
<rect x="335.7" y="621.2" width="0.8" height="0.8" fill="rgb(82,82,82)"/>
<rect x="343.9" y="622.7" width="0.8" height="0.8" fill="rgb(167,167,167)"/>
<rect x="341.3" y="622.7" width="0.8" height="0.8" fill="rgb(119,119,119)"/>
<rect x="339.5" y="615.7" width="0.8" height="0.8" fill="rgb(173,173,173)"/>
<rect x="337.3" y="619.3" width="0.8" height="0.8" fill="rgb(121,121,121)"/>
<rect x="339.2" y="621.0" width="0.8" height="0.8" fill="rgb(199,199,199)"/>
<rect x="340.6" y="620.1" width="0.8" height="0.8" fill="rgb(155,155,155)"/>
<rect x="342.1" y="619.5" width="0.8" height="0.8" fill="rgb(130,130,130)"/>
<rect x="341.0" y="624.0" width="0.8" height="0.8" fill="rgb(115,115,115)"/>
<rect x="338.2" y="619.7" width="0.8" height="0.8" fill="rgb(178,178,178)"/>
<rect x="337.0" y="620.3" width="0.8" height="0.8" fill="rgb(132,132,132)"/>
<rect x="336.8" y="617.4" width="0.8" height="0.8" fill="rgb(166,166,166)"/>
<rect x="337.6" y="618.8" width="0.8" height="0.8" fill="rgb(170,170,170)"/>
<rect x="336.1" y="625.2" width="0.8" height="0.8" fill="rgb(121,121,121)"/>
<rect x="341.2" y="623.8" width="0.8" height="0.8" fill="rgb(185,185,185)"/>
<rect x="342.4" y="621.9" width="0.8" height="0.8" fill="rgb(194,194,194)"/>
<rect x="341.4" y="623.3" width="0.8" height="0.8" fill="rgb(192,192,192)"/>
<rect x="341.5" y="621.8" width="0.8" height="0.8" fill="rgb(146,146,146)"/>
<rect x="340.5" y="622.9" width="0.8" height="0.8" fill="rgb(86,86,86)"/>
<rect x="333.8" y="617.5" width="0.8" height="0.8" fill="rgb(179,179,179)"/>
<rect x="345.8" y="619.7" width="0.8" height="0.8" fill="rgb(103,103,103)"/>
<rect x="338.8" y="626.2" width="0.8" height="0.8" fill="rgb(140,140,140)"/>
<rect x="340.2" y="623.1" width="0.8" height="0.8" fill="rgb(136,136,136)"/>
<rect x="336.4" y="623.2" width="0.8" height="0.8" fill="rgb(126,126,126)"/>
<rect x="337.6" y="622.5" width="0.8" height="0.8" fill="rgb(140,140,140)"/>
<rect x="339.3" y="622.7" width="0.8" height="0.8" fill="rgb(196,196,196)"/>
<rect x="337.4" y="618.9" width="0.8" height="0.8" fill="rgb(132,132,132)"/>
<rect x="336.7" y="617.7" width="0.8" height="0.8" fill="rgb(120,120,120)"/>
<rect x="341.4" y="621.6" width="0.8" height="0.8" fill="rgb(148,148,148)"/>
<rect x="336.4" y="621.6" width="0.8" height="0.8" fill="rgb(165,165,165)"/>
<rect x="338.7" y="621.5" width="0.8" height="0.8" fill="rgb(130,130,130)"/>
<rect x="335.9" y="625.2" width="0.8" height="0.8" fill="rgb(147,147,147)"/>
<rect x="341.3" y="616.5" width="0.8" height="0.8" fill="rgb(95,95,95)"/>
<rect x="339.2" y="625.3" width="0.8" height="0.8" fill="rgb(85,85,85)"/>
</g>
<g clip-path="url(#c3)">
<ellipse cx="218.5" cy="676" rx="4" ry="4.5" fill="#333" opacity="0.85" transform="rotate(0 218.5 676)" filter="url(#b2)"/>
<ellipse cx="214" cy="674" rx="6" ry="4" fill="#999" opacity="0.7" transform="rotate(0 214 674)" filter="url(#b1)"/>
<ellipse cx="212" cy="683" rx="5" ry="7" fill="#c8c8c8" opacity="0.6" transform="rotate(0 212 683)" filter="url(#b1)"/>
<ellipse cx="217.5" cy="688" rx="3" ry="8" fill="#999" opacity="0.75" transform="rotate(0 217.5 688)" filter="url(#b2)"/>
<ellipse cx="215" cy="698" rx="3.5" ry="5" fill="#d0d0d0" opacity="0.6" transform="rotate(0 215 698)" filter="url(#b1)"/>
<ellipse cx="206" cy="678" rx="3" ry="4" fill="#d4d4d4" opacity="0.6" transform="rotate(0 206 678)" filter="url(#b1)"/>
<rect x="210.9" y="675.8" width="0.8" height="0.8" fill="rgb(118,118,118)"/>
<rect x="211.2" y="684.5" width="0.8" height="0.8" fill="rgb(107,107,107)"/>
<rect x="225.3" y="676.0" width="0.8" height="0.8" fill="rgb(64,64,64)"/>
<rect x="217.1" y="671.0" width="0.8" height="0.8" fill="rgb(145,145,145)"/>
<rect x="220.2" y="671.6" width="0.8" height="0.8" fill="rgb(118,118,118)"/>
<rect x="218.3" y="679.2" width="0.8" height="0.8" fill="rgb(70,70,70)"/>
<rect x="217.6" y="673.0" width="0.8" height="0.8" fill="rgb(127,127,127)"/>
<rect x="213.2" y="679.8" width="0.8" height="0.8" fill="rgb(126,126,126)"/>
<rect x="215.5" y="679.1" width="0.8" height="0.8" fill="rgb(76,76,76)"/>
<rect x="212.2" y="676.0" width="0.8" height="0.8" fill="rgb(113,113,113)"/>
<rect x="219.4" y="679.7" width="0.8" height="0.8" fill="rgb(56,56,56)"/>
<rect x="218.3" y="676.3" width="0.8" height="0.8" fill="rgb(40,40,40)"/>
<rect x="220.5" y="672.2" width="0.8" height="0.8" fill="rgb(150,150,150)"/>
<rect x="212.7" y="680.0" width="0.8" height="0.8" fill="rgb(110,110,110)"/>
<rect x="218.3" y="671.1" width="0.8" height="0.8" fill="rgb(73,73,73)"/>
<rect x="220.5" y="681.9" width="0.8" height="0.8" fill="rgb(101,101,101)"/>
<rect x="208.4" y="677.0" width="0.8" height="0.8" fill="rgb(48,48,48)"/>
<rect x="216.7" y="669.6" width="0.8" height="0.8" fill="rgb(137,137,137)"/>
<rect x="218.5" y="675.5" width="0.8" height="0.8" fill="rgb(138,138,138)"/>
<rect x="214.6" y="674.9" width="0.8" height="0.8" fill="rgb(57,57,57)"/>
<rect x="217.7" y="671.6" width="0.8" height="0.8" fill="rgb(170,170,170)"/>
<rect x="216.6" y="679.7" width="0.8" height="0.8" fill="rgb(97,97,97)"/>
<rect x="215.6" y="680.5" width="0.8" height="0.8" fill="rgb(60,60,60)"/>
<rect x="213.1" y="681.8" width="0.8" height="0.8" fill="rgb(58,58,58)"/>
<rect x="224.2" y="683.9" width="0.8" height="0.8" fill="rgb(95,95,95)"/>
<rect x="222.6" y="677.1" width="0.8" height="0.8" fill="rgb(75,75,75)"/>
<rect x="212.5" y="678.6" width="0.8" height="0.8" fill="rgb(154,154,154)"/>
<rect x="212.5" y="674.1" width="0.8" height="0.8" fill="rgb(48,48,48)"/>
<rect x="224.3" y="678.8" width="0.8" height="0.8" fill="rgb(68,68,68)"/>
<rect x="213.7" y="677.3" width="0.8" height="0.8" fill="rgb(127,127,127)"/>
<rect x="221.8" y="675.9" width="0.8" height="0.8" fill="rgb(98,98,98)"/>
<rect x="218.4" y="684.0" width="0.8" height="0.8" fill="rgb(93,93,93)"/>
<rect x="214.9" y="687.6" width="0.8" height="0.8" fill="rgb(47,47,47)"/>
<rect x="217.4" y="679.4" width="0.8" height="0.8" fill="rgb(169,169,169)"/>
<rect x="216.6" y="680.8" width="0.8" height="0.8" fill="rgb(110,110,110)"/>
<rect x="216.2" y="671.8" width="0.8" height="0.8" fill="rgb(142,142,142)"/>
<rect x="209.3" y="683.3" width="0.8" height="0.8" fill="rgb(144,144,144)"/>
<rect x="218.2" y="685.0" width="0.8" height="0.8" fill="rgb(54,54,54)"/>
<rect x="220.4" y="667.4" width="0.8" height="0.8" fill="rgb(124,124,124)"/>
<rect x="215.3" y="674.5" width="0.8" height="0.8" fill="rgb(162,162,162)"/>
<rect x="213.2" y="675.1" width="0.8" height="0.8" fill="rgb(156,156,156)"/>
<rect x="219.0" y="682.2" width="0.8" height="0.8" fill="rgb(68,68,68)"/>
<rect x="214.3" y="678.9" width="0.8" height="0.8" fill="rgb(89,89,89)"/>
<rect x="224.6" y="680.9" width="0.8" height="0.8" fill="rgb(44,44,44)"/>
<rect x="214.5" y="678.0" width="0.8" height="0.8" fill="rgb(90,90,90)"/>
<rect x="217.4" y="674.3" width="0.8" height="0.8" fill="rgb(115,115,115)"/>
<rect x="216.9" y="667.3" width="0.8" height="0.8" fill="rgb(44,44,44)"/>
<rect x="219.5" y="678.0" width="0.8" height="0.8" fill="rgb(43,43,43)"/>
<rect x="219.9" y="672.1" width="0.8" height="0.8" fill="rgb(107,107,107)"/>
<rect x="211.7" y="675.0" width="0.8" height="0.8" fill="rgb(120,120,120)"/>
<rect x="220.4" y="676.8" width="0.8" height="0.8" fill="rgb(51,51,51)"/>
<rect x="216.6" y="670.9" width="0.8" height="0.8" fill="rgb(147,147,147)"/>
<rect x="222.8" y="672.7" width="0.8" height="0.8" fill="rgb(156,156,156)"/>
<rect x="217.5" y="673.4" width="0.8" height="0.8" fill="rgb(79,79,79)"/>
<rect x="211.6" y="683.3" width="0.8" height="0.8" fill="rgb(164,164,164)"/>
<rect x="225.8" y="676.5" width="0.8" height="0.8" fill="rgb(121,121,121)"/>
<rect x="209.7" y="678.1" width="0.8" height="0.8" fill="rgb(72,72,72)"/>
<rect x="219.9" y="673.0" width="0.8" height="0.8" fill="rgb(104,104,104)"/>
<rect x="214.3" y="676.9" width="0.8" height="0.8" fill="rgb(104,104,104)"/>
<rect x="211.8" y="669.2" width="0.8" height="0.8" fill="rgb(89,89,89)"/>
<rect x="214.6" y="667.7" width="0.8" height="0.8" fill="rgb(151,151,151)"/>
<rect x="218.0" y="670.6" width="0.8" height="0.8" fill="rgb(81,81,81)"/>
<rect x="219.9" y="669.9" width="0.8" height="0.8" fill="rgb(74,74,74)"/>
<rect x="218.3" y="678.5" width="0.8" height="0.8" fill="rgb(137,137,137)"/>
<rect x="224.2" y="678.3" width="0.8" height="0.8" fill="rgb(62,62,62)"/>
<rect x="215.8" y="677.3" width="0.8" height="0.8" fill="rgb(58,58,58)"/>
<rect x="219.3" y="674.2" width="0.8" height="0.8" fill="rgb(158,158,158)"/>
<rect x="211.3" y="677.6" width="0.8" height="0.8" fill="rgb(92,92,92)"/>
<rect x="219.7" y="677.1" width="0.8" height="0.8" fill="rgb(130,130,130)"/>
<rect x="215.6" y="678.3" width="0.8" height="0.8" fill="rgb(72,72,72)"/>
<rect x="221.1" y="675.5" width="0.8" height="0.8" fill="rgb(152,152,152)"/>
<rect x="217.4" y="671.8" width="0.8" height="0.8" fill="rgb(53,53,53)"/>
<rect x="218.6" y="675.1" width="0.8" height="0.8" fill="rgb(101,101,101)"/>
<rect x="216.1" y="672.6" width="0.8" height="0.8" fill="rgb(160,160,160)"/>
<rect x="215.4" y="675.8" width="0.8" height="0.8" fill="rgb(167,167,167)"/>
<rect x="215.8" y="676.2" width="0.8" height="0.8" fill="rgb(101,101,101)"/>
<rect x="219.6" y="669.0" width="0.8" height="0.8" fill="rgb(41,41,41)"/>
<rect x="211.5" y="681.4" width="0.8" height="0.8" fill="rgb(97,97,97)"/>
<rect x="212.6" y="672.1" width="0.8" height="0.8" fill="rgb(49,49,49)"/>
<rect x="217.4" y="685.7" width="0.8" height="0.8" fill="rgb(91,91,91)"/>
<rect x="217.4" y="675.9" width="0.8" height="0.8" fill="rgb(52,52,52)"/>
<rect x="209.2" y="682.5" width="0.8" height="0.8" fill="rgb(96,96,96)"/>
<rect x="217.2" y="675.8" width="0.8" height="0.8" fill="rgb(145,145,145)"/>
<rect x="216.8" y="679.3" width="0.8" height="0.8" fill="rgb(44,44,44)"/>
<rect x="207.1" y="678.3" width="0.8" height="0.8" fill="rgb(64,64,64)"/>
<rect x="219.8" y="683.7" width="0.8" height="0.8" fill="rgb(81,81,81)"/>
<rect x="214.4" y="674.6" width="0.8" height="0.8" fill="rgb(170,170,170)"/>
<rect x="218.9" y="668.8" width="0.8" height="0.8" fill="rgb(40,40,40)"/>
<rect x="217.9" y="677.4" width="0.8" height="0.8" fill="rgb(61,61,61)"/>
<rect x="211.4" y="676.9" width="0.8" height="0.8" fill="rgb(59,59,59)"/>
<rect x="215.4" y="671.3" width="0.8" height="0.8" fill="rgb(114,114,114)"/>
<rect x="211.3" y="678.6" width="0.8" height="0.8" fill="rgb(93,93,93)"/>
<rect x="224.4" y="678.1" width="0.8" height="0.8" fill="rgb(157,157,157)"/>
<rect x="218.6" y="683.1" width="0.8" height="0.8" fill="rgb(93,93,93)"/>
<rect x="211.6" y="666.9" width="0.8" height="0.8" fill="rgb(62,62,62)"/>
<rect x="213.4" y="675.9" width="0.8" height="0.8" fill="rgb(64,64,64)"/>
<rect x="219.5" y="678.5" width="0.8" height="0.8" fill="rgb(65,65,65)"/>
<rect x="219.7" y="678.7" width="0.8" height="0.8" fill="rgb(119,119,119)"/>
<rect x="217.2" y="674.7" width="0.8" height="0.8" fill="rgb(125,125,125)"/>
<rect x="217.1" y="676.5" width="0.8" height="0.8" fill="rgb(59,59,59)"/>
<rect x="222.8" y="678.6" width="0.8" height="0.8" fill="rgb(94,94,94)"/>
<rect x="212.6" y="676.4" width="0.8" height="0.8" fill="rgb(144,144,144)"/>
<rect x="221.6" y="674.6" width="0.8" height="0.8" fill="rgb(93,93,93)"/>
<rect x="222.6" y="673.7" width="0.8" height="0.8" fill="rgb(60,60,60)"/>
<rect x="223.5" y="673.0" width="0.8" height="0.8" fill="rgb(47,47,47)"/>
<rect x="216.0" y="675.1" width="0.8" height="0.8" fill="rgb(150,150,150)"/>
<rect x="217.4" y="675.7" width="0.8" height="0.8" fill="rgb(115,115,115)"/>
<rect x="211.2" y="679.2" width="0.8" height="0.8" fill="rgb(104,104,104)"/>
<rect x="218.8" y="669.5" width="0.8" height="0.8" fill="rgb(47,47,47)"/>
<rect x="216.2" y="678.6" width="0.8" height="0.8" fill="rgb(153,153,153)"/>
<rect x="222.0" y="685.3" width="0.8" height="0.8" fill="rgb(161,161,161)"/>
<rect x="217.6" y="669.4" width="0.8" height="0.8" fill="rgb(123,123,123)"/>
<rect x="216.5" y="680.0" width="0.8" height="0.8" fill="rgb(145,145,145)"/>
<rect x="213.5" y="676.1" width="0.8" height="0.8" fill="rgb(131,131,131)"/>
<rect x="220.1" y="675.3" width="0.8" height="0.8" fill="rgb(101,101,101)"/>
<rect x="222.5" y="672.5" width="0.8" height="0.8" fill="rgb(81,81,81)"/>
<rect x="222.9" y="681.6" width="0.8" height="0.8" fill="rgb(120,120,120)"/>
<rect x="213.8" y="678.6" width="0.8" height="0.8" fill="rgb(56,56,56)"/>
<rect x="206.9" y="674.6" width="0.8" height="0.8" fill="rgb(81,81,81)"/>
<rect x="217.3" y="678.3" width="0.8" height="0.8" fill="rgb(102,102,102)"/>
<rect x="220.8" y="675.4" width="0.8" height="0.8" fill="rgb(62,62,62)"/>
<rect x="215.3" y="674.8" width="0.8" height="0.8" fill="rgb(43,43,43)"/>
<rect x="216.1" y="672.9" width="0.8" height="0.8" fill="rgb(70,70,70)"/>
<rect x="219.5" y="676.8" width="0.8" height="0.8" fill="rgb(152,152,152)"/>
<rect x="215.2" y="675.4" width="0.8" height="0.8" fill="rgb(112,112,112)"/>
<rect x="217.1" y="674.0" width="0.8" height="0.8" fill="rgb(105,105,105)"/>
<rect x="218.7" y="676.6" width="0.8" height="0.8" fill="rgb(93,93,93)"/>
<rect x="213.5" y="672.7" width="0.8" height="0.8" fill="rgb(76,76,76)"/>
<rect x="214.0" y="672.5" width="0.8" height="0.8" fill="rgb(140,140,140)"/>
<rect x="216.5" y="678.4" width="0.8" height="0.8" fill="rgb(57,57,57)"/>
<rect x="211.3" y="684.4" width="0.8" height="0.8" fill="rgb(109,109,109)"/>
<rect x="214.4" y="687.7" width="0.8" height="0.8" fill="rgb(163,163,163)"/>
<rect x="209.8" y="678.3" width="0.8" height="0.8" fill="rgb(135,135,135)"/>
<rect x="217.3" y="681.3" width="0.8" height="0.8" fill="rgb(112,112,112)"/>
<rect x="212.9" y="692.0" width="0.8" height="0.8" fill="rgb(189,189,189)"/>
<rect x="211.2" y="677.9" width="0.8" height="0.8" fill="rgb(193,193,193)"/>
<rect x="219.4" y="675.4" width="0.8" height="0.8" fill="rgb(158,158,158)"/>
<rect x="208.3" y="696.1" width="0.8" height="0.8" fill="rgb(103,103,103)"/>
<rect x="207.0" y="692.9" width="0.8" height="0.8" fill="rgb(113,113,113)"/>
<rect x="218.0" y="675.0" width="0.8" height="0.8" fill="rgb(185,185,185)"/>
<rect x="209.8" y="693.4" width="0.8" height="0.8" fill="rgb(208,208,208)"/>
<rect x="216.6" y="699.1" width="0.8" height="0.8" fill="rgb(120,120,120)"/>
<rect x="214.3" y="674.9" width="0.8" height="0.8" fill="rgb(139,139,139)"/>
<rect x="211.5" y="681.3" width="0.8" height="0.8" fill="rgb(118,118,118)"/>
<rect x="204.5" y="686.6" width="0.8" height="0.8" fill="rgb(107,107,107)"/>
<rect x="208.1" y="691.8" width="0.8" height="0.8" fill="rgb(172,172,172)"/>
<rect x="211.6" y="683.7" width="0.8" height="0.8" fill="rgb(137,137,137)"/>
<rect x="221.8" y="686.3" width="0.8" height="0.8" fill="rgb(116,116,116)"/>
<rect x="216.9" y="682.4" width="0.8" height="0.8" fill="rgb(169,169,169)"/>
<rect x="212.6" y="681.2" width="0.8" height="0.8" fill="rgb(200,200,200)"/>
<rect x="212.7" y="678.3" width="0.8" height="0.8" fill="rgb(121,121,121)"/>
<rect x="210.8" y="684.5" width="0.8" height="0.8" fill="rgb(131,131,131)"/>
<rect x="215.3" y="682.7" width="0.8" height="0.8" fill="rgb(197,197,197)"/>
<rect x="207.4" y="693.1" width="0.8" height="0.8" fill="rgb(128,128,128)"/>
<rect x="207.4" y="673.3" width="0.8" height="0.8" fill="rgb(197,197,197)"/>
<rect x="209.8" y="689.4" width="0.8" height="0.8" fill="rgb(182,182,182)"/>
<rect x="215.7" y="681.6" width="0.8" height="0.8" fill="rgb(100,100,100)"/>
<rect x="219.3" y="688.2" width="0.8" height="0.8" fill="rgb(207,207,207)"/>
<rect x="210.5" y="689.2" width="0.8" height="0.8" fill="rgb(160,160,160)"/>
<rect x="210.9" y="686.3" width="0.8" height="0.8" fill="rgb(158,158,158)"/>
<rect x="208.1" y="682.2" width="0.8" height="0.8" fill="rgb(151,151,151)"/>
<rect x="216.8" y="690.4" width="0.8" height="0.8" fill="rgb(122,122,122)"/>
<rect x="217.0" y="681.0" width="0.8" height="0.8" fill="rgb(107,107,107)"/>
<rect x="214.2" y="686.8" width="0.8" height="0.8" fill="rgb(146,146,146)"/>
<rect x="209.9" y="686.8" width="0.8" height="0.8" fill="rgb(143,143,143)"/>
<rect x="211.4" y="684.1" width="0.8" height="0.8" fill="rgb(128,128,128)"/>
<rect x="209.9" y="685.5" width="0.8" height="0.8" fill="rgb(178,178,178)"/>
<rect x="220.9" y="671.9" width="0.8" height="0.8" fill="rgb(209,209,209)"/>
<rect x="211.9" y="686.7" width="0.8" height="0.8" fill="rgb(155,155,155)"/>
<rect x="209.7" y="684.2" width="0.8" height="0.8" fill="rgb(121,121,121)"/>
<rect x="209.1" y="684.6" width="0.8" height="0.8" fill="rgb(112,112,112)"/>
<rect x="216.1" y="687.7" width="0.8" height="0.8" fill="rgb(158,158,158)"/>
<rect x="213.5" y="681.4" width="0.8" height="0.8" fill="rgb(203,203,203)"/>
<rect x="209.2" y="686.8" width="0.8" height="0.8" fill="rgb(126,126,126)"/>
<rect x="211.5" y="697.1" width="0.8" height="0.8" fill="rgb(108,108,108)"/>
<rect x="222.5" y="698.8" width="0.8" height="0.8" fill="rgb(161,161,161)"/>
<rect x="212.8" y="693.3" width="0.8" height="0.8" fill="rgb(180,180,180)"/>
<rect x="209.9" y="678.1" width="0.8" height="0.8" fill="rgb(103,103,103)"/>
<rect x="208.7" y="676.6" width="0.8" height="0.8" fill="rgb(104,104,104)"/>
<rect x="209.8" y="683.8" width="0.8" height="0.8" fill="rgb(163,163,163)"/>
<rect x="211.7" y="681.7" width="0.8" height="0.8" fill="rgb(146,146,146)"/>
<rect x="218.0" y="695.0" width="0.8" height="0.8" fill="rgb(141,141,141)"/>
<rect x="212.5" y="671.2" width="0.8" height="0.8" fill="rgb(147,147,147)"/>
<rect x="209.4" y="676.5" width="0.8" height="0.8" fill="rgb(189,189,189)"/>
<rect x="213.9" y="694.4" width="0.8" height="0.8" fill="rgb(192,192,192)"/>
<rect x="215.7" y="687.4" width="0.8" height="0.8" fill="rgb(104,104,104)"/>
<rect x="210.3" y="703.6" width="0.8" height="0.8" fill="rgb(207,207,207)"/>
<rect x="215.7" y="695.9" width="0.8" height="0.8" fill="rgb(174,174,174)"/>
<rect x="213.5" y="687.5" width="0.8" height="0.8" fill="rgb(103,103,103)"/>
<rect x="212.7" y="684.0" width="0.8" height="0.8" fill="rgb(161,161,161)"/>
<rect x="213.5" y="692.9" width="0.8" height="0.8" fill="rgb(165,165,165)"/>
<rect x="217.5" y="675.8" width="0.8" height="0.8" fill="rgb(186,186,186)"/>
<rect x="219.3" y="684.5" width="0.8" height="0.8" fill="rgb(127,127,127)"/>
<rect x="214.8" y="692.4" width="0.8" height="0.8" fill="rgb(139,139,139)"/>
<rect x="218.0" y="685.0" width="0.8" height="0.8" fill="rgb(128,128,128)"/>
<rect x="220.5" y="683.2" width="0.8" height="0.8" fill="rgb(104,104,104)"/>
<rect x="209.6" y="688.5" width="0.8" height="0.8" fill="rgb(185,185,185)"/>
<rect x="211.5" y="676.2" width="0.8" height="0.8" fill="rgb(198,198,198)"/>
<rect x="217.4" y="696.2" width="0.8" height="0.8" fill="rgb(100,100,100)"/>
<rect x="217.6" y="695.6" width="0.8" height="0.8" fill="rgb(177,177,177)"/>
<rect x="207.5" y="687.6" width="0.8" height="0.8" fill="rgb(191,191,191)"/>
<rect x="210.4" y="688.6" width="0.8" height="0.8" fill="rgb(171,171,171)"/>
<rect x="221.3" y="697.2" width="0.8" height="0.8" fill="rgb(119,119,119)"/>
<rect x="226.7" y="671.5" width="0.8" height="0.8" fill="rgb(117,117,117)"/>
<rect x="204.8" y="677.9" width="0.8" height="0.8" fill="rgb(107,107,107)"/>
<rect x="215.3" y="691.4" width="0.8" height="0.8" fill="rgb(110,110,110)"/>
<rect x="208.8" y="681.1" width="0.8" height="0.8" fill="rgb(152,152,152)"/>
<rect x="212.9" y="694.1" width="0.8" height="0.8" fill="rgb(128,128,128)"/>
<rect x="220.2" y="671.5" width="0.8" height="0.8" fill="rgb(134,134,134)"/>
<rect x="220.0" y="682.8" width="0.8" height="0.8" fill="rgb(112,112,112)"/>
<rect x="222.5" y="689.9" width="0.8" height="0.8" fill="rgb(113,113,113)"/>
<rect x="222.5" y="681.9" width="0.8" height="0.8" fill="rgb(109,109,109)"/>
<rect x="210.2" y="702.7" width="0.8" height="0.8" fill="rgb(117,117,117)"/>
<rect x="208.2" y="689.1" width="0.8" height="0.8" fill="rgb(208,208,208)"/>
<rect x="210.9" y="694.8" width="0.8" height="0.8" fill="rgb(190,190,190)"/>
<rect x="210.8" y="684.7" width="0.8" height="0.8" fill="rgb(131,131,131)"/>
<rect x="207.5" y="685.0" width="0.8" height="0.8" fill="rgb(187,187,187)"/>
<rect x="216.0" y="670.8" width="0.8" height="0.8" fill="rgb(171,171,171)"/>
<rect x="213.6" y="687.6" width="0.8" height="0.8" fill="rgb(132,132,132)"/>
<rect x="210.4" y="683.1" width="0.8" height="0.8" fill="rgb(188,188,188)"/>
<rect x="219.2" y="682.3" width="0.8" height="0.8" fill="rgb(152,152,152)"/>
<rect x="209.3" y="691.4" width="0.8" height="0.8" fill="rgb(186,186,186)"/>
<rect x="216.1" y="675.2" width="0.8" height="0.8" fill="rgb(107,107,107)"/>
<rect x="209.4" y="679.4" width="0.8" height="0.8" fill="rgb(186,186,186)"/>
<rect x="208.2" y="698.9" width="0.8" height="0.8" fill="rgb(156,156,156)"/>
<rect x="206.3" y="686.6" width="0.8" height="0.8" fill="rgb(190,190,190)"/>
<rect x="222.1" y="681.0" width="0.8" height="0.8" fill="rgb(159,159,159)"/>
<rect x="220.6" y="681.8" width="0.8" height="0.8" fill="rgb(129,129,129)"/>
<rect x="214.9" y="684.6" width="0.8" height="0.8" fill="rgb(126,126,126)"/>
<rect x="208.6" y="683.1" width="0.8" height="0.8" fill="rgb(117,117,117)"/>
<rect x="218.5" y="688.6" width="0.8" height="0.8" fill="rgb(174,174,174)"/>
<rect x="216.4" y="684.4" width="0.8" height="0.8" fill="rgb(143,143,143)"/>
<rect x="217.1" y="687.8" width="0.8" height="0.8" fill="rgb(108,108,108)"/>
<rect x="213.7" y="679.3" width="0.8" height="0.8" fill="rgb(94,94,94)"/>
<rect x="218.3" y="693.0" width="0.8" height="0.8" fill="rgb(131,131,131)"/>
<rect x="214.3" y="684.3" width="0.8" height="0.8" fill="rgb(140,140,140)"/>
<rect x="211.8" y="682.5" width="0.8" height="0.8" fill="rgb(153,153,153)"/>
<rect x="214.8" y="690.0" width="0.8" height="0.8" fill="rgb(177,177,177)"/>
<rect x="215.6" y="693.9" width="0.8" height="0.8" fill="rgb(141,141,141)"/>
<rect x="215.7" y="680.7" width="0.8" height="0.8" fill="rgb(179,179,179)"/>
<rect x="218.3" y="698.5" width="0.8" height="0.8" fill="rgb(160,160,160)"/>
<rect x="217.5" y="676.9" width="0.8" height="0.8" fill="rgb(162,162,162)"/>
<rect x="217.5" y="697.8" width="0.8" height="0.8" fill="rgb(155,155,155)"/>
<rect x="218.6" y="690.9" width="0.8" height="0.8" fill="rgb(178,178,178)"/>
<rect x="219.1" y="682.7" width="0.8" height="0.8" fill="rgb(100,100,100)"/>
<rect x="218.5" y="682.2" width="0.8" height="0.8" fill="rgb(188,188,188)"/>
<rect x="214.8" y="680.2" width="0.8" height="0.8" fill="rgb(85,85,85)"/>
<rect x="217.1" y="693.3" width="0.8" height="0.8" fill="rgb(148,148,148)"/>
<rect x="214.3" y="697.4" width="0.8" height="0.8" fill="rgb(83,83,83)"/>
<rect x="217.2" y="692.3" width="0.8" height="0.8" fill="rgb(102,102,102)"/>
<rect x="218.6" y="695.1" width="0.8" height="0.8" fill="rgb(102,102,102)"/>
<rect x="217.2" y="698.2" width="0.8" height="0.8" fill="rgb(171,171,171)"/>
<rect x="217.4" y="686.3" width="0.8" height="0.8" fill="rgb(83,83,83)"/>
<rect x="221.4" y="704.3" width="0.8" height="0.8" fill="rgb(105,105,105)"/>
<rect x="218.3" y="697.8" width="0.8" height="0.8" fill="rgb(146,146,146)"/>
<rect x="215.8" y="697.4" width="0.8" height="0.8" fill="rgb(175,175,175)"/>
<rect x="215.1" y="692.8" width="0.8" height="0.8" fill="rgb(87,87,87)"/>
<rect x="218.8" y="689.2" width="0.8" height="0.8" fill="rgb(113,113,113)"/>
<rect x="219.9" y="698.1" width="0.8" height="0.8" fill="rgb(169,169,169)"/>
<rect x="218.3" y="691.3" width="0.8" height="0.8" fill="rgb(191,191,191)"/>
<rect x="216.7" y="684.7" width="0.8" height="0.8" fill="rgb(142,142,142)"/>
<rect x="219.2" y="700.4" width="0.8" height="0.8" fill="rgb(151,151,151)"/>
<rect x="218.4" y="679.4" width="0.8" height="0.8" fill="rgb(187,187,187)"/>
<rect x="216.1" y="684.6" width="0.8" height="0.8" fill="rgb(171,171,171)"/>
<rect x="219.1" y="692.7" width="0.8" height="0.8" fill="rgb(89,89,89)"/>
<rect x="217.4" y="688.6" width="0.8" height="0.8" fill="rgb(155,155,155)"/>
<rect x="219.6" y="703.6" width="0.8" height="0.8" fill="rgb(137,137,137)"/>
<rect x="218.5" y="678.6" width="0.8" height="0.8" fill="rgb(109,109,109)"/>
<rect x="213.6" y="681.6" width="0.8" height="0.8" fill="rgb(140,140,140)"/>
<rect x="215.7" y="690.3" width="0.8" height="0.8" fill="rgb(104,104,104)"/>
<rect x="218.6" y="689.7" width="0.8" height="0.8" fill="rgb(187,187,187)"/>
<rect x="215.8" y="687.6" width="0.8" height="0.8" fill="rgb(113,113,113)"/>
<rect x="214.0" y="691.9" width="0.8" height="0.8" fill="rgb(122,122,122)"/>
<rect x="216.9" y="690.0" width="0.8" height="0.8" fill="rgb(172,172,172)"/>
<rect x="220.0" y="693.4" width="0.8" height="0.8" fill="rgb(107,107,107)"/>
<rect x="214.6" y="682.6" width="0.8" height="0.8" fill="rgb(158,158,158)"/>
<rect x="217.6" y="696.8" width="0.8" height="0.8" fill="rgb(119,119,119)"/>
<rect x="222.3" y="691.5" width="0.8" height="0.8" fill="rgb(96,96,96)"/>
<rect x="218.0" y="696.8" width="0.8" height="0.8" fill="rgb(178,178,178)"/>
<rect x="214.9" y="702.6" width="0.8" height="0.8" fill="rgb(167,167,167)"/>
<rect x="221.3" y="688.3" width="0.8" height="0.8" fill="rgb(119,119,119)"/>
<rect x="214.6" y="697.9" width="0.8" height="0.8" fill="rgb(119,119,119)"/>
<rect x="220.2" y="695.8" width="0.8" height="0.8" fill="rgb(91,91,91)"/>
<rect x="216.4" y="698.8" width="0.8" height="0.8" fill="rgb(110,110,110)"/>
<rect x="220.4" y="707.1" width="0.8" height="0.8" fill="rgb(192,192,192)"/>
<rect x="217.0" y="694.0" width="0.8" height="0.8" fill="rgb(121,121,121)"/>
<rect x="219.2" y="698.5" width="0.8" height="0.8" fill="rgb(146,146,146)"/>
<rect x="219.6" y="683.1" width="0.8" height="0.8" fill="rgb(140,140,140)"/>
<rect x="212.8" y="689.5" width="0.8" height="0.8" fill="rgb(93,93,93)"/>
<rect x="215.1" y="682.6" width="0.8" height="0.8" fill="rgb(135,135,135)"/>
<rect x="215.1" y="692.6" width="0.8" height="0.8" fill="rgb(165,165,165)"/>
<rect x="214.3" y="691.3" width="0.8" height="0.8" fill="rgb(189,189,189)"/>
<rect x="213.1" y="693.8" width="0.8" height="0.8" fill="rgb(178,178,178)"/>
<rect x="216.1" y="682.5" width="0.8" height="0.8" fill="rgb(179,179,179)"/>
<rect x="222.2" y="683.8" width="0.8" height="0.8" fill="rgb(159,159,159)"/>
<rect x="221.1" y="696.3" width="0.8" height="0.8" fill="rgb(91,91,91)"/>
<rect x="215.7" y="687.1" width="0.8" height="0.8" fill="rgb(84,84,84)"/>
<rect x="220.8" y="677.1" width="0.8" height="0.8" fill="rgb(151,151,151)"/>
<rect x="218.9" y="698.5" width="0.8" height="0.8" fill="rgb(159,159,159)"/>
<rect x="220.6" y="694.6" width="0.8" height="0.8" fill="rgb(189,189,189)"/>
<rect x="217.0" y="678.3" width="0.8" height="0.8" fill="rgb(135,135,135)"/>
<rect x="215.6" y="691.4" width="0.8" height="0.8" fill="rgb(169,169,169)"/>
<rect x="222.3" y="703.5" width="0.8" height="0.8" fill="rgb(86,86,86)"/>
<rect x="222.4" y="695.5" width="0.8" height="0.8" fill="rgb(165,165,165)"/>
<rect x="217.8" y="694.8" width="0.8" height="0.8" fill="rgb(89,89,89)"/>
<rect x="215.1" y="705.5" width="0.8" height="0.8" fill="rgb(157,157,157)"/>
<rect x="217.8" y="687.8" width="0.8" height="0.8" fill="rgb(102,102,102)"/>
<rect x="213.6" y="701.5" width="0.8" height="0.8" fill="rgb(170,170,170)"/>
<rect x="216.3" y="695.5" width="0.8" height="0.8" fill="rgb(111,111,111)"/>
<rect x="213.9" y="694.6" width="0.8" height="0.8" fill="rgb(91,91,91)"/>
<rect x="216.8" y="705.1" width="0.8" height="0.8" fill="rgb(194,194,194)"/>
<rect x="216.5" y="684.2" width="0.8" height="0.8" fill="rgb(108,108,108)"/>
<rect x="220.3" y="689.1" width="0.8" height="0.8" fill="rgb(116,116,116)"/>
<rect x="217.1" y="684.0" width="0.8" height="0.8" fill="rgb(105,105,105)"/>
<rect x="216.9" y="687.8" width="0.8" height="0.8" fill="rgb(104,104,104)"/>
<rect x="219.5" y="687.3" width="0.8" height="0.8" fill="rgb(191,191,191)"/>
<rect x="217.9" y="685.3" width="0.8" height="0.8" fill="rgb(111,111,111)"/>
<rect x="220.0" y="693.7" width="0.8" height="0.8" fill="rgb(184,184,184)"/>
<rect x="218.4" y="691.7" width="0.8" height="0.8" fill="rgb(189,189,189)"/>
<rect x="215.4" y="687.4" width="0.8" height="0.8" fill="rgb(173,173,173)"/>
<rect x="199.8" y="706.3" width="0.8" height="0.8" fill="rgb(174,174,174)"/>
<rect x="199.1" y="706.8" width="0.8" height="0.8" fill="rgb(150,150,150)"/>
<rect x="204.3" y="706.2" width="0.8" height="0.8" fill="rgb(151,151,151)"/>
<rect x="200.9" y="706.4" width="0.8" height="0.8" fill="rgb(155,155,155)"/>
<rect x="209.9" y="705.8" width="0.8" height="0.8" fill="rgb(191,191,191)"/>
<rect x="200.6" y="707.7" width="0.8" height="0.8" fill="rgb(184,184,184)"/>
<rect x="204.0" y="706.8" width="0.8" height="0.8" fill="rgb(195,195,195)"/>
<rect x="196.8" y="707.4" width="0.8" height="0.8" fill="rgb(179,179,179)"/>
<rect x="207.5" y="707.1" width="0.8" height="0.8" fill="rgb(181,181,181)"/>
<rect x="202.9" y="706.0" width="0.8" height="0.8" fill="rgb(156,156,156)"/>
<rect x="208.1" y="706.9" width="0.8" height="0.8" fill="rgb(169,169,169)"/>
<rect x="201.5" y="706.4" width="0.8" height="0.8" fill="rgb(191,191,191)"/>
<rect x="193.0" y="708.0" width="0.8" height="0.8" fill="rgb(167,167,167)"/>
<rect x="200.5" y="708.3" width="0.8" height="0.8" fill="rgb(157,157,157)"/>
<rect x="194.6" y="708.3" width="0.8" height="0.8" fill="rgb(190,190,190)"/>
<rect x="202.0" y="706.7" width="0.8" height="0.8" fill="rgb(219,219,219)"/>
<rect x="199.1" y="706.8" width="0.8" height="0.8" fill="rgb(220,220,220)"/>
<rect x="212.0" y="706.7" width="0.8" height="0.8" fill="rgb(210,210,210)"/>
<rect x="201.8" y="705.6" width="0.8" height="0.8" fill="rgb(177,177,177)"/>
<rect x="199.4" y="706.2" width="0.8" height="0.8" fill="rgb(158,158,158)"/>
<rect x="203.6" y="707.4" width="0.8" height="0.8" fill="rgb(153,153,153)"/>
<rect x="200.9" y="706.9" width="0.8" height="0.8" fill="rgb(197,197,197)"/>
<rect x="201.7" y="707.1" width="0.8" height="0.8" fill="rgb(156,156,156)"/>
<rect x="201.8" y="707.8" width="0.8" height="0.8" fill="rgb(201,201,201)"/>
<rect x="197.9" y="707.8" width="0.8" height="0.8" fill="rgb(198,198,198)"/>
</g>
<g clip-path="url(#c4)">
<rect x="260.4" y="714.0" width="0.8" height="0.8" fill="rgb(210,210,210)"/>
<rect x="260.8" y="713.3" width="0.8" height="0.8" fill="rgb(189,189,189)"/>
<rect x="261.8" y="710.6" width="0.8" height="0.8" fill="rgb(163,163,163)"/>
<rect x="253.5" y="708.9" width="0.8" height="0.8" fill="rgb(216,216,216)"/>
<rect x="265.0" y="712.7" width="0.8" height="0.8" fill="rgb(151,151,151)"/>
<rect x="265.2" y="710.5" width="0.8" height="0.8" fill="rgb(176,176,176)"/>
<rect x="263.0" y="713.8" width="0.8" height="0.8" fill="rgb(165,165,165)"/>
<rect x="259.8" y="710.4" width="0.8" height="0.8" fill="rgb(209,209,209)"/>
<rect x="259.3" y="711.1" width="0.8" height="0.8" fill="rgb(166,166,166)"/>
<rect x="260.8" y="712.3" width="0.8" height="0.8" fill="rgb(217,217,217)"/>
<rect x="261.1" y="713.7" width="0.8" height="0.8" fill="rgb(195,195,195)"/>
<rect x="266.3" y="713.6" width="0.8" height="0.8" fill="rgb(157,157,157)"/>
<rect x="263.2" y="715.0" width="0.8" height="0.8" fill="rgb(205,205,205)"/>
<rect x="264.3" y="713.8" width="0.8" height="0.8" fill="rgb(159,159,159)"/>
<rect x="263.8" y="711.6" width="0.8" height="0.8" fill="rgb(188,188,188)"/>
<rect x="265.6" y="711.9" width="0.8" height="0.8" fill="rgb(173,173,173)"/>
<rect x="257.0" y="712.1" width="0.8" height="0.8" fill="rgb(151,151,151)"/>
<rect x="261.2" y="711.3" width="0.8" height="0.8" fill="rgb(198,198,198)"/>
<rect x="265.9" y="712.0" width="0.8" height="0.8" fill="rgb(171,171,171)"/>
<rect x="264.7" y="715.0" width="0.8" height="0.8" fill="rgb(220,220,220)"/>
<rect x="263.1" y="711.5" width="0.8" height="0.8" fill="rgb(196,196,196)"/>
<rect x="263.0" y="712.2" width="0.8" height="0.8" fill="rgb(214,214,214)"/>
<rect x="265.5" y="712.3" width="0.8" height="0.8" fill="rgb(177,177,177)"/>
<rect x="255.0" y="711.8" width="0.8" height="0.8" fill="rgb(177,177,177)"/>
<rect x="264.6" y="713.7" width="0.8" height="0.8" fill="rgb(153,153,153)"/>
<rect x="267.9" y="696.3" width="0.8" height="0.8" fill="rgb(196,196,196)"/>
<rect x="274.2" y="685.6" width="0.8" height="0.8" fill="rgb(193,193,193)"/>
<rect x="268.8" y="689.1" width="0.8" height="0.8" fill="rgb(185,185,185)"/>
<rect x="282.7" y="672.2" width="0.8" height="0.8" fill="rgb(225,225,225)"/>
<rect x="288.9" y="705.1" width="0.8" height="0.8" fill="rgb(214,214,214)"/>
<rect x="279.6" y="702.1" width="0.8" height="0.8" fill="rgb(191,191,191)"/>
<rect x="280.7" y="696.2" width="0.8" height="0.8" fill="rgb(192,192,192)"/>
<rect x="295.8" y="687.6" width="0.8" height="0.8" fill="rgb(187,187,187)"/>
<rect x="279.9" y="674.2" width="0.8" height="0.8" fill="rgb(225,225,225)"/>
<rect x="284.1" y="708.6" width="0.8" height="0.8" fill="rgb(207,207,207)"/>
<rect x="282.9" y="688.5" width="0.8" height="0.8" fill="rgb(180,180,180)"/>
<rect x="276.0" y="691.5" width="0.8" height="0.8" fill="rgb(184,184,184)"/>
<rect x="290.2" y="682.3" width="0.8" height="0.8" fill="rgb(206,206,206)"/>
<rect x="287.0" y="698.6" width="0.8" height="0.8" fill="rgb(220,220,220)"/>
<rect x="282.6" y="702.2" width="0.8" height="0.8" fill="rgb(206,206,206)"/>
</g>
<g clip-path="url(#c5)">
<ellipse cx="340" cy="677" rx="7" ry="5" fill="#ccc" opacity="0.7" transform="rotate(0 340 677)" filter="url(#b1)"/>
<ellipse cx="343" cy="688" rx="3.5" ry="9" fill="#bbb" opacity="0.7" transform="rotate(15 343 688)" filter="url(#b1)"/>
<ellipse cx="346" cy="680" rx="2.5" ry="3" fill="#999" opacity="0.7" transform="rotate(0 346 680)" filter="url(#b2)"/>
<rect x="341.5" y="675.0" width="0.8" height="0.8" fill="rgb(135,135,135)"/>
<rect x="342.7" y="686.0" width="0.8" height="0.8" fill="rgb(155,155,155)"/>
<rect x="337.2" y="675.7" width="0.8" height="0.8" fill="rgb(130,130,130)"/>
<rect x="336.7" y="674.7" width="0.8" height="0.8" fill="rgb(128,128,128)"/>
<rect x="342.8" y="681.3" width="0.8" height="0.8" fill="rgb(174,174,174)"/>
<rect x="339.2" y="682.0" width="0.8" height="0.8" fill="rgb(166,166,166)"/>
<rect x="341.9" y="672.7" width="0.8" height="0.8" fill="rgb(170,170,170)"/>
<rect x="347.4" y="676.5" width="0.8" height="0.8" fill="rgb(135,135,135)"/>
<rect x="334.0" y="678.8" width="0.8" height="0.8" fill="rgb(174,174,174)"/>
<rect x="342.1" y="679.4" width="0.8" height="0.8" fill="rgb(199,199,199)"/>
<rect x="339.3" y="679.0" width="0.8" height="0.8" fill="rgb(122,122,122)"/>
<rect x="337.2" y="681.3" width="0.8" height="0.8" fill="rgb(155,155,155)"/>
<rect x="337.8" y="670.6" width="0.8" height="0.8" fill="rgb(192,192,192)"/>
<rect x="347.9" y="684.5" width="0.8" height="0.8" fill="rgb(183,183,183)"/>
<rect x="339.3" y="677.7" width="0.8" height="0.8" fill="rgb(210,210,210)"/>
<rect x="340.2" y="674.3" width="0.8" height="0.8" fill="rgb(190,190,190)"/>
<rect x="338.9" y="672.1" width="0.8" height="0.8" fill="rgb(165,165,165)"/>
<rect x="338.4" y="676.4" width="0.8" height="0.8" fill="rgb(193,193,193)"/>
<rect x="335.9" y="672.4" width="0.8" height="0.8" fill="rgb(197,197,197)"/>
<rect x="344.5" y="681.0" width="0.8" height="0.8" fill="rgb(161,161,161)"/>
<rect x="343.0" y="672.8" width="0.8" height="0.8" fill="rgb(196,196,196)"/>
<rect x="343.0" y="685.1" width="0.8" height="0.8" fill="rgb(130,130,130)"/>
<rect x="335.2" y="676.8" width="0.8" height="0.8" fill="rgb(133,133,133)"/>
<rect x="340.3" y="680.1" width="0.8" height="0.8" fill="rgb(212,212,212)"/>
<rect x="349.2" y="677.2" width="0.8" height="0.8" fill="rgb(213,213,213)"/>
<rect x="334.0" y="678.6" width="0.8" height="0.8" fill="rgb(156,156,156)"/>
<rect x="339.8" y="677.9" width="0.8" height="0.8" fill="rgb(180,180,180)"/>
<rect x="327.5" y="676.2" width="0.8" height="0.8" fill="rgb(191,191,191)"/>
<rect x="343.8" y="677.2" width="0.8" height="0.8" fill="rgb(142,142,142)"/>
<rect x="334.8" y="681.6" width="0.8" height="0.8" fill="rgb(210,210,210)"/>
<rect x="341.7" y="677.4" width="0.8" height="0.8" fill="rgb(212,212,212)"/>
<rect x="336.7" y="680.5" width="0.8" height="0.8" fill="rgb(190,190,190)"/>
<rect x="336.3" y="677.2" width="0.8" height="0.8" fill="rgb(152,152,152)"/>
<rect x="339.3" y="682.5" width="0.8" height="0.8" fill="rgb(198,198,198)"/>
<rect x="339.3" y="679.1" width="0.8" height="0.8" fill="rgb(136,136,136)"/>
<rect x="351.1" y="680.6" width="0.8" height="0.8" fill="rgb(128,128,128)"/>
<rect x="339.4" y="680.6" width="0.8" height="0.8" fill="rgb(165,165,165)"/>
<rect x="340.2" y="684.5" width="0.8" height="0.8" fill="rgb(202,202,202)"/>
<rect x="343.4" y="676.9" width="0.8" height="0.8" fill="rgb(128,128,128)"/>
<rect x="328.1" y="675.2" width="0.8" height="0.8" fill="rgb(121,121,121)"/>
<rect x="341.5" y="675.8" width="0.8" height="0.8" fill="rgb(134,134,134)"/>
<rect x="347.8" y="679.2" width="0.8" height="0.8" fill="rgb(203,203,203)"/>
<rect x="339.0" y="679.2" width="0.8" height="0.8" fill="rgb(200,200,200)"/>
<rect x="341.2" y="672.6" width="0.8" height="0.8" fill="rgb(148,148,148)"/>
<rect x="343.0" y="678.3" width="0.8" height="0.8" fill="rgb(125,125,125)"/>
<rect x="346.2" y="678.9" width="0.8" height="0.8" fill="rgb(198,198,198)"/>
<rect x="339.0" y="676.6" width="0.8" height="0.8" fill="rgb(130,130,130)"/>
<rect x="344.1" y="679.7" width="0.8" height="0.8" fill="rgb(155,155,155)"/>
<rect x="333.6" y="668.7" width="0.8" height="0.8" fill="rgb(156,156,156)"/>
<rect x="349.6" y="683.4" width="0.8" height="0.8" fill="rgb(151,151,151)"/>
<rect x="337.4" y="679.9" width="0.8" height="0.8" fill="rgb(139,139,139)"/>
<rect x="339.7" y="678.1" width="0.8" height="0.8" fill="rgb(196,196,196)"/>
<rect x="340.0" y="675.6" width="0.8" height="0.8" fill="rgb(133,133,133)"/>
<rect x="349.3" y="673.6" width="0.8" height="0.8" fill="rgb(190,190,190)"/>
<rect x="340.8" y="676.6" width="0.8" height="0.8" fill="rgb(177,177,177)"/>
<rect x="331.6" y="672.0" width="0.8" height="0.8" fill="rgb(210,210,210)"/>
<rect x="331.1" y="680.6" width="0.8" height="0.8" fill="rgb(183,183,183)"/>
<rect x="347.4" y="678.4" width="0.8" height="0.8" fill="rgb(112,112,112)"/>
<rect x="336.6" y="675.8" width="0.8" height="0.8" fill="rgb(160,160,160)"/>
<rect x="337.6" y="677.8" width="0.8" height="0.8" fill="rgb(116,116,116)"/>
<rect x="347.6" y="675.4" width="0.8" height="0.8" fill="rgb(128,128,128)"/>
<rect x="331.8" y="678.1" width="0.8" height="0.8" fill="rgb(130,130,130)"/>
<rect x="340.8" y="677.6" width="0.8" height="0.8" fill="rgb(212,212,212)"/>
<rect x="349.3" y="675.1" width="0.8" height="0.8" fill="rgb(110,110,110)"/>
<rect x="344.2" y="674.9" width="0.8" height="0.8" fill="rgb(200,200,200)"/>
<rect x="337.2" y="673.5" width="0.8" height="0.8" fill="rgb(203,203,203)"/>
<rect x="338.2" y="674.9" width="0.8" height="0.8" fill="rgb(171,171,171)"/>
<rect x="354.3" y="675.5" width="0.8" height="0.8" fill="rgb(188,188,188)"/>
<rect x="347.7" y="685.2" width="0.8" height="0.8" fill="rgb(134,134,134)"/>
<rect x="339.5" y="686.6" width="0.8" height="0.8" fill="rgb(211,211,211)"/>
<rect x="336.7" y="673.3" width="0.8" height="0.8" fill="rgb(110,110,110)"/>
<rect x="350.1" y="677.6" width="0.8" height="0.8" fill="rgb(150,150,150)"/>
<rect x="336.2" y="674.0" width="0.8" height="0.8" fill="rgb(212,212,212)"/>
<rect x="338.3" y="676.5" width="0.8" height="0.8" fill="rgb(179,179,179)"/>
<rect x="336.2" y="678.2" width="0.8" height="0.8" fill="rgb(120,120,120)"/>
<rect x="329.7" y="678.4" width="0.8" height="0.8" fill="rgb(115,115,115)"/>
<rect x="347.0" y="683.5" width="0.8" height="0.8" fill="rgb(183,183,183)"/>
<rect x="336.7" y="679.7" width="0.8" height="0.8" fill="rgb(174,174,174)"/>
<rect x="328.5" y="682.1" width="0.8" height="0.8" fill="rgb(121,121,121)"/>
<rect x="338.3" y="676.9" width="0.8" height="0.8" fill="rgb(158,158,158)"/>
<rect x="340.5" y="679.9" width="0.8" height="0.8" fill="rgb(165,165,165)"/>
<rect x="332.0" y="680.3" width="0.8" height="0.8" fill="rgb(142,142,142)"/>
<rect x="346.7" y="680.1" width="0.8" height="0.8" fill="rgb(157,157,157)"/>
<rect x="346.7" y="680.7" width="0.8" height="0.8" fill="rgb(202,202,202)"/>
<rect x="340.3" y="679.4" width="0.8" height="0.8" fill="rgb(143,143,143)"/>
<rect x="340.0" y="681.8" width="0.8" height="0.8" fill="rgb(175,175,175)"/>
<rect x="360.7" y="673.1" width="0.8" height="0.8" fill="rgb(164,164,164)"/>
<rect x="342.1" y="671.9" width="0.8" height="0.8" fill="rgb(192,192,192)"/>
<rect x="341.4" y="673.6" width="0.8" height="0.8" fill="rgb(150,150,150)"/>
<rect x="329.1" y="683.7" width="0.8" height="0.8" fill="rgb(170,170,170)"/>
<rect x="343.4" y="689.3" width="0.8" height="0.8" fill="rgb(207,207,207)"/>
<rect x="345.3" y="700.7" width="0.8" height="0.8" fill="rgb(106,106,106)"/>
<rect x="337.7" y="679.2" width="0.8" height="0.8" fill="rgb(194,194,194)"/>
<rect x="342.4" y="685.2" width="0.8" height="0.8" fill="rgb(181,181,181)"/>
<rect x="346.0" y="675.7" width="0.8" height="0.8" fill="rgb(133,133,133)"/>
<rect x="342.8" y="687.9" width="0.8" height="0.8" fill="rgb(161,161,161)"/>
<rect x="343.7" y="690.6" width="0.8" height="0.8" fill="rgb(201,201,201)"/>
<rect x="343.1" y="688.5" width="0.8" height="0.8" fill="rgb(159,159,159)"/>
<rect x="337.6" y="679.1" width="0.8" height="0.8" fill="rgb(110,110,110)"/>
<rect x="342.1" y="681.8" width="0.8" height="0.8" fill="rgb(177,177,177)"/>
<rect x="343.1" y="694.5" width="0.8" height="0.8" fill="rgb(204,204,204)"/>
<rect x="342.7" y="677.1" width="0.8" height="0.8" fill="rgb(207,207,207)"/>
<rect x="339.8" y="690.0" width="0.8" height="0.8" fill="rgb(120,120,120)"/>
<rect x="344.3" y="686.5" width="0.8" height="0.8" fill="rgb(209,209,209)"/>
<rect x="343.0" y="683.3" width="0.8" height="0.8" fill="rgb(107,107,107)"/>
<rect x="343.7" y="709.3" width="0.8" height="0.8" fill="rgb(178,178,178)"/>
<rect x="339.4" y="717.1" width="0.8" height="0.8" fill="rgb(108,108,108)"/>
<rect x="340.0" y="681.9" width="0.8" height="0.8" fill="rgb(209,209,209)"/>
<rect x="344.5" y="688.8" width="0.8" height="0.8" fill="rgb(153,153,153)"/>
<rect x="347.2" y="681.6" width="0.8" height="0.8" fill="rgb(187,187,187)"/>
<rect x="345.2" y="693.3" width="0.8" height="0.8" fill="rgb(183,183,183)"/>
<rect x="337.1" y="693.8" width="0.8" height="0.8" fill="rgb(125,125,125)"/>
<rect x="344.1" y="687.5" width="0.8" height="0.8" fill="rgb(187,187,187)"/>
<rect x="344.4" y="695.4" width="0.8" height="0.8" fill="rgb(213,213,213)"/>
<rect x="343.3" y="694.2" width="0.8" height="0.8" fill="rgb(160,160,160)"/>
<rect x="335.6" y="694.0" width="0.8" height="0.8" fill="rgb(172,172,172)"/>
<rect x="339.9" y="698.5" width="0.8" height="0.8" fill="rgb(197,197,197)"/>
<rect x="345.1" y="688.7" width="0.8" height="0.8" fill="rgb(143,143,143)"/>
<rect x="344.7" y="684.3" width="0.8" height="0.8" fill="rgb(114,114,114)"/>
<rect x="344.1" y="689.4" width="0.8" height="0.8" fill="rgb(174,174,174)"/>
<rect x="342.0" y="697.9" width="0.8" height="0.8" fill="rgb(173,173,173)"/>
<rect x="340.0" y="687.7" width="0.8" height="0.8" fill="rgb(103,103,103)"/>
<rect x="341.1" y="699.1" width="0.8" height="0.8" fill="rgb(136,136,136)"/>
<rect x="339.7" y="692.4" width="0.8" height="0.8" fill="rgb(199,199,199)"/>
<rect x="346.8" y="685.6" width="0.8" height="0.8" fill="rgb(146,146,146)"/>
<rect x="335.6" y="692.5" width="0.8" height="0.8" fill="rgb(125,125,125)"/>
<rect x="336.7" y="685.2" width="0.8" height="0.8" fill="rgb(185,185,185)"/>
<rect x="343.4" y="695.2" width="0.8" height="0.8" fill="rgb(124,124,124)"/>
<rect x="340.0" y="712.6" width="0.8" height="0.8" fill="rgb(131,131,131)"/>
<rect x="341.5" y="678.4" width="0.8" height="0.8" fill="rgb(153,153,153)"/>
<rect x="346.3" y="690.7" width="0.8" height="0.8" fill="rgb(126,126,126)"/>
<rect x="338.1" y="688.8" width="0.8" height="0.8" fill="rgb(196,196,196)"/>
<rect x="344.8" y="678.6" width="0.8" height="0.8" fill="rgb(187,187,187)"/>
<rect x="342.2" y="694.0" width="0.8" height="0.8" fill="rgb(124,124,124)"/>
<rect x="340.4" y="677.2" width="0.8" height="0.8" fill="rgb(100,100,100)"/>
<rect x="341.7" y="714.3" width="0.8" height="0.8" fill="rgb(111,111,111)"/>
<rect x="345.1" y="688.5" width="0.8" height="0.8" fill="rgb(172,172,172)"/>
<rect x="341.2" y="679.9" width="0.8" height="0.8" fill="rgb(144,144,144)"/>
<rect x="345.8" y="683.1" width="0.8" height="0.8" fill="rgb(205,205,205)"/>
<rect x="344.2" y="700.6" width="0.8" height="0.8" fill="rgb(122,122,122)"/>
<rect x="344.3" y="686.4" width="0.8" height="0.8" fill="rgb(126,126,126)"/>
<rect x="344.7" y="687.1" width="0.8" height="0.8" fill="rgb(212,212,212)"/>
<rect x="342.0" y="667.5" width="0.8" height="0.8" fill="rgb(186,186,186)"/>
<rect x="345.5" y="688.1" width="0.8" height="0.8" fill="rgb(189,189,189)"/>
<rect x="346.5" y="692.0" width="0.8" height="0.8" fill="rgb(189,189,189)"/>
<rect x="343.9" y="689.5" width="0.8" height="0.8" fill="rgb(195,195,195)"/>
<rect x="345.3" y="683.2" width="0.8" height="0.8" fill="rgb(154,154,154)"/>
<rect x="339.6" y="700.0" width="0.8" height="0.8" fill="rgb(103,103,103)"/>
<rect x="352.0" y="688.9" width="0.8" height="0.8" fill="rgb(179,179,179)"/>
<rect x="339.6" y="688.3" width="0.8" height="0.8" fill="rgb(147,147,147)"/>
<rect x="341.9" y="678.7" width="0.8" height="0.8" fill="rgb(145,145,145)"/>
<rect x="345.0" y="685.8" width="0.8" height="0.8" fill="rgb(169,169,169)"/>
<rect x="343.6" y="694.1" width="0.8" height="0.8" fill="rgb(119,119,119)"/>
<rect x="346.6" y="700.3" width="0.8" height="0.8" fill="rgb(115,115,115)"/>
<rect x="344.4" y="699.0" width="0.8" height="0.8" fill="rgb(173,173,173)"/>
<rect x="345.4" y="696.0" width="0.8" height="0.8" fill="rgb(159,159,159)"/>
<rect x="342.0" y="689.6" width="0.8" height="0.8" fill="rgb(107,107,107)"/>
<rect x="342.6" y="694.9" width="0.8" height="0.8" fill="rgb(196,196,196)"/>
<rect x="348.9" y="690.7" width="0.8" height="0.8" fill="rgb(145,145,145)"/>
<rect x="342.6" y="694.0" width="0.8" height="0.8" fill="rgb(161,161,161)"/>
<rect x="339.8" y="684.9" width="0.8" height="0.8" fill="rgb(160,160,160)"/>
<rect x="342.7" y="683.6" width="0.8" height="0.8" fill="rgb(185,185,185)"/>
<rect x="343.4" y="689.9" width="0.8" height="0.8" fill="rgb(164,164,164)"/>
<rect x="342.6" y="692.5" width="0.8" height="0.8" fill="rgb(123,123,123)"/>
<rect x="343.2" y="696.6" width="0.8" height="0.8" fill="rgb(199,199,199)"/>
<rect x="341.9" y="693.4" width="0.8" height="0.8" fill="rgb(183,183,183)"/>
<rect x="346.9" y="697.2" width="0.8" height="0.8" fill="rgb(109,109,109)"/>
<rect x="335.5" y="688.4" width="0.8" height="0.8" fill="rgb(131,131,131)"/>
<rect x="341.8" y="684.9" width="0.8" height="0.8" fill="rgb(155,155,155)"/>
<rect x="339.5" y="707.6" width="0.8" height="0.8" fill="rgb(190,190,190)"/>
<rect x="335.6" y="688.2" width="0.8" height="0.8" fill="rgb(175,175,175)"/>
<rect x="344.0" y="691.3" width="0.8" height="0.8" fill="rgb(208,208,208)"/>
<rect x="342.0" y="675.2" width="0.8" height="0.8" fill="rgb(204,204,204)"/>
<rect x="341.8" y="687.8" width="0.8" height="0.8" fill="rgb(164,164,164)"/>
<rect x="343.4" y="690.7" width="0.8" height="0.8" fill="rgb(166,166,166)"/>
<rect x="342.3" y="675.7" width="0.8" height="0.8" fill="rgb(165,165,165)"/>
<rect x="340.7" y="693.7" width="0.8" height="0.8" fill="rgb(126,126,126)"/>
<rect x="338.5" y="695.4" width="0.8" height="0.8" fill="rgb(111,111,111)"/>
<rect x="342.7" y="700.1" width="0.8" height="0.8" fill="rgb(189,189,189)"/>
<rect x="343.0" y="698.9" width="0.8" height="0.8" fill="rgb(125,125,125)"/>
<rect x="339.4" y="696.1" width="0.8" height="0.8" fill="rgb(136,136,136)"/>
<rect x="345.2" y="689.7" width="0.8" height="0.8" fill="rgb(134,134,134)"/>
<rect x="341.1" y="683.2" width="0.8" height="0.8" fill="rgb(104,104,104)"/>
<rect x="338.8" y="698.0" width="0.8" height="0.8" fill="rgb(155,155,155)"/>
<rect x="343.6" y="691.6" width="0.8" height="0.8" fill="rgb(107,107,107)"/>
<rect x="333.7" y="682.7" width="0.8" height="0.8" fill="rgb(180,180,180)"/>
<rect x="345.4" y="696.2" width="0.8" height="0.8" fill="rgb(162,162,162)"/>
<rect x="342.5" y="694.1" width="0.8" height="0.8" fill="rgb(163,163,163)"/>
<rect x="339.5" y="686.2" width="0.8" height="0.8" fill="rgb(108,108,108)"/>
<rect x="347.5" y="683.3" width="0.8" height="0.8" fill="rgb(160,160,160)"/>
<rect x="329.3" y="708.3" width="0.8" height="0.8" fill="rgb(187,187,187)"/>
<rect x="333.3" y="709.1" width="0.8" height="0.8" fill="rgb(204,204,204)"/>
<rect x="333.8" y="710.7" width="0.8" height="0.8" fill="rgb(206,206,206)"/>
<rect x="335.6" y="708.4" width="0.8" height="0.8" fill="rgb(211,211,211)"/>
<rect x="336.0" y="708.8" width="0.8" height="0.8" fill="rgb(175,175,175)"/>
<rect x="334.2" y="708.4" width="0.8" height="0.8" fill="rgb(206,206,206)"/>
<rect x="327.7" y="708.6" width="0.8" height="0.8" fill="rgb(213,213,213)"/>
<rect x="322.7" y="709.2" width="0.8" height="0.8" fill="rgb(177,177,177)"/>
<rect x="330.8" y="708.9" width="0.8" height="0.8" fill="rgb(171,171,171)"/>
<rect x="330.2" y="708.0" width="0.8" height="0.8" fill="rgb(206,206,206)"/>
<rect x="324.7" y="708.3" width="0.8" height="0.8" fill="rgb(218,218,218)"/>
<rect x="333.7" y="709.7" width="0.8" height="0.8" fill="rgb(205,205,205)"/>
<rect x="334.7" y="709.2" width="0.8" height="0.8" fill="rgb(165,165,165)"/>
<rect x="327.8" y="707.9" width="0.8" height="0.8" fill="rgb(162,162,162)"/>
<rect x="329.5" y="707.7" width="0.8" height="0.8" fill="rgb(179,179,179)"/>
<rect x="332.4" y="708.0" width="0.8" height="0.8" fill="rgb(218,218,218)"/>
<rect x="328.0" y="706.7" width="0.8" height="0.8" fill="rgb(219,219,219)"/>
<rect x="316.8" y="706.6" width="0.8" height="0.8" fill="rgb(201,201,201)"/>
<rect x="330.1" y="706.1" width="0.8" height="0.8" fill="rgb(194,194,194)"/>
<rect x="330.0" y="709.1" width="0.8" height="0.8" fill="rgb(190,190,190)"/>
</g>
<rect x="189.4" y="593.5" width="52.69999999999999" height="53.60000000000002" fill="none" stroke="#606060" stroke-width="1.2"/>
<line x1="189.4" y1="595.5" x2="189.4" y2="647.7" stroke="#2a2a2a" stroke-width="1.3"/>
<line x1="188.8" y1="647.1" x2="240.1" y2="647.1" stroke="#2a2a2a" stroke-width="1.3"/>
<path d="M187.8,599.5h1.6M195.3,647.1v1.6M187.8,605.4h1.6M201.1,647.1v1.6M187.8,611.4h1.6M207.0,647.1v1.6M187.8,617.3h1.6M212.8,647.1v1.6M187.8,623.3h1.6M218.7,647.1v1.6M187.8,629.2h1.6M224.5,647.1v1.6M187.8,635.2h1.6M230.4,647.1v1.6M187.8,641.1h1.6M236.2,647.1v1.6" stroke="#333" stroke-width="0.9" fill="none"/>
<rect x="253.5" y="594.4" width="52.5" height="52.700000000000045" fill="none" stroke="#606060" stroke-width="1.2"/>
<line x1="253.5" y1="596.4" x2="253.5" y2="647.7" stroke="#2a2a2a" stroke-width="1.3"/>
<line x1="252.9" y1="647.1" x2="304.0" y2="647.1" stroke="#2a2a2a" stroke-width="1.3"/>
<path d="M251.9,600.3h1.6M259.3,647.1v1.6M251.9,606.1h1.6M265.2,647.1v1.6M251.9,612.0h1.6M271.0,647.1v1.6M251.9,617.8h1.6M276.8,647.1v1.6M251.9,623.7h1.6M282.7,647.1v1.6M251.9,629.5h1.6M288.5,647.1v1.6M251.9,635.4h1.6M294.3,647.1v1.6M251.9,641.2h1.6M300.2,647.1v1.6" stroke="#333" stroke-width="0.9" fill="none"/>
<rect x="316.0" y="595.2" width="52.5" height="51.89999999999998" fill="none" stroke="#606060" stroke-width="1.2"/>
<line x1="316.0" y1="597.2" x2="316.0" y2="647.7" stroke="#2a2a2a" stroke-width="1.3"/>
<line x1="315.4" y1="647.1" x2="366.5" y2="647.1" stroke="#2a2a2a" stroke-width="1.3"/>
<path d="M314.4,601.0h1.6M321.8,647.1v1.6M314.4,606.7h1.6M327.7,647.1v1.6M314.4,612.5h1.6M333.5,647.1v1.6M314.4,618.3h1.6M339.3,647.1v1.6M314.4,624.0h1.6M345.2,647.1v1.6M314.4,629.8h1.6M351.0,647.1v1.6M314.4,635.6h1.6M356.8,647.1v1.6M314.4,641.3h1.6M362.7,647.1v1.6" stroke="#333" stroke-width="0.9" fill="none"/>
<rect x="189.4" y="663.5" width="52.69999999999999" height="53.200000000000045" fill="none" stroke="#606060" stroke-width="1.2"/>
<line x1="189.4" y1="665.5" x2="189.4" y2="717.3000000000001" stroke="#2a2a2a" stroke-width="1.3"/>
<line x1="188.8" y1="716.7" x2="240.1" y2="716.7" stroke="#2a2a2a" stroke-width="1.3"/>
<path d="M187.8,669.4h1.6M195.3,716.7v1.6M187.8,675.3h1.6M201.1,716.7v1.6M187.8,681.2h1.6M207.0,716.7v1.6M187.8,687.1h1.6M212.8,716.7v1.6M187.8,693.1h1.6M218.7,716.7v1.6M187.8,699.0h1.6M224.5,716.7v1.6M187.8,704.9h1.6M230.4,716.7v1.6M187.8,710.8h1.6M236.2,716.7v1.6" stroke="#333" stroke-width="0.9" fill="none"/>
<rect x="253.3" y="663.5" width="53.0" height="53.5" fill="none" stroke="#606060" stroke-width="1.2"/>
<line x1="253.3" y1="665.5" x2="253.3" y2="717.6" stroke="#2a2a2a" stroke-width="1.3"/>
<line x1="252.70000000000002" y1="717.0" x2="304.3" y2="717.0" stroke="#2a2a2a" stroke-width="1.3"/>
<path d="M251.7,669.4h1.6M259.2,717.0v1.6M251.7,675.4h1.6M265.1,717.0v1.6M251.7,681.3h1.6M271.0,717.0v1.6M251.7,687.3h1.6M276.9,717.0v1.6M251.7,693.2h1.6M282.7,717.0v1.6M251.7,699.2h1.6M288.6,717.0v1.6M251.7,705.1h1.6M294.5,717.0v1.6M251.7,711.1h1.6M300.4,717.0v1.6" stroke="#333" stroke-width="0.9" fill="none"/>
<rect x="315.6" y="663.5" width="52.89999999999998" height="53.60000000000002" fill="none" stroke="#606060" stroke-width="1.2"/>
<line x1="315.6" y1="665.5" x2="315.6" y2="717.7" stroke="#2a2a2a" stroke-width="1.3"/>
<line x1="315.0" y1="717.1" x2="366.5" y2="717.1" stroke="#2a2a2a" stroke-width="1.3"/>
<path d="M314.0,669.5h1.6M321.5,717.1v1.6M314.0,675.4h1.6M327.4,717.1v1.6M314.0,681.4h1.6M333.2,717.1v1.6M314.0,687.3h1.6M339.1,717.1v1.6M314.0,693.3h1.6M345.0,717.1v1.6M314.0,699.2h1.6M350.9,717.1v1.6M314.0,705.2h1.6M356.7,717.1v1.6M314.0,711.1h1.6M362.6,717.1v1.6" stroke="#333" stroke-width="0.9" fill="none"/>
<rect x="191.0" y="596.3" width="18.80000000000001" height="21.200000000000045" fill="none" stroke="#3030bc" stroke-width="1.5"/>
<text x="212.6" y="607.0" font-size="10.2" font-weight="bold" fill="#2626aa">36.7%</text>
<line x1="209.8" y1="609.0" x2="232.1" y2="609.0" stroke="#3030bc" stroke-width="1.0"/>
<line x1="232.1" y1="609.0" x2="232.1" y2="667" stroke="#3030bc" stroke-width="1.1"/>
<polygon points="228.80,666.80 235.40,666.80 232.10,672.80" fill="#3030bc"/>
<rect x="254.4" y="596.7" width="20.099999999999994" height="21.0" fill="none" stroke="#3030bc" stroke-width="1.5"/>
<text x="275.4" y="607.0" font-size="10.2" font-weight="bold" fill="#2626aa">0.71%</text>
<line x1="274.5" y1="609.0" x2="297.3" y2="609.0" stroke="#3030bc" stroke-width="1.0"/>
<line x1="297.3" y1="609.0" x2="297.3" y2="667" stroke="#3030bc" stroke-width="1.1"/>
<polygon points="294.00,666.80 300.60,666.80 297.30,672.80" fill="#3030bc"/>
<rect x="316.6" y="595.8" width="20.0" height="21.700000000000045" fill="none" stroke="#3030bc" stroke-width="1.5"/>
<text x="337.7" y="607.0" font-size="10.2" font-weight="bold" fill="#2626aa">45.6%</text>
<line x1="336.6" y1="609.0" x2="358.9" y2="609.0" stroke="#3030bc" stroke-width="1.0"/>
<line x1="358.9" y1="609.0" x2="358.9" y2="667" stroke="#3030bc" stroke-width="1.1"/>
<polygon points="355.60,666.80 362.20,666.80 358.90,672.80" fill="#3030bc"/>
<rect x="199.1" y="664.8" width="26.5" height="41.4" fill="none" stroke="#3030bc" stroke-width="1.5"/>
<text x="211.6" y="714.8" font-size="10.2" font-weight="bold" fill="#2626aa">77.6%</text>
<rect x="328.2" y="664.0" width="27.4" height="40.4" fill="none" stroke="#3030bc" stroke-width="1.5"/>
<text x="337.8" y="713.8" font-size="10.2" font-weight="bold" fill="#2626aa">78.2%</text>
<text x="179.2" y="618.1" font-size="13.0" text-anchor="middle" transform="rotate(-90 179.2 618.1)" textLength="31.3" lengthAdjust="spacingAndGlyphs" stroke="#000" stroke-width="0.3">CD71</text>
<text x="178.6" y="684.3" font-size="12.8" text-anchor="middle" transform="rotate(-90 178.6 684.3)" textLength="26.8" lengthAdjust="spacingAndGlyphs" stroke="#000" stroke-width="0.3">GlyA</text>
<polygon points="171.40,648.80 179.80,648.80 175.60,638.10" fill="#000"/>
<line x1="175.6" y1="647.8" x2="175.6" y2="658.45" stroke="#111" stroke-width="1.7"/>
<line x1="174.75" y1="657.6" x2="186.3" y2="657.6" stroke="#111" stroke-width="1.7"/>
<polygon points="184.60,653.40 184.60,661.80 195.30,657.60" fill="#000"/>
<polygon points="171.40,715.20 179.80,715.20 175.60,704.40" fill="#000"/>
<line x1="175.6" y1="714.2" x2="175.6" y2="724.75" stroke="#111" stroke-width="1.7"/>
<line x1="174.75" y1="723.9" x2="186.3" y2="723.9" stroke="#111" stroke-width="1.7"/>
<polygon points="184.50,719.70 184.50,728.10 195.30,723.90" fill="#000"/>
<text x="196.0" y="659.3" font-size="13.4" stroke="#000" stroke-width="0.3">CD34</text>
<text x="196.0" y="728.3" font-size="13.4" stroke="#000" stroke-width="0.3">CD36</text>
<text x="462.4" y="579.8" font-size="15.4" text-anchor="middle" stroke="#000" stroke-width="0.3">Erythroblasts</text>
<line x1="415.4" y1="604.2" x2="415.4" y2="662.9" stroke="#111" stroke-width="1.8"/>
<line x1="411.4" y1="605.2" x2="415.4" y2="605.2" stroke="#111" stroke-width="1.8"/>
<text x="410.8" y="608.9000000000001" font-size="10.5" text-anchor="end" font-weight="bold">50</text>
<line x1="411.4" y1="617.225" x2="415.4" y2="617.225" stroke="#111" stroke-width="1.8"/>
<text x="410.8" y="620.9250000000001" font-size="10.5" text-anchor="end" font-weight="bold">40</text>
<line x1="411.4" y1="629.25" x2="415.4" y2="629.25" stroke="#111" stroke-width="1.8"/>
<text x="410.8" y="632.95" font-size="10.5" text-anchor="end" font-weight="bold">30</text>
<line x1="411.4" y1="641.2750000000001" x2="415.4" y2="641.2750000000001" stroke="#111" stroke-width="1.8"/>
<text x="410.8" y="644.9750000000001" font-size="10.5" text-anchor="end" font-weight="bold">20</text>
<line x1="411.4" y1="653.3000000000001" x2="415.4" y2="653.3000000000001" stroke="#111" stroke-width="1.8"/>
<text x="410.8" y="657.0000000000001" font-size="10.5" text-anchor="end" font-weight="bold">10</text>
<line x1="411.4" y1="662.9" x2="415.4" y2="662.9" stroke="#111" stroke-width="1.8"/>
<line x1="415.4" y1="671.1" x2="415.4" y2="707" stroke="#111" stroke-width="1.8"/>
<line x1="411.4" y1="671.3" x2="415.4" y2="671.3" stroke="#111" stroke-width="1.8"/>
<line x1="411.4" y1="677.4" x2="415.4" y2="677.4" stroke="#111" stroke-width="1.8"/>
<text x="410.8" y="681.1" font-size="10.5" text-anchor="end" font-weight="bold">0.8</text>
<line x1="411.4" y1="691.8" x2="415.4" y2="691.8" stroke="#111" stroke-width="1.8"/>
<text x="410.8" y="695.5" font-size="10.5" text-anchor="end" font-weight="bold">0.4</text>
<line x1="411.4" y1="705.5" x2="415.4" y2="705.5" stroke="#111" stroke-width="1.8"/>
<text x="410.8" y="709.2" font-size="10.5" text-anchor="end" font-weight="bold">0.0</text>
<line x1="414.5" y1="706.2" x2="520" y2="706.2" stroke="#111" stroke-width="1.8"/>
<line x1="433.5" y1="706.2" x2="433.5" y2="710.2" stroke="#111" stroke-width="1.8"/>
<line x1="467.1" y1="706.2" x2="467.1" y2="710.2" stroke="#111" stroke-width="1.8"/>
<line x1="502.0" y1="706.2" x2="502.0" y2="710.2" stroke="#111" stroke-width="1.8"/>
<circle cx="433" cy="611.3" r="2.2" fill="#1616b8"/>
<circle cx="427.5" cy="629.3" r="2.2" fill="#1616b8"/>
<circle cx="439.5" cy="625.7" r="2.2" fill="#1616b8"/>
<circle cx="433.5" cy="631.7" r="2.2" fill="#1616b8"/>
<circle cx="433.5" cy="637.2" r="2.2" fill="#1616b8"/>
<circle cx="427.5" cy="644.4" r="2.2" fill="#1616b8"/>
<circle cx="437" cy="650.9" r="2.2" fill="#1616b8"/>
<circle cx="429.9" cy="652.6" r="2.2" fill="#1616b8"/>
<line x1="433.5" y1="629.3" x2="433.5" y2="638.9" stroke="#1616b8" stroke-width="1.5"/>
<line x1="428.5" y1="629.3" x2="438.5" y2="629.3" stroke="#1616b8" stroke-width="1.5"/>
<line x1="428.5" y1="638.9" x2="438.5" y2="638.9" stroke="#1616b8" stroke-width="1.5"/>
<line x1="423.0" y1="634.8" x2="444.0" y2="634.8" stroke="#000" stroke-width="1.9"/>
<polygon points="499.70,626.75 504.30,626.75 502.00,622.50" fill="#e42020"/>
<polygon points="495.70,630.96 500.30,630.96 498.00,626.70" fill="#e42020"/>
<polygon points="503.70,630.96 508.30,630.96 506.00,626.70" fill="#e42020"/>
<polygon points="499.70,632.96 504.30,632.96 502.00,628.70" fill="#e42020"/>
<polygon points="495.20,634.16 499.80,634.16 497.50,629.90" fill="#e42020"/>
<polygon points="504.20,634.16 508.80,634.16 506.50,629.90" fill="#e42020"/>
<polygon points="499.70,629.46 504.30,629.46 502.00,625.20" fill="#e42020"/>
<line x1="502" y1="628.4" x2="502" y2="631.4" stroke="#e42020" stroke-width="1.5"/>
<line x1="497.0" y1="628.4" x2="507.0" y2="628.4" stroke="#e42020" stroke-width="1.5"/>
<line x1="497.0" y1="631.4" x2="507.0" y2="631.4" stroke="#e42020" stroke-width="1.5"/>
<line x1="491" y1="629.8" x2="513" y2="629.8" stroke="#000" stroke-width="1.9"/>
<polygon points="461.10,690.30 463.30,692.50 461.10,694.70 458.90,692.50" fill="#2c2a7c"/>
<polygon points="473.10,690.30 475.30,692.50 473.10,694.70 470.90,692.50" fill="#2c2a7c"/>
<polygon points="467.10,694.30 469.30,696.50 467.10,698.70 464.90,696.50" fill="#2c2a7c"/>
<polygon points="463.00,696.80 465.20,699.00 463.00,701.20 460.80,699.00" fill="#2c2a7c"/>
<polygon points="471.00,696.80 473.20,699.00 471.00,701.20 468.80,699.00" fill="#2c2a7c"/>
<polygon points="459.00,699.30 461.20,701.50 459.00,703.70 456.80,701.50" fill="#2c2a7c"/>
<polygon points="475.00,699.30 477.20,701.50 475.00,703.70 472.80,701.50" fill="#2c2a7c"/>
<polygon points="463.50,701.30 465.70,703.50 463.50,705.70 461.30,703.50" fill="#2c2a7c"/>
<polygon points="467.10,702.30 469.30,704.50 467.10,706.70 464.90,704.50" fill="#2c2a7c"/>
<polygon points="471.00,701.30 473.20,703.50 471.00,705.70 468.80,703.50" fill="#2c2a7c"/>
<polygon points="467.10,698.30 469.30,700.50 467.10,702.70 464.90,700.50" fill="#2c2a7c"/>
<line x1="467.1" y1="698.6" x2="467.1" y2="704.4" stroke="#2c2a7c" stroke-width="1.5"/>
<line x1="462.1" y1="698.6" x2="472.1" y2="698.6" stroke="#2c2a7c" stroke-width="1.5"/>
<line x1="462.1" y1="704.4" x2="472.1" y2="704.4" stroke="#2c2a7c" stroke-width="1.5"/>
<line x1="456.6" y1="701.4" x2="477.6" y2="701.4" stroke="#000" stroke-width="1.9"/>
<line x1="433.0" y1="596.3" x2="502.7" y2="596.3" stroke="#111" stroke-width="1.6"/>
<line x1="433.0" y1="592.9" x2="433.0" y2="599.6999999999999" stroke="#111" stroke-width="1.6"/>
<line x1="502.7" y1="592.9" x2="502.7" y2="599.6999999999999" stroke="#111" stroke-width="1.6"/>
<text x="470.5" y="594.3" font-size="10.8" text-anchor="middle" stroke="#000" stroke-width="0.3">NS</text>
<line x1="433.0" y1="605.5" x2="467.1" y2="605.5" stroke="#111" stroke-width="1.6"/>
<line x1="433.0" y1="602.1" x2="433.0" y2="608.9" stroke="#111" stroke-width="1.6"/>
<line x1="467.1" y1="602.1" x2="467.1" y2="608.9" stroke="#111" stroke-width="1.6"/>
<text x="450.05" y="606.4" font-size="10" text-anchor="middle" font-weight="bold">****</text>
<line x1="467.1" y1="613.5" x2="502.7" y2="613.5" stroke="#111" stroke-width="1.6"/>
<line x1="467.1" y1="610.1" x2="467.1" y2="616.9" stroke="#111" stroke-width="1.6"/>
<line x1="502.7" y1="610.1" x2="502.7" y2="616.9" stroke="#111" stroke-width="1.6"/>
<text x="484.9" y="614.4" font-size="10" text-anchor="middle" font-weight="bold">****</text>
<text x="389.2" y="654.1" font-size="10.5" text-anchor="middle" font-weight="bold" transform="rotate(-90 389.2 654.1)">%Lin-</text>
<text x="436" y="718.5" font-size="11.4" text-anchor="end" font-weight="bold" transform="rotate(-45 436 718.5)">CON</text>
<text x="470" y="718.5" font-size="11.4" text-anchor="end" font-weight="bold" transform="rotate(-45 470 718.5)">DBA TD</text>
<text x="505" y="718.5" font-size="11.4" text-anchor="end" font-weight="bold" transform="rotate(-45 505 718.5)">DBA SR</text>
</svg></body></html>
